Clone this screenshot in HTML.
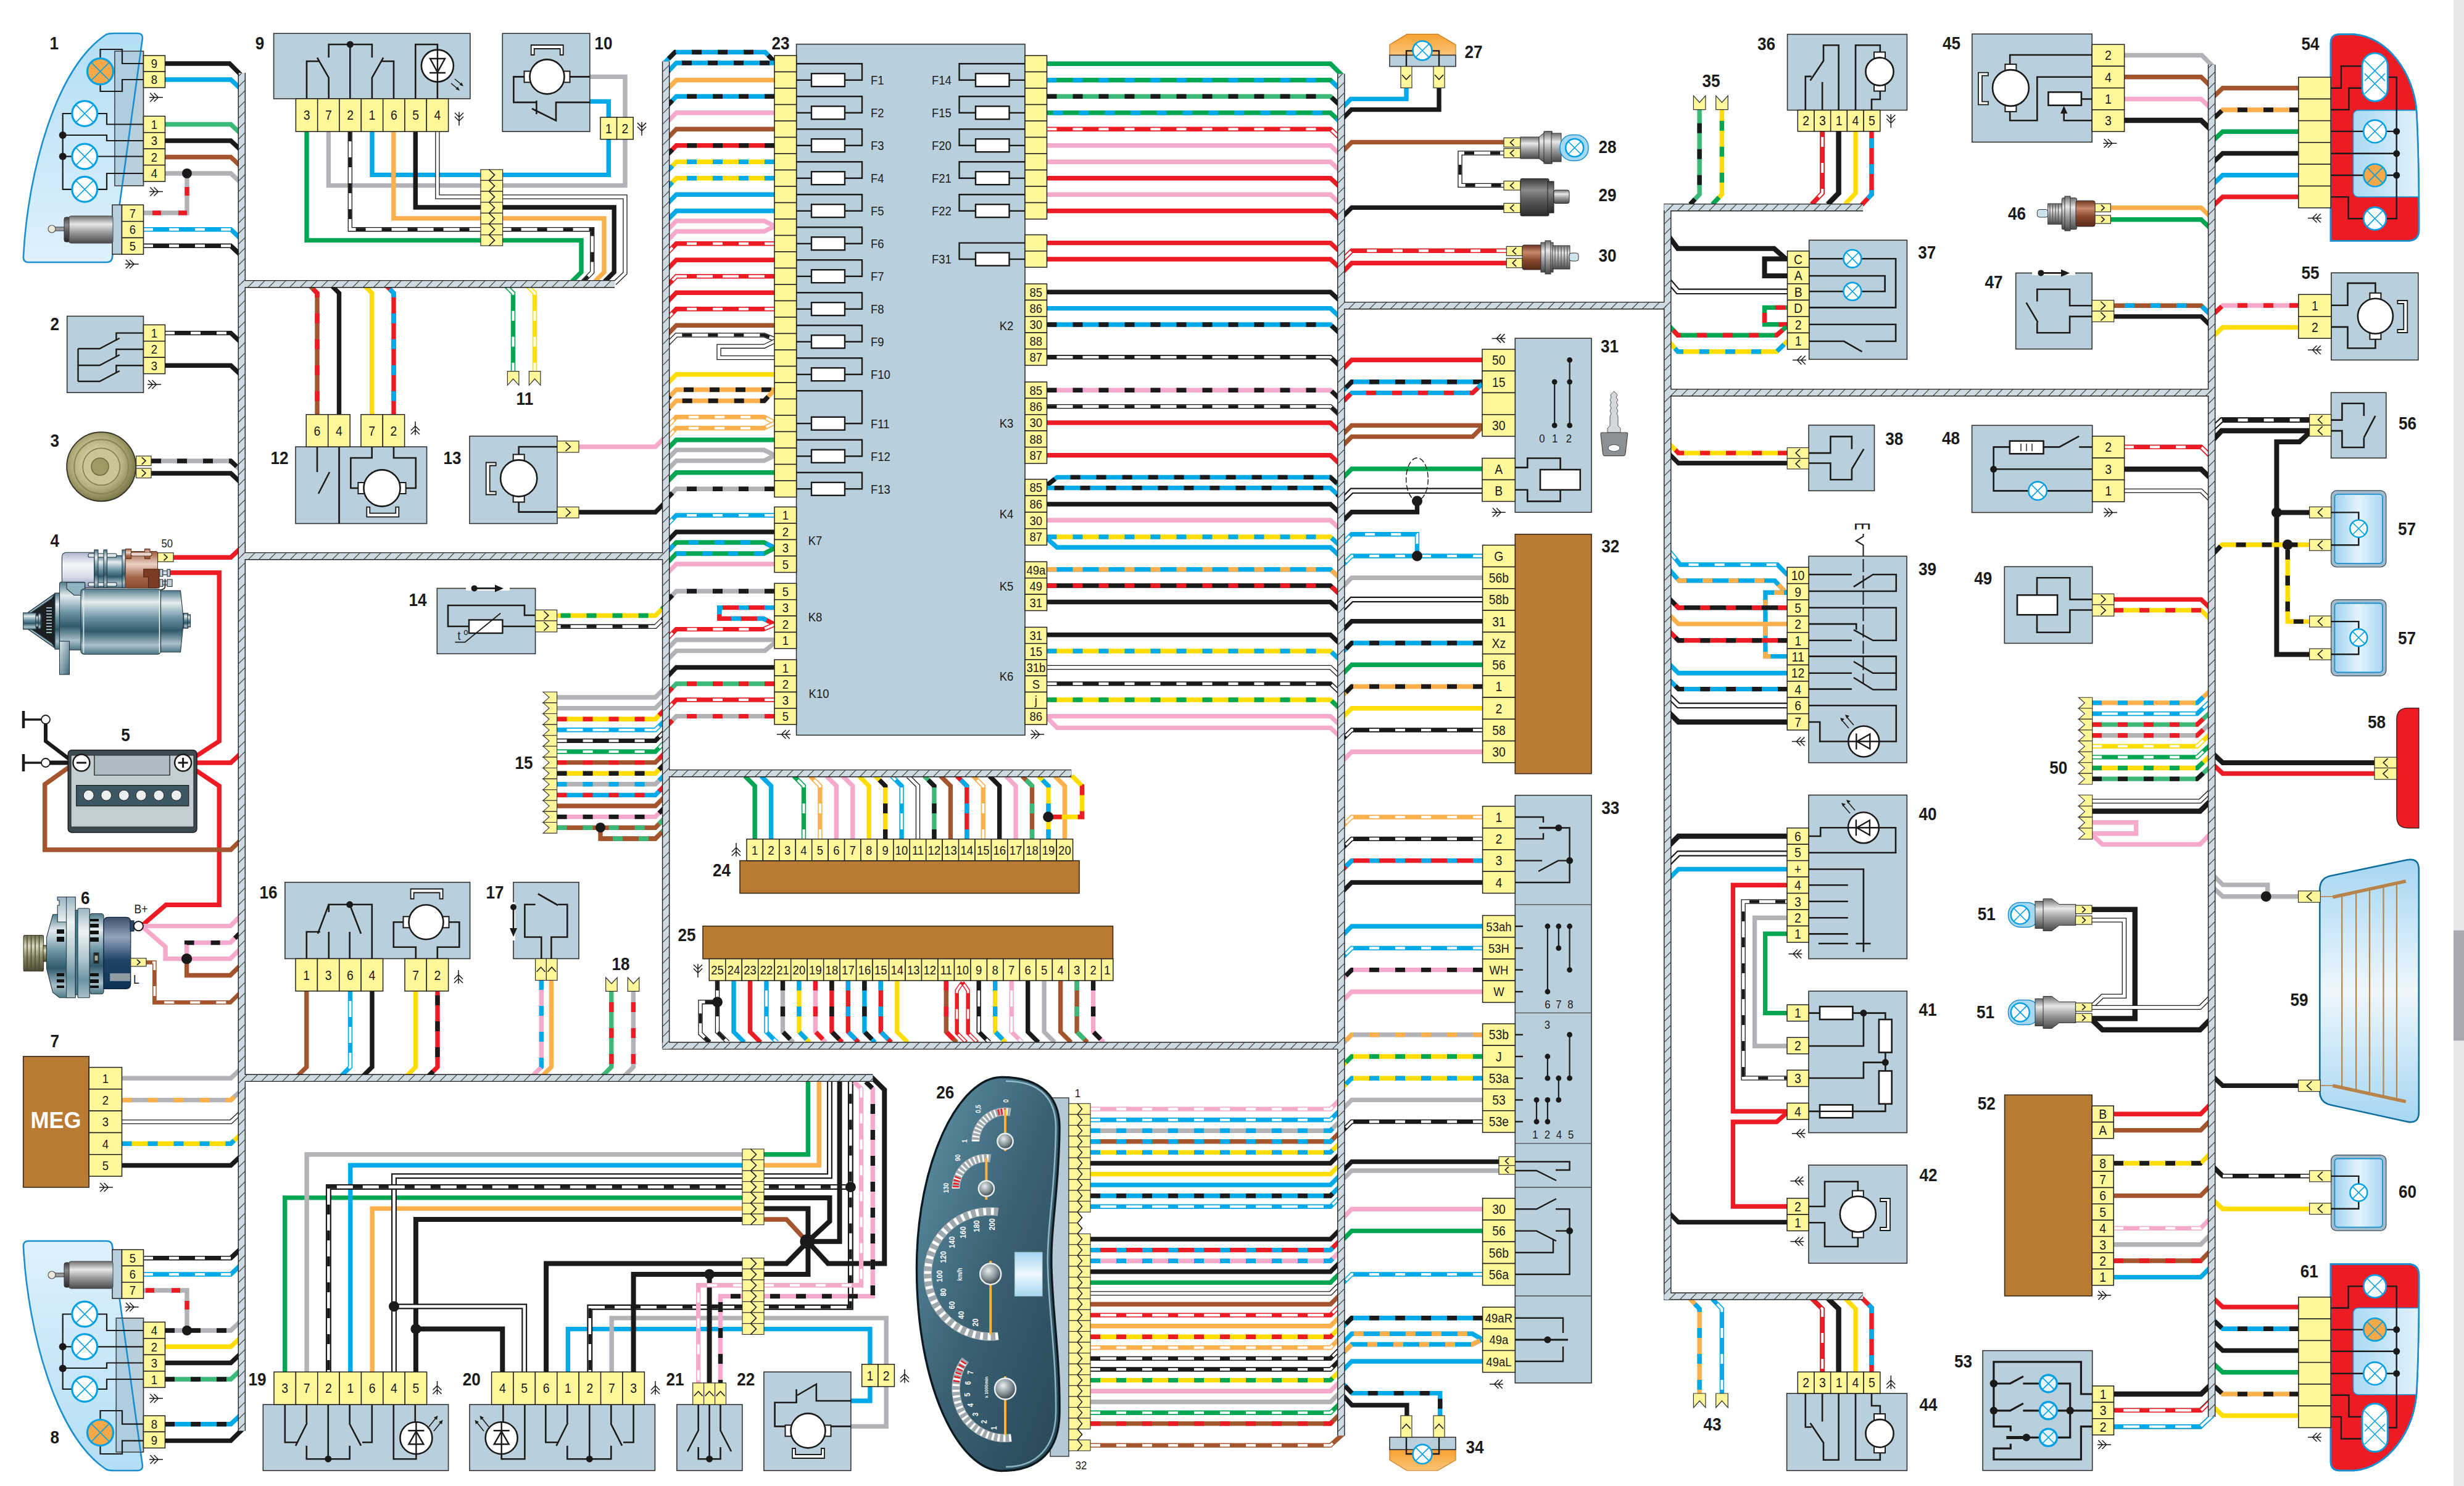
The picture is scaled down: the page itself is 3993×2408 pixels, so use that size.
<!DOCTYPE html><html><head><meta charset="utf-8"><title>Wiring diagram</title><style>html,body{margin:0;padding:0;background:#fff}svg{display:block}text{font-family:"Liberation Sans",sans-serif}</style></head><body><svg width="3993" height="2408" viewBox="0 0 3993 2408"><defs>
<pattern id="hatch" patternUnits="userSpaceOnUse" width="17" height="17"><path d="M-2 19 L19 -2 M-2 2 L2 -2 M15 19 L19 15" stroke="#333" stroke-width="1.1"/></pattern>
<linearGradient id="gHead8" x1="0" y1="0" x2="0" y2="1"><stop offset="0" stop-color="#dff1fb"/><stop offset="1" stop-color="#b3def5"/></linearGradient>
<linearGradient id="gHead" x1="0" y1="0" x2="0" y2="1"><stop offset="0" stop-color="#b3def5"/><stop offset="1" stop-color="#dff1fb"/></linearGradient>
<linearGradient id="gCyl" x1="0" y1="0" x2="0" y2="1"><stop offset="0" stop-color="#6d6e70"/><stop offset="0.3" stop-color="#e8e8e8"/><stop offset="0.6" stop-color="#9a9b9d"/><stop offset="1" stop-color="#4a4a4c"/></linearGradient>
<linearGradient id="gSteel" x1="0" y1="0" x2="0" y2="1"><stop offset="0" stop-color="#4f7a8a"/><stop offset="0.2" stop-color="#e4ecef"/><stop offset="0.45" stop-color="#6a93a2"/><stop offset="0.65" stop-color="#2f5a6b"/><stop offset="0.86" stop-color="#a9c0c9"/><stop offset="1" stop-color="#4d7888"/></linearGradient>
<linearGradient id="gSteelL" x1="0" y1="0" x2="0" y2="1"><stop offset="0" stop-color="#9ab5c0"/><stop offset="0.25" stop-color="#eef3f5"/><stop offset="0.55" stop-color="#b5cad2"/><stop offset="0.8" stop-color="#6a93a2"/><stop offset="1" stop-color="#a9c0c9"/></linearGradient>
<linearGradient id="gSteelH" x1="0" y1="0" x2="1" y2="1"><stop offset="0" stop-color="#dbe6ea"/><stop offset="1" stop-color="#3f6a7a"/></linearGradient>
<linearGradient id="gLav" x1="0" y1="0" x2="0" y2="1"><stop offset="0" stop-color="#aeb6cf"/><stop offset="0.35" stop-color="#f6f7fb"/><stop offset="0.7" stop-color="#d5d9e8"/><stop offset="1" stop-color="#8e98b8"/></linearGradient>
<linearGradient id="gBrn2" x1="0" y1="0" x2="0" y2="1"><stop offset="0" stop-color="#9a5a3e"/><stop offset="0.35" stop-color="#ecd2c4"/><stop offset="0.7" stop-color="#a5674a"/><stop offset="1" stop-color="#8b4a2e"/></linearGradient>
<linearGradient id="gOlive" x1="0" y1="0" x2="0" y2="1"><stop offset="0" stop-color="#6a6a4c"/><stop offset="0.3" stop-color="#d9d9be"/><stop offset="0.6" stop-color="#8a8a68"/><stop offset="1" stop-color="#4a4a32"/></linearGradient>
<linearGradient id="gNavy" x1="0" y1="0" x2="0" y2="1"><stop offset="0" stop-color="#3f4f6e"/><stop offset="0.28" stop-color="#93a3bc"/><stop offset="0.6" stop-color="#1f4468"/><stop offset="1" stop-color="#0c3355"/></linearGradient>
<linearGradient id="gDark" x1="0" y1="0" x2="0" y2="1"><stop offset="0" stop-color="#3c3c3e"/><stop offset="0.3" stop-color="#8a8b8d"/><stop offset="0.6" stop-color="#58595b"/><stop offset="1" stop-color="#2a2a2c"/></linearGradient>
<linearGradient id="gBrn" x1="0" y1="0" x2="0" y2="1"><stop offset="0" stop-color="#6e3520"/><stop offset="0.3" stop-color="#c98a6a"/><stop offset="0.6" stop-color="#8b4a2e"/><stop offset="1" stop-color="#5a2a18"/></linearGradient>
<linearGradient id="gLampBox" x1="0" y1="0" x2="1" y2="0"><stop offset="0" stop-color="#9fd3f0"/><stop offset="0.5" stop-color="#e4f3fb"/><stop offset="1" stop-color="#a8d8f2"/></linearGradient>
<linearGradient id="gWin" x1="0" y1="0" x2="0" y2="1"><stop offset="0" stop-color="#a5d6f2"/><stop offset="0.5" stop-color="#eef7fc"/><stop offset="1" stop-color="#a5d6f2"/></linearGradient>
<linearGradient id="gTail" x1="0" y1="0" x2="1" y2="0"><stop offset="0" stop-color="#a9d9f3"/><stop offset="1" stop-color="#e9f5fc"/></linearGradient>
<radialGradient id="gHorn" cx="0.45" cy="0.45" r="0.6"><stop offset="0" stop-color="#e9e6c0"/><stop offset="0.6" stop-color="#b7b27e"/><stop offset="1" stop-color="#6f6a3c"/></radialGradient>
<linearGradient id="gClus" x1="0" y1="0" x2="1" y2="1"><stop offset="0" stop-color="#5f95aa"/><stop offset="0.5" stop-color="#3a6172"/><stop offset="1" stop-color="#274756"/></linearGradient>
<radialGradient id="gKnob" cx="0.4" cy="0.35" r="0.7"><stop offset="0" stop-color="#e8eef0"/><stop offset="0.6" stop-color="#7d8c92"/><stop offset="1" stop-color="#2d3a40"/></radialGradient>
<linearGradient id="gOr" x1="0" y1="0" x2="0" y2="1"><stop offset="0" stop-color="#f7a030"/><stop offset="1" stop-color="#fbc67a"/></linearGradient>
</defs><rect x="3976" y="0" width="17" height="2408" fill="#e6e7e8"/>
<rect x="3976" y="1507.7" width="17" height="178.5" fill="#a7a9ac"/>
<path d="M267 103 L372 103 L390 121 L390 130" fill="none" stroke-linejoin="miter" stroke-miterlimit="3" stroke="#1a1a1a" stroke-width="7.4"/>
<path d="M267 129 L374 129 L389 143" fill="none" stroke-linejoin="miter" stroke-miterlimit="3" stroke="#00a9e8" stroke-width="7.4"/>
<path d="M267 201.5 L374 201.5 L389 215.5" fill="none" stroke-linejoin="miter" stroke-miterlimit="3" stroke="#3cb878" stroke-width="7.4"/>
<path d="M267 228 L374 228 L389 242" fill="none" stroke-linejoin="miter" stroke-miterlimit="3" stroke="#1a1a1a" stroke-width="7.4"/>
<path d="M267 254.5 L374 254.5 L389 268.5" fill="none" stroke-linejoin="miter" stroke-miterlimit="3" stroke="#a5552d" stroke-width="7.4"/>
<path d="M267 281 L374 281 L389 295" fill="none" stroke-linejoin="miter" stroke-miterlimit="3" stroke="#b1b3b6" stroke-width="7.4"/>
<path d="M303 281 L303 345 L232 345" fill="none" stroke-linejoin="miter" stroke-miterlimit="3" stroke="#b1b3b6" stroke-width="7.4"/>
<path d="M303 281 L303 345 L232 345" fill="none" stroke-linejoin="miter" stroke-miterlimit="3" stroke="#ed1c24" stroke-width="7.4" stroke-dasharray="14 28" stroke-dashoffset="-22"/>
<path d="M232 371.7 L374 371.7 L389 385.7" fill="none" stroke-linejoin="miter" stroke-miterlimit="3" stroke="#00a9e8" stroke-width="7.4"/>
<path d="M232 371.7 L374 371.7 L389 385.7" fill="none" stroke-linejoin="miter" stroke-miterlimit="3" stroke="#fff" stroke-width="4.1" stroke-dasharray="16 26" stroke-dashoffset="0"/>
<path d="M232 398.4 L374 398.4 L389 412.4" fill="none" stroke-linejoin="miter" stroke-miterlimit="3" stroke="#1a1a1a" stroke-width="7.4"/>
<path d="M232 398.4 L374 398.4 L389 412.4" fill="none" stroke-linejoin="miter" stroke-miterlimit="3" stroke="#fff" stroke-width="4.8"/>
<path d="M232 398.4 L374 398.4 L389 412.4" fill="none" stroke-linejoin="miter" stroke-miterlimit="3" stroke="#1a1a1a" stroke-width="7.4"/>
<path d="M232 398.4 L374 398.4 L389 412.4" fill="none" stroke-linejoin="miter" stroke-miterlimit="3" stroke="#fff" stroke-width="4.1" stroke-dasharray="16 26" stroke-dashoffset="0"/>
<path d="M267 539.6 L374 539.6 L389 553.6" fill="none" stroke-linejoin="miter" stroke-miterlimit="3" stroke="#1a1a1a" stroke-width="7.4"/>
<path d="M267 539.6 L374 539.6 L389 553.6" fill="none" stroke-linejoin="miter" stroke-miterlimit="3" stroke="#fff" stroke-width="4.1" stroke-dasharray="16 26" stroke-dashoffset="0"/>
<path d="M267 592.3 L374 592.3 L389 606.3" fill="none" stroke-linejoin="miter" stroke-miterlimit="3" stroke="#1a1a1a" stroke-width="7.4"/>
<path d="M245 747 L374 747 L389 761" fill="none" stroke-linejoin="miter" stroke-miterlimit="3" stroke="#b1b3b6" stroke-width="7.4"/>
<path d="M245 747 L374 747 L389 761" fill="none" stroke-linejoin="miter" stroke-miterlimit="3" stroke="#1a1a1a" stroke-width="7.4" stroke-dasharray="16 26" stroke-dashoffset="0"/>
<path d="M245 767 L374 767 L389 781" fill="none" stroke-linejoin="miter" stroke-miterlimit="3" stroke="#1a1a1a" stroke-width="7.4"/>
<path d="M281 903.3 L374 903.3 L389 889.3" fill="none" stroke-linejoin="miter" stroke-miterlimit="3" stroke="#ed1c24" stroke-width="7.4"/>
<path d="M274 928 L355.2 928 L355.2 1201 L309 1231" fill="none" stroke-linejoin="miter" stroke-miterlimit="3" stroke="#ed1c24" stroke-width="7.4"/>
<path d="M305 1236 L374 1236 L389 1222" fill="none" stroke-linejoin="miter" stroke-miterlimit="3" stroke="#ed1c24" stroke-width="7.4"/>
<path d="M305 1240 L355.2 1273.6 L355.2 1466.2 L269 1466.2 L231 1499" fill="none" stroke-linejoin="miter" stroke-miterlimit="3" stroke="#ed1c24" stroke-width="7.4"/>
<path d="M122 1236 L72.7 1271 L72.7 1377 L374 1377 L389 1362.4" fill="none" stroke-linejoin="miter" stroke-miterlimit="3" stroke="#a5552d" stroke-width="7.4"/>
<path d="M38 1152 L38 1180" fill="none" stroke-linejoin="miter" stroke-miterlimit="3" stroke="#1a1a1a" stroke-width="4.5"/>
<path d="M38 1166 L68 1166" fill="none" stroke-linejoin="miter" stroke-miterlimit="3" stroke="#1a1a1a" stroke-width="3.5"/>
<path d="M74 1172 L74 1201 L120 1236" fill="none" stroke-linejoin="miter" stroke-miterlimit="3" stroke="#1a1a1a" stroke-width="6"/>
<path d="M38 1222 L38 1250" fill="none" stroke-linejoin="miter" stroke-miterlimit="3" stroke="#1a1a1a" stroke-width="4.5"/>
<path d="M38 1236 L68 1236" fill="none" stroke-linejoin="miter" stroke-miterlimit="3" stroke="#1a1a1a" stroke-width="3.5"/>
<path d="M80 1236 L122 1236" fill="none" stroke-linejoin="miter" stroke-miterlimit="3" stroke="#1a1a1a" stroke-width="7"/>
<path d="M232 1500.6 L373.2 1500.6 L388 1486" fill="none" stroke-linejoin="miter" stroke-miterlimit="3" stroke="#f5aacb" stroke-width="7.4"/>
<path d="M231 1502 L268.1 1534.3 L268.1 1553.6 L373.2 1553.6 L388 1539" fill="none" stroke-linejoin="miter" stroke-miterlimit="3" stroke="#f5aacb" stroke-width="7.4"/>
<path d="M302.6 1553.6 L302.6 1527.6 L373.2 1527.6 L388 1513" fill="none" stroke-linejoin="miter" stroke-miterlimit="3" stroke="#f5aacb" stroke-width="7.4"/>
<path d="M302.6 1553.6 L302.6 1527.6 L373.2 1527.6 L388 1513" fill="none" stroke-linejoin="miter" stroke-miterlimit="3" stroke="#1a1a1a" stroke-width="7.4" stroke-dasharray="15 27" stroke-dashoffset="-23"/>
<path d="M302.6 1556 L302.6 1580.5 L373.2 1580.5 L388 1566" fill="none" stroke-linejoin="miter" stroke-miterlimit="3" stroke="#a5552d" stroke-width="7.4"/>
<path d="M237 1559.5 L250.4 1559.5 L250.4 1624.3 L373.2 1624.3 L388 1610" fill="none" stroke-linejoin="miter" stroke-miterlimit="3" stroke="#a5552d" stroke-width="6.7"/>
<path d="M237 1559.5 L250.4 1559.5 L250.4 1624.3 L373.2 1624.3 L388 1610" fill="none" stroke-linejoin="miter" stroke-miterlimit="3" stroke="#fff" stroke-width="3.7" stroke-dasharray="16 26" stroke-dashoffset="-10"/>
<path d="M197.5 1747.3 L374 1747.3 L389 1733.3" fill="none" stroke-linejoin="miter" stroke-miterlimit="3" stroke="#b1b3b6" stroke-width="7.4"/>
<path d="M197.5 1782.6 L374 1782.6 L389 1768.6" fill="none" stroke-linejoin="miter" stroke-miterlimit="3" stroke="#b1b3b6" stroke-width="7.4"/>
<path d="M197.5 1782.6 L374 1782.6 L389 1768.6" fill="none" stroke-linejoin="miter" stroke-miterlimit="3" stroke="#fbb04c" stroke-width="7.4" stroke-dasharray="16 26" stroke-dashoffset="0"/>
<path d="M197.5 1817.9 L374 1817.9 L389 1803.9" fill="none" stroke-linejoin="miter" stroke-miterlimit="3" stroke="#1a1a1a" stroke-width="7.4"/>
<path d="M197.5 1817.9 L374 1817.9 L389 1803.9" fill="none" stroke-linejoin="miter" stroke-miterlimit="3" stroke="#fff" stroke-width="4.8"/>
<path d="M197.5 1853.2 L374 1853.2 L389 1839.2" fill="none" stroke-linejoin="miter" stroke-miterlimit="3" stroke="#ffdd00" stroke-width="7.4"/>
<path d="M197.5 1853.2 L374 1853.2 L389 1839.2" fill="none" stroke-linejoin="miter" stroke-miterlimit="3" stroke="#00a9e8" stroke-width="7.4" stroke-dasharray="16 26" stroke-dashoffset="0"/>
<path d="M197.5 1888.5 L374 1888.5 L389 1874.5" fill="none" stroke-linejoin="miter" stroke-miterlimit="3" stroke="#1a1a1a" stroke-width="7.4"/>
<path d="M232 2038.6 L374 2038.6 L389 2024.6" fill="none" stroke-linejoin="miter" stroke-miterlimit="3" stroke="#1a1a1a" stroke-width="7.4"/>
<path d="M232 2038.6 L374 2038.6 L389 2024.6" fill="none" stroke-linejoin="miter" stroke-miterlimit="3" stroke="#fff" stroke-width="4.8"/>
<path d="M232 2038.6 L374 2038.6 L389 2024.6" fill="none" stroke-linejoin="miter" stroke-miterlimit="3" stroke="#1a1a1a" stroke-width="7.4"/>
<path d="M232 2038.6 L374 2038.6 L389 2024.6" fill="none" stroke-linejoin="miter" stroke-miterlimit="3" stroke="#fff" stroke-width="4.1" stroke-dasharray="16 26" stroke-dashoffset="0"/>
<path d="M232 2065 L374 2065 L389 2051" fill="none" stroke-linejoin="miter" stroke-miterlimit="3" stroke="#00a9e8" stroke-width="7.4"/>
<path d="M232 2065 L374 2065 L389 2051" fill="none" stroke-linejoin="miter" stroke-miterlimit="3" stroke="#fff" stroke-width="4.1" stroke-dasharray="16 26" stroke-dashoffset="0"/>
<path d="M232 2091 L303 2091 L303 2156" fill="none" stroke-linejoin="miter" stroke-miterlimit="3" stroke="#b1b3b6" stroke-width="7.4"/>
<path d="M232 2091 L303 2091 L303 2156" fill="none" stroke-linejoin="miter" stroke-miterlimit="3" stroke="#ed1c24" stroke-width="7.4" stroke-dasharray="14 28" stroke-dashoffset="-4"/>
<path d="M267 2156 L374 2156 L389 2142" fill="none" stroke-linejoin="miter" stroke-miterlimit="3" stroke="#b1b3b6" stroke-width="7.4"/>
<path d="M267 2156 L374 2156 L389 2142" fill="none" stroke-linejoin="miter" stroke-miterlimit="3" stroke="#1a1a1a" stroke-width="7.4" stroke-dasharray="16 26" stroke-dashoffset="0"/>
<path d="M267 2182.3 L374 2182.3 L389 2168.3" fill="none" stroke-linejoin="miter" stroke-miterlimit="3" stroke="#ffdd00" stroke-width="7.4"/>
<path d="M267 2208.5 L374 2208.5 L389 2194.5" fill="none" stroke-linejoin="miter" stroke-miterlimit="3" stroke="#1a1a1a" stroke-width="7.4"/>
<path d="M267 2235 L374 2235 L389 2221" fill="none" stroke-linejoin="miter" stroke-miterlimit="3" stroke="#3cb878" stroke-width="7.4"/>
<path d="M267 2235 L374 2235 L389 2221" fill="none" stroke-linejoin="miter" stroke-miterlimit="3" stroke="#1a1a1a" stroke-width="7.4" stroke-dasharray="16 26" stroke-dashoffset="0"/>
<path d="M267 2307.7 L374 2307.7 L389 2293.7" fill="none" stroke-linejoin="miter" stroke-miterlimit="3" stroke="#00a9e8" stroke-width="7.4"/>
<path d="M267 2307.7 L374 2307.7 L389 2293.7" fill="none" stroke-linejoin="miter" stroke-miterlimit="3" stroke="#1a1a1a" stroke-width="7.4" stroke-dasharray="16 26" stroke-dashoffset="0"/>
<path d="M267 2334.6 L374 2334.6 L392 2317 L392 2300" fill="none" stroke-linejoin="miter" stroke-miterlimit="3" stroke="#1a1a1a" stroke-width="7.4"/>
<path d="M497 213 L497 389.4 L942 389.4 L942 441 L927 456" fill="none" stroke-linejoin="miter" stroke-miterlimit="3" stroke="#00a651" stroke-width="7.4"/>
<path d="M532.4 213 L532.4 300.6 L1013 300.6 L1013 124.4 L955 124.4" fill="none" stroke-linejoin="miter" stroke-miterlimit="3" stroke="#b1b3b6" stroke-width="7.4"/>
<path d="M567.3 213 L567.3 371.7 L959.7 371.7 L959.7 441 L945 456" fill="none" stroke-linejoin="miter" stroke-miterlimit="3" stroke="#1a1a1a" stroke-width="7.4"/>
<path d="M567.3 213 L567.3 371.7 L959.7 371.7 L959.7 441 L945 456" fill="none" stroke-linejoin="miter" stroke-miterlimit="3" stroke="#fff" stroke-width="4.8"/>
<path d="M567.3 213 L567.3 371.7 L959.7 371.7 L959.7 441 L945 456" fill="none" stroke-linejoin="miter" stroke-miterlimit="3" stroke="#1a1a1a" stroke-width="4.8" stroke-dasharray="16 26" stroke-dashoffset="0"/>
<path d="M603 213 L603 283.4 L986.3 283.4 L986.3 164.4 L955 164.4" fill="none" stroke-linejoin="miter" stroke-miterlimit="3" stroke="#00a9e8" stroke-width="7.4"/>
<path d="M637.8 213 L637.8 353.9 L979 353.9 L979 441 L964 456" fill="none" stroke-linejoin="miter" stroke-miterlimit="3" stroke="#fbb04c" stroke-width="7.4"/>
<path d="M673.3 213 L673.3 336 L995.2 336 L995.2 441 L980 456" fill="none" stroke-linejoin="miter" stroke-miterlimit="3" stroke="#1a1a1a" stroke-width="7.4"/>
<path d="M708.9 213 L708.9 319 L1013 319 L1013 442.7 L996 459" fill="none" stroke-linejoin="miter" stroke-miterlimit="3" stroke="#1a1a1a" stroke-width="7.4"/>
<path d="M708.9 213 L708.9 319 L1013 319 L1013 442.7 L996 459" fill="none" stroke-linejoin="miter" stroke-miterlimit="3" stroke="#fff" stroke-width="4.8"/>
<path d="M499 460 L514 475 L514 672" fill="none" stroke-linejoin="miter" stroke-miterlimit="3" stroke="#a5552d" stroke-width="7.4"/>
<path d="M499 460 L514 475 L514 672" fill="none" stroke-linejoin="miter" stroke-miterlimit="3" stroke="#ed1c24" stroke-width="7.4" stroke-dasharray="16 26" stroke-dashoffset="-12"/>
<path d="M534.5 460 L549.5 475 L549.5 672" fill="none" stroke-linejoin="miter" stroke-miterlimit="3" stroke="#1a1a1a" stroke-width="7.4"/>
<path d="M587.7 460 L602.7 475 L602.7 672" fill="none" stroke-linejoin="miter" stroke-miterlimit="3" stroke="#ffdd00" stroke-width="7.4"/>
<path d="M623 460 L638 475 L638 672" fill="none" stroke-linejoin="miter" stroke-miterlimit="3" stroke="#ed1c24" stroke-width="7.4"/>
<path d="M623 460 L638 475 L638 672" fill="none" stroke-linejoin="miter" stroke-miterlimit="3" stroke="#00a9e8" stroke-width="7.4" stroke-dasharray="16 26" stroke-dashoffset="-12"/>
<path d="M816.5 460 L831.5 475 L831.5 602" fill="none" stroke-linejoin="miter" stroke-miterlimit="3" stroke="#00a651" stroke-width="7.4"/>
<path d="M816.5 460 L831.5 475 L831.5 602" fill="none" stroke-linejoin="miter" stroke-miterlimit="3" stroke="#fff" stroke-width="4.1" stroke-dasharray="16 26" stroke-dashoffset="-8"/>
<path d="M851.5 460 L866.5 475 L866.5 602" fill="none" stroke-linejoin="miter" stroke-miterlimit="3" stroke="#ffdd00" stroke-width="7.4"/>
<path d="M851.5 460 L866.5 475 L866.5 602" fill="none" stroke-linejoin="miter" stroke-miterlimit="3" stroke="#fff" stroke-width="4.1" stroke-dasharray="16 26" stroke-dashoffset="-8"/>
<path d="M938 724 L1062 724 L1076 710" fill="none" stroke-linejoin="miter" stroke-miterlimit="3" stroke="#f5aacb" stroke-width="7.4"/>
<path d="M938 830 L1062 830 L1076 816" fill="none" stroke-linejoin="miter" stroke-miterlimit="3" stroke="#1a1a1a" stroke-width="7.4"/>
<path d="M902.6 997.5 L1062 997.5 L1076 983.5" fill="none" stroke-linejoin="miter" stroke-miterlimit="3" stroke="#ffdd00" stroke-width="7.4"/>
<path d="M902.6 997.5 L1062 997.5 L1076 983.5" fill="none" stroke-linejoin="miter" stroke-miterlimit="3" stroke="#00a651" stroke-width="7.4" stroke-dasharray="16 26" stroke-dashoffset="-6"/>
<path d="M902.6 1015.3 L1062 1015.3 L1076 1001.3" fill="none" stroke-linejoin="miter" stroke-miterlimit="3" stroke="#1a1a1a" stroke-width="7.4"/>
<path d="M902.6 1015.3 L1062 1015.3 L1076 1001.3" fill="none" stroke-linejoin="miter" stroke-miterlimit="3" stroke="#fff" stroke-width="4.8"/>
<path d="M902.6 1015.3 L1062 1015.3 L1076 1001.3" fill="none" stroke-linejoin="miter" stroke-miterlimit="3" stroke="#1a1a1a" stroke-width="4.8" stroke-dasharray="16 26" stroke-dashoffset="-6"/>
<path d="M902.6 1130 L1062 1130 L1076 1116" fill="none" stroke-linejoin="miter" stroke-miterlimit="3" stroke="#b1b3b6" stroke-width="7.4"/>
<path d="M902.6 1147.6 L1062 1147.6 L1076 1133.6" fill="none" stroke-linejoin="miter" stroke-miterlimit="3" stroke="#b1b3b6" stroke-width="7.4"/>
<path d="M902.6 1165.2 L1062 1165.2 L1076 1151.2" fill="none" stroke-linejoin="miter" stroke-miterlimit="3" stroke="#ffdd00" stroke-width="7.4"/>
<path d="M902.6 1165.2 L1062 1165.2 L1076 1151.2" fill="none" stroke-linejoin="miter" stroke-miterlimit="3" stroke="#ed1c24" stroke-width="7.4" stroke-dasharray="16 26" stroke-dashoffset="0"/>
<path d="M902.6 1182.8 L1062 1182.8 L1076 1168.8" fill="none" stroke-linejoin="miter" stroke-miterlimit="3" stroke="#00a9e8" stroke-width="7.4"/>
<path d="M902.6 1182.8 L1062 1182.8 L1076 1168.8" fill="none" stroke-linejoin="miter" stroke-miterlimit="3" stroke="#fff" stroke-width="4.1" stroke-dasharray="26 16" stroke-dashoffset="-16"/>
<path d="M902.6 1200.4 L1062 1200.4 L1076 1186.4" fill="none" stroke-linejoin="miter" stroke-miterlimit="3" stroke="#1a1a1a" stroke-width="7.4"/>
<path d="M902.6 1200.4 L1062 1200.4 L1076 1186.4" fill="none" stroke-linejoin="miter" stroke-miterlimit="3" stroke="#fff" stroke-width="4.1" stroke-dasharray="16 26" stroke-dashoffset="0"/>
<path d="M902.6 1218 L1062 1218 L1076 1204" fill="none" stroke-linejoin="miter" stroke-miterlimit="3" stroke="#00a651" stroke-width="7.4"/>
<path d="M902.6 1218 L1062 1218 L1076 1204" fill="none" stroke-linejoin="miter" stroke-miterlimit="3" stroke="#fff" stroke-width="4.1" stroke-dasharray="16 26" stroke-dashoffset="0"/>
<path d="M902.6 1235.6 L1062 1235.6 L1076 1221.6" fill="none" stroke-linejoin="miter" stroke-miterlimit="3" stroke="#a5552d" stroke-width="7.4"/>
<path d="M902.6 1235.6 L1062 1235.6 L1076 1221.6" fill="none" stroke-linejoin="miter" stroke-miterlimit="3" stroke="#ed1c24" stroke-width="7.4" stroke-dasharray="16 26" stroke-dashoffset="0"/>
<path d="M902.6 1253.2 L1062 1253.2 L1076 1239.2" fill="none" stroke-linejoin="miter" stroke-miterlimit="3" stroke="#ffdd00" stroke-width="7.4"/>
<path d="M902.6 1253.2 L1062 1253.2 L1076 1239.2" fill="none" stroke-linejoin="miter" stroke-miterlimit="3" stroke="#1a1a1a" stroke-width="7.4" stroke-dasharray="16 26" stroke-dashoffset="0"/>
<path d="M902.6 1270.8 L1062 1270.8 L1076 1256.8" fill="none" stroke-linejoin="miter" stroke-miterlimit="3" stroke="#b1b3b6" stroke-width="7.4"/>
<path d="M902.6 1270.8 L1062 1270.8 L1076 1256.8" fill="none" stroke-linejoin="miter" stroke-miterlimit="3" stroke="#00a9e8" stroke-width="7.4" stroke-dasharray="16 26" stroke-dashoffset="0"/>
<path d="M902.6 1288.4 L1062 1288.4 L1076 1274.4" fill="none" stroke-linejoin="miter" stroke-miterlimit="3" stroke="#00a9e8" stroke-width="7.4"/>
<path d="M902.6 1288.4 L1062 1288.4 L1076 1274.4" fill="none" stroke-linejoin="miter" stroke-miterlimit="3" stroke="#ed1c24" stroke-width="7.4" stroke-dasharray="16 26" stroke-dashoffset="0"/>
<path d="M902.6 1306 L1062 1306 L1076 1292" fill="none" stroke-linejoin="miter" stroke-miterlimit="3" stroke="#a5552d" stroke-width="7.4"/>
<path d="M902.6 1323.6 L1062 1323.6 L1076 1309.6" fill="none" stroke-linejoin="miter" stroke-miterlimit="3" stroke="#f5aacb" stroke-width="7.4"/>
<path d="M902.6 1323.6 L1062 1323.6 L1076 1309.6" fill="none" stroke-linejoin="miter" stroke-miterlimit="3" stroke="#1a1a1a" stroke-width="7.4" stroke-dasharray="16 26" stroke-dashoffset="0"/>
<path d="M902.6 1341.2 L1062 1341.2 L1076 1327.2" fill="none" stroke-linejoin="miter" stroke-miterlimit="3" stroke="#a5552d" stroke-width="7.4"/>
<path d="M902.6 1341.2 L1062 1341.2 L1076 1327.2" fill="none" stroke-linejoin="miter" stroke-miterlimit="3" stroke="#3cb878" stroke-width="7.4" stroke-dasharray="16 26" stroke-dashoffset="0"/>
<path d="M973 1341 L973 1359 L1062 1359 L1076 1345" fill="none" stroke-linejoin="miter" stroke-miterlimit="3" stroke="#a5552d" stroke-width="7.4"/>
<path d="M973 1359 L1062 1359 L1076 1345" fill="none" stroke-linejoin="miter" stroke-miterlimit="3" stroke="#a5552d" stroke-width="7.4"/>
<path d="M973 1359 L1062 1359 L1076 1345" fill="none" stroke-linejoin="miter" stroke-miterlimit="3" stroke="#3cb878" stroke-width="7.4" stroke-dasharray="16 26" stroke-dashoffset="-20"/>
<path d="M496.8 1606 L496.8 1729 L481.8 1744" fill="none" stroke-linejoin="miter" stroke-miterlimit="3" stroke="#a5552d" stroke-width="7.4"/>
<path d="M567.5 1606 L567.5 1729 L552.5 1744" fill="none" stroke-linejoin="miter" stroke-miterlimit="3" stroke="#00a9e8" stroke-width="7.4"/>
<path d="M567.5 1606 L567.5 1729 L552.5 1744" fill="none" stroke-linejoin="miter" stroke-miterlimit="3" stroke="#fff" stroke-width="4.1" stroke-dasharray="26 16" stroke-dashoffset="-16"/>
<path d="M603 1606 L603 1729 L588 1744" fill="none" stroke-linejoin="miter" stroke-miterlimit="3" stroke="#1a1a1a" stroke-width="7.4"/>
<path d="M673.6 1606 L673.6 1729 L658.6 1744" fill="none" stroke-linejoin="miter" stroke-miterlimit="3" stroke="#ffdd00" stroke-width="7.4"/>
<path d="M709 1606 L709 1729 L694 1744" fill="none" stroke-linejoin="miter" stroke-miterlimit="3" stroke="#ed1c24" stroke-width="7.4"/>
<path d="M709 1606 L709 1729 L694 1744" fill="none" stroke-linejoin="miter" stroke-miterlimit="3" stroke="#1a1a1a" stroke-width="7.4" stroke-dasharray="16 26" stroke-dashoffset="-7"/>
<path d="M877.3 1588 L877.3 1729 L862.3 1744" fill="none" stroke-linejoin="miter" stroke-miterlimit="3" stroke="#f5aacb" stroke-width="7.4"/>
<path d="M877.3 1588 L877.3 1729 L862.3 1744" fill="none" stroke-linejoin="miter" stroke-miterlimit="3" stroke="#00a9e8" stroke-width="7.4" stroke-dasharray="16 26" stroke-dashoffset="0"/>
<path d="M893.4 1588 L893.4 1729 L878.4 1744" fill="none" stroke-linejoin="miter" stroke-miterlimit="3" stroke="#fbb04c" stroke-width="7.4"/>
<path d="M990.8 1606 L990.8 1729 L975.8 1744" fill="none" stroke-linejoin="miter" stroke-miterlimit="3" stroke="#3cb878" stroke-width="7.4"/>
<path d="M990.8 1606 L990.8 1729 L975.8 1744" fill="none" stroke-linejoin="miter" stroke-miterlimit="3" stroke="#ed1c24" stroke-width="7.4" stroke-dasharray="16 26" stroke-dashoffset="-18"/>
<path d="M1026.4 1606 L1026.4 1729 L1011.4 1744" fill="none" stroke-linejoin="miter" stroke-miterlimit="3" stroke="#b1b3b6" stroke-width="7.4"/>
<path d="M1026.4 1606 L1026.4 1729 L1011.4 1744" fill="none" stroke-linejoin="miter" stroke-miterlimit="3" stroke="#ed1c24" stroke-width="7.4" stroke-dasharray="16 26" stroke-dashoffset="-18"/>
<path d="M1256 101 L1240 84.5 L1094 84.5 L1077 101.5" fill="none" stroke-linejoin="miter" stroke-miterlimit="3" stroke="#00a9e8" stroke-width="7.4"/>
<path d="M1256 101 L1240 84.5 L1094 84.5 L1077 101.5" fill="none" stroke-linejoin="miter" stroke-miterlimit="3" stroke="#1a1a1a" stroke-width="7.4" stroke-dasharray="16 26" stroke-dashoffset="0"/>
<path d="M1255 102 L1096 102 L1082 116.5" fill="none" stroke-linejoin="miter" stroke-miterlimit="3" stroke="#00a9e8" stroke-width="7.4"/>
<path d="M1255 102 L1096 102 L1082 116.5" fill="none" stroke-linejoin="miter" stroke-miterlimit="3" stroke="#1a1a1a" stroke-width="7.4" stroke-dasharray="16 26" stroke-dashoffset="-8"/>
<path d="M1255 129.8 L1096 129.8 L1082 144.2" fill="none" stroke-linejoin="miter" stroke-miterlimit="3" stroke="#fbb04c" stroke-width="7.4"/>
<path d="M1255 156.2 L1096 156.2 L1082 170.8" fill="none" stroke-linejoin="miter" stroke-miterlimit="3" stroke="#00a9e8" stroke-width="7.4"/>
<path d="M1255 156.2 L1096 156.2 L1082 170.8" fill="none" stroke-linejoin="miter" stroke-miterlimit="3" stroke="#1a1a1a" stroke-width="7.4" stroke-dasharray="16 26" stroke-dashoffset="0"/>
<path d="M1255 182.8 L1096 182.8 L1082 197.2" fill="none" stroke-linejoin="miter" stroke-miterlimit="3" stroke="#f5aacb" stroke-width="7.4"/>
<path d="M1255 209.2 L1096 209.2 L1082 223.8" fill="none" stroke-linejoin="miter" stroke-miterlimit="3" stroke="#a5552d" stroke-width="7.4"/>
<path d="M1255 235.8 L1096 235.8 L1082 250.2" fill="none" stroke-linejoin="miter" stroke-miterlimit="3" stroke="#ed1c24" stroke-width="7.4"/>
<path d="M1255 235.8 L1096 235.8 L1082 250.2" fill="none" stroke-linejoin="miter" stroke-miterlimit="3" stroke="#1a1a1a" stroke-width="7.4" stroke-dasharray="16 26" stroke-dashoffset="0"/>
<path d="M1255 262.2 L1096 262.2 L1082 276.8" fill="none" stroke-linejoin="miter" stroke-miterlimit="3" stroke="#ffdd00" stroke-width="7.4"/>
<path d="M1255 262.2 L1096 262.2 L1082 276.8" fill="none" stroke-linejoin="miter" stroke-miterlimit="3" stroke="#00a9e8" stroke-width="7.4" stroke-dasharray="16 26" stroke-dashoffset="0"/>
<path d="M1255 288.8 L1096 288.8 L1082 303.2" fill="none" stroke-linejoin="miter" stroke-miterlimit="3" stroke="#ffdd00" stroke-width="7.4"/>
<path d="M1255 288.8 L1096 288.8 L1082 303.2" fill="none" stroke-linejoin="miter" stroke-miterlimit="3" stroke="#00a9e8" stroke-width="7.4" stroke-dasharray="16 26" stroke-dashoffset="0"/>
<path d="M1255 315.2 L1096 315.2 L1082 329.8" fill="none" stroke-linejoin="miter" stroke-miterlimit="3" stroke="#00a9e8" stroke-width="7.4"/>
<path d="M1255 341.8 L1096 341.8 L1082 356.2" fill="none" stroke-linejoin="miter" stroke-miterlimit="3" stroke="#00a9e8" stroke-width="7.4"/>
<path d="M1256 366.5 L1238 358 L1096 358 L1082 372.5" fill="none" stroke-linejoin="miter" stroke-miterlimit="3" stroke="#f5aacb" stroke-width="7.4"/>
<path d="M1256 366.5 L1238 375 L1096 375 L1082 389.5" fill="none" stroke-linejoin="miter" stroke-miterlimit="3" stroke="#f5aacb" stroke-width="7.4"/>
<path d="M1255 394.8 L1096 394.8 L1082 409.2" fill="none" stroke-linejoin="miter" stroke-miterlimit="3" stroke="#ed1c24" stroke-width="7.4"/>
<path d="M1255 394.8 L1096 394.8 L1082 409.2" fill="none" stroke-linejoin="miter" stroke-miterlimit="3" stroke="#fff" stroke-width="4.1" stroke-dasharray="16 26" stroke-dashoffset="0"/>
<path d="M1255 421.2 L1096 421.2 L1082 435.8" fill="none" stroke-linejoin="miter" stroke-miterlimit="3" stroke="#ed1c24" stroke-width="7.4"/>
<path d="M1255 447.8 L1096 447.8 L1082 462.2" fill="none" stroke-linejoin="miter" stroke-miterlimit="3" stroke="#ed1c24" stroke-width="7.4"/>
<path d="M1255 447.8 L1096 447.8 L1082 462.2" fill="none" stroke-linejoin="miter" stroke-miterlimit="3" stroke="#fff" stroke-width="4.1" stroke-dasharray="26 16" stroke-dashoffset="-16"/>
<path d="M1255 474.2 L1096 474.2 L1082 488.8" fill="none" stroke-linejoin="miter" stroke-miterlimit="3" stroke="#ed1c24" stroke-width="7.4"/>
<path d="M1255 500.8 L1096 500.8 L1082 515.2" fill="none" stroke-linejoin="miter" stroke-miterlimit="3" stroke="#ed1c24" stroke-width="7.4"/>
<path d="M1255 500.8 L1096 500.8 L1082 515.2" fill="none" stroke-linejoin="miter" stroke-miterlimit="3" stroke="#fff" stroke-width="4.1" stroke-dasharray="16 26" stroke-dashoffset="0"/>
<path d="M1255 527.2 L1096 527.2 L1082 541.8" fill="none" stroke-linejoin="miter" stroke-miterlimit="3" stroke="#a5552d" stroke-width="7.4"/>
<path d="M1256 550 L1238.4 543 L1096 543 L1082 557.5" fill="none" stroke-linejoin="miter" stroke-miterlimit="3" stroke="#1a1a1a" stroke-width="7.4"/>
<path d="M1256 550 L1238.4 543 L1096 543 L1082 557.5" fill="none" stroke-linejoin="miter" stroke-miterlimit="3" stroke="#fff" stroke-width="4.8"/>
<path d="M1256 550 L1238.4 543 L1096 543 L1082 557.5" fill="none" stroke-linejoin="miter" stroke-miterlimit="3" stroke="#1a1a1a" stroke-width="4.8" stroke-dasharray="16 26" stroke-dashoffset="-10"/>
<path d="M1256 552.5 L1238.4 561.2 L1165 561.2 L1165 579.6 L1256 579.6" fill="none" stroke-linejoin="miter" stroke-miterlimit="3" stroke="#1a1a1a" stroke-width="7.4"/>
<path d="M1256 552.5 L1238.4 561.2 L1165 561.2 L1165 579.6 L1256 579.6" fill="none" stroke-linejoin="miter" stroke-miterlimit="3" stroke="#fff" stroke-width="4.8"/>
<path d="M1255 606.8 L1096 606.8 L1082 621.2" fill="none" stroke-linejoin="miter" stroke-miterlimit="3" stroke="#ffdd00" stroke-width="7.4"/>
<path d="M1256 631.5 L1096 631.5 L1082 646" fill="none" stroke-linejoin="miter" stroke-miterlimit="3" stroke="#fbb04c" stroke-width="7.4"/>
<path d="M1256 631.5 L1096 631.5 L1082 646" fill="none" stroke-linejoin="miter" stroke-miterlimit="3" stroke="#1a1a1a" stroke-width="7.4" stroke-dasharray="16 26" stroke-dashoffset="-6"/>
<path d="M1253 634 L1238.4 649.5 L1096 649.5 L1082 664" fill="none" stroke-linejoin="miter" stroke-miterlimit="3" stroke="#fbb04c" stroke-width="7.4"/>
<path d="M1253 634 L1238.4 649.5 L1096 649.5 L1082 664" fill="none" stroke-linejoin="miter" stroke-miterlimit="3" stroke="#1a1a1a" stroke-width="7.4" stroke-dasharray="16 26" stroke-dashoffset="-12"/>
<path d="M1256 685 L1238 675.8 L1096 675.8 L1082 690.3" fill="none" stroke-linejoin="miter" stroke-miterlimit="3" stroke="#fbb04c" stroke-width="7.4"/>
<path d="M1256 685 L1238 675.8 L1096 675.8 L1082 690.3" fill="none" stroke-linejoin="miter" stroke-miterlimit="3" stroke="#fff" stroke-width="4.1" stroke-dasharray="16 26" stroke-dashoffset="0"/>
<path d="M1256 685 L1238 693.8 L1096 693.8 L1082 708.3" fill="none" stroke-linejoin="miter" stroke-miterlimit="3" stroke="#fbb04c" stroke-width="7.4"/>
<path d="M1256 685 L1238 693.8 L1096 693.8 L1082 708.3" fill="none" stroke-linejoin="miter" stroke-miterlimit="3" stroke="#fff" stroke-width="4.1" stroke-dasharray="16 26" stroke-dashoffset="0"/>
<path d="M1255 712.8 L1096 712.8 L1082 727.2" fill="none" stroke-linejoin="miter" stroke-miterlimit="3" stroke="#00a651" stroke-width="7.4"/>
<path d="M1256 738 L1238 729.1 L1096 729.1 L1082 743.6" fill="none" stroke-linejoin="miter" stroke-miterlimit="3" stroke="#b1b3b6" stroke-width="7.4"/>
<path d="M1256 738 L1238 746.6 L1096 746.6 L1082 761" fill="none" stroke-linejoin="miter" stroke-miterlimit="3" stroke="#b1b3b6" stroke-width="7.4"/>
<path d="M1255 765.8 L1096 765.8 L1082 780.2" fill="none" stroke-linejoin="miter" stroke-miterlimit="3" stroke="#00a651" stroke-width="7.4"/>
<path d="M1255 792.2 L1096 792.2 L1082 806.8" fill="none" stroke-linejoin="miter" stroke-miterlimit="3" stroke="#b1b3b6" stroke-width="7.4"/>
<path d="M1255 792.2 L1096 792.2 L1082 806.8" fill="none" stroke-linejoin="miter" stroke-miterlimit="3" stroke="#1a1a1a" stroke-width="7.4" stroke-dasharray="16 26" stroke-dashoffset="0"/>
<path d="M1255 835 L1096 835 L1082 849.5" fill="none" stroke-linejoin="miter" stroke-miterlimit="3" stroke="#00a9e8" stroke-width="7.4"/>
<path d="M1255 835 L1096 835 L1082 849.5" fill="none" stroke-linejoin="miter" stroke-miterlimit="3" stroke="#fff" stroke-width="4.1" stroke-dasharray="16 26" stroke-dashoffset="0"/>
<path d="M1255 862 L1096 862 L1082 876.5" fill="none" stroke-linejoin="miter" stroke-miterlimit="3" stroke="#1a1a1a" stroke-width="7.4"/>
<path d="M1256 888 L1238 879 L1096 879 L1082 893.5" fill="none" stroke-linejoin="miter" stroke-miterlimit="3" stroke="#00a651" stroke-width="7.4"/>
<path d="M1256 888 L1238 879 L1096 879 L1082 893.5" fill="none" stroke-linejoin="miter" stroke-miterlimit="3" stroke="#00a9e8" stroke-width="7.4" stroke-dasharray="16 26" stroke-dashoffset="0"/>
<path d="M1256 888 L1238 897 L1096 897 L1082 911.5" fill="none" stroke-linejoin="miter" stroke-miterlimit="3" stroke="#00a651" stroke-width="7.4"/>
<path d="M1256 888 L1238 897 L1096 897 L1082 911.5" fill="none" stroke-linejoin="miter" stroke-miterlimit="3" stroke="#00a9e8" stroke-width="7.4" stroke-dasharray="16 26" stroke-dashoffset="-20"/>
<path d="M1255 914 L1096 914 L1082 928.5" fill="none" stroke-linejoin="miter" stroke-miterlimit="3" stroke="#f5aacb" stroke-width="7.4"/>
<path d="M1255 958 L1096 958 L1082 972.5" fill="none" stroke-linejoin="miter" stroke-miterlimit="3" stroke="#b1b3b6" stroke-width="7.4"/>
<path d="M1255 958 L1096 958 L1082 972.5" fill="none" stroke-linejoin="miter" stroke-miterlimit="3" stroke="#1a1a1a" stroke-width="7.4" stroke-dasharray="16 26" stroke-dashoffset="0"/>
<path d="M1255 984.6 L1165.8 984.6 L1165.8 1002.4 L1237 1002.4 L1254 1011" fill="none" stroke-linejoin="miter" stroke-miterlimit="3" stroke="#ed1c24" stroke-width="7.4"/>
<path d="M1255 984.6 L1165.8 984.6 L1165.8 1002.4 L1237 1002.4 L1254 1011" fill="none" stroke-linejoin="miter" stroke-miterlimit="3" stroke="#00a9e8" stroke-width="7.4" stroke-dasharray="16 26" stroke-dashoffset="0"/>
<path d="M1254 1012.5 L1237 1019.6 L1096 1019.6 L1082 1034" fill="none" stroke-linejoin="miter" stroke-miterlimit="3" stroke="#ed1c24" stroke-width="7.4"/>
<path d="M1254 1012.5 L1237 1019.6 L1096 1019.6 L1082 1034" fill="none" stroke-linejoin="miter" stroke-miterlimit="3" stroke="#fff" stroke-width="4.1" stroke-dasharray="16 26" stroke-dashoffset="0"/>
<path d="M1255 1036.8 L1096 1036.8 L1082 1051.3" fill="none" stroke-linejoin="miter" stroke-miterlimit="3" stroke="#b1b3b6" stroke-width="7.4"/>
<path d="M1255 1042 L1239.5 1054.6 L1096 1054.6 L1082 1069" fill="none" stroke-linejoin="miter" stroke-miterlimit="3" stroke="#b1b3b6" stroke-width="7.4"/>
<path d="M1255 1081.5 L1096 1081.5 L1082 1096" fill="none" stroke-linejoin="miter" stroke-miterlimit="3" stroke="#1a1a1a" stroke-width="7.4"/>
<path d="M1255 1108 L1096 1108 L1082 1122.5" fill="none" stroke-linejoin="miter" stroke-miterlimit="3" stroke="#3cb878" stroke-width="7.4"/>
<path d="M1255 1108 L1096 1108 L1082 1122.5" fill="none" stroke-linejoin="miter" stroke-miterlimit="3" stroke="#ed1c24" stroke-width="7.4" stroke-dasharray="16 26" stroke-dashoffset="0"/>
<path d="M1255 1134 L1096 1134 L1082 1148.5" fill="none" stroke-linejoin="miter" stroke-miterlimit="3" stroke="#ed1c24" stroke-width="7.4"/>
<path d="M1255 1134 L1096 1134 L1082 1148.5" fill="none" stroke-linejoin="miter" stroke-miterlimit="3" stroke="#fff" stroke-width="4.1" stroke-dasharray="16 26" stroke-dashoffset="0"/>
<path d="M1255 1160.6 L1096 1160.6 L1082 1175.1" fill="none" stroke-linejoin="miter" stroke-miterlimit="3" stroke="#b1b3b6" stroke-width="7.4"/>
<path d="M1255 1160.6 L1096 1160.6 L1082 1175.1" fill="none" stroke-linejoin="miter" stroke-miterlimit="3" stroke="#ed1c24" stroke-width="7.4" stroke-dasharray="16 26" stroke-dashoffset="0"/>
<path d="M1696.5 103.2 L2156 103.2 L2173 120 L2173 130" fill="none" stroke-linejoin="miter" stroke-miterlimit="3" stroke="#00a651" stroke-width="7.4"/>
<path d="M1696.5 129.8 L2156 129.8 L2171 143.8" fill="none" stroke-linejoin="miter" stroke-miterlimit="3" stroke="#00a651" stroke-width="7.4"/>
<path d="M1696.5 129.8 L2156 129.8 L2171 143.8" fill="none" stroke-linejoin="miter" stroke-miterlimit="3" stroke="#00a9e8" stroke-width="7.4" stroke-dasharray="16 26" stroke-dashoffset="0"/>
<path d="M1696.5 156.2 L2156 156.2 L2171 170.2" fill="none" stroke-linejoin="miter" stroke-miterlimit="3" stroke="#3cb878" stroke-width="7.4"/>
<path d="M1696.5 156.2 L2156 156.2 L2171 170.2" fill="none" stroke-linejoin="miter" stroke-miterlimit="3" stroke="#1a1a1a" stroke-width="7.4" stroke-dasharray="16 26" stroke-dashoffset="0"/>
<path d="M1696.5 182.8 L2156 182.8 L2171 196.8" fill="none" stroke-linejoin="miter" stroke-miterlimit="3" stroke="#00a651" stroke-width="7.4"/>
<path d="M1696.5 182.8 L2156 182.8 L2171 196.8" fill="none" stroke-linejoin="miter" stroke-miterlimit="3" stroke="#00a9e8" stroke-width="7.4" stroke-dasharray="16 26" stroke-dashoffset="-10"/>
<path d="M1696.5 209.2 L2156 209.2 L2171 223.2" fill="none" stroke-linejoin="miter" stroke-miterlimit="3" stroke="#ed1c24" stroke-width="7.4"/>
<path d="M1696.5 209.2 L2156 209.2 L2171 223.2" fill="none" stroke-linejoin="miter" stroke-miterlimit="3" stroke="#fff" stroke-width="4.1" stroke-dasharray="16 26" stroke-dashoffset="0"/>
<path d="M1696.5 235.8 L2156 235.8 L2171 249.8" fill="none" stroke-linejoin="miter" stroke-miterlimit="3" stroke="#f5aacb" stroke-width="7.4"/>
<path d="M1696.5 262.2 L2156 262.2 L2171 276.2" fill="none" stroke-linejoin="miter" stroke-miterlimit="3" stroke="#f5aacb" stroke-width="7.4"/>
<path d="M1696.5 288.8 L2156 288.8 L2171 302.8" fill="none" stroke-linejoin="miter" stroke-miterlimit="3" stroke="#ed1c24" stroke-width="7.4"/>
<path d="M1696.5 315.2 L2156 315.2 L2171 329.2" fill="none" stroke-linejoin="miter" stroke-miterlimit="3" stroke="#f5aacb" stroke-width="7.4"/>
<path d="M1696.5 341.8 L2156 341.8 L2171 355.8" fill="none" stroke-linejoin="miter" stroke-miterlimit="3" stroke="#ed1c24" stroke-width="7.4"/>
<path d="M1696.5 393.6 L2156 393.6 L2171 407.6" fill="none" stroke-linejoin="miter" stroke-miterlimit="3" stroke="#ed1c24" stroke-width="7.4"/>
<path d="M1696.5 420 L2156 420 L2171 434" fill="none" stroke-linejoin="miter" stroke-miterlimit="3" stroke="#ed1c24" stroke-width="7.4"/>
<path d="M1696.5 473.2 L2156 473.2 L2171 487.2" fill="none" stroke-linejoin="miter" stroke-miterlimit="3" stroke="#1a1a1a" stroke-width="7.4"/>
<path d="M1696.5 499.6 L2156 499.6 L2171 513.6" fill="none" stroke-linejoin="miter" stroke-miterlimit="3" stroke="#00a9e8" stroke-width="7.4"/>
<path d="M1696.5 526 L2156 526 L2171 540" fill="none" stroke-linejoin="miter" stroke-miterlimit="3" stroke="#00a9e8" stroke-width="7.4"/>
<path d="M1696.5 526 L2156 526 L2171 540" fill="none" stroke-linejoin="miter" stroke-miterlimit="3" stroke="#1a1a1a" stroke-width="7.4" stroke-dasharray="16 26" stroke-dashoffset="0"/>
<path d="M1696.5 578.8 L2156 578.8 L2171 592.8" fill="none" stroke-linejoin="miter" stroke-miterlimit="3" stroke="#1a1a1a" stroke-width="7.4"/>
<path d="M1696.5 578.8 L2156 578.8 L2171 592.8" fill="none" stroke-linejoin="miter" stroke-miterlimit="3" stroke="#fff" stroke-width="4.1" stroke-dasharray="26 16" stroke-dashoffset="-16"/>
<path d="M1696.5 632.2 L2156 632.2 L2171 646.2" fill="none" stroke-linejoin="miter" stroke-miterlimit="3" stroke="#f5aacb" stroke-width="7.4"/>
<path d="M1696.5 632.2 L2156 632.2 L2171 646.2" fill="none" stroke-linejoin="miter" stroke-miterlimit="3" stroke="#1a1a1a" stroke-width="7.4" stroke-dasharray="16 26" stroke-dashoffset="0"/>
<path d="M1696.5 658.6 L2156 658.6 L2171 672.6" fill="none" stroke-linejoin="miter" stroke-miterlimit="3" stroke="#1a1a1a" stroke-width="7.4"/>
<path d="M1696.5 658.6 L2156 658.6 L2171 672.6" fill="none" stroke-linejoin="miter" stroke-miterlimit="3" stroke="#fff" stroke-width="4.8"/>
<path d="M1696.5 658.6 L2156 658.6 L2171 672.6" fill="none" stroke-linejoin="miter" stroke-miterlimit="3" stroke="#1a1a1a" stroke-width="4.8" stroke-dasharray="16 26" stroke-dashoffset="0"/>
<path d="M1696.5 685 L2156 685 L2171 699" fill="none" stroke-linejoin="miter" stroke-miterlimit="3" stroke="#ed1c24" stroke-width="7.4"/>
<path d="M1696.5 737.8 L2156 737.8 L2171 751.8" fill="none" stroke-linejoin="miter" stroke-miterlimit="3" stroke="#ed1c24" stroke-width="7.4"/>
<path d="M1697 786 L1713 773.4 L2156 773.4 L2171 787.4" fill="none" stroke-linejoin="miter" stroke-miterlimit="3" stroke="#00a9e8" stroke-width="7.4"/>
<path d="M1697 786 L1713 773.4 L2156 773.4 L2171 787.4" fill="none" stroke-linejoin="miter" stroke-miterlimit="3" stroke="#1a1a1a" stroke-width="7.4" stroke-dasharray="16 26" stroke-dashoffset="0"/>
<path d="M1696.5 790.6 L2156 790.6 L2171 804.6" fill="none" stroke-linejoin="miter" stroke-miterlimit="3" stroke="#00a9e8" stroke-width="7.4"/>
<path d="M1696.5 790.6 L2156 790.6 L2171 804.6" fill="none" stroke-linejoin="miter" stroke-miterlimit="3" stroke="#1a1a1a" stroke-width="7.4" stroke-dasharray="16 26" stroke-dashoffset="-12"/>
<path d="M1696.5 817 L2156 817 L2171 831" fill="none" stroke-linejoin="miter" stroke-miterlimit="3" stroke="#1a1a1a" stroke-width="7.4"/>
<path d="M1696.5 843 L2156 843 L2171 857" fill="none" stroke-linejoin="miter" stroke-miterlimit="3" stroke="#f5aacb" stroke-width="7.4"/>
<path d="M1696.5 870 L2156 870 L2171 884" fill="none" stroke-linejoin="miter" stroke-miterlimit="3" stroke="#ffdd00" stroke-width="7.4"/>
<path d="M1696.5 870 L2156 870 L2171 884" fill="none" stroke-linejoin="miter" stroke-miterlimit="3" stroke="#00a9e8" stroke-width="7.4" stroke-dasharray="16 26" stroke-dashoffset="0"/>
<path d="M1697 873 L1713 887 L2156 887 L2171 901" fill="none" stroke-linejoin="miter" stroke-miterlimit="3" stroke="#00a9e8" stroke-width="7.4"/>
<path d="M1696.5 922.7 L2156 922.7 L2171 936.7" fill="none" stroke-linejoin="miter" stroke-miterlimit="3" stroke="#00a9e8" stroke-width="7.4"/>
<path d="M1696.5 922.7 L2156 922.7 L2171 936.7" fill="none" stroke-linejoin="miter" stroke-miterlimit="3" stroke="#fbb04c" stroke-width="7.4" stroke-dasharray="16 26" stroke-dashoffset="0"/>
<path d="M1696.5 949 L2156 949 L2171 963" fill="none" stroke-linejoin="miter" stroke-miterlimit="3" stroke="#1a1a1a" stroke-width="7.4"/>
<path d="M1696.5 949 L2156 949 L2171 963" fill="none" stroke-linejoin="miter" stroke-miterlimit="3" stroke="#ed1c24" stroke-width="7.4" stroke-dasharray="16 26" stroke-dashoffset="0"/>
<path d="M1696.5 975.5 L2156 975.5 L2171 989.5" fill="none" stroke-linejoin="miter" stroke-miterlimit="3" stroke="#1a1a1a" stroke-width="7.4"/>
<path d="M1696.5 1028.7 L2156 1028.7 L2171 1042.7" fill="none" stroke-linejoin="miter" stroke-miterlimit="3" stroke="#1a1a1a" stroke-width="7.4"/>
<path d="M1696.5 1055 L2156 1055 L2171 1069" fill="none" stroke-linejoin="miter" stroke-miterlimit="3" stroke="#ffdd00" stroke-width="7.4"/>
<path d="M1696.5 1055 L2156 1055 L2171 1069" fill="none" stroke-linejoin="miter" stroke-miterlimit="3" stroke="#00a9e8" stroke-width="7.4" stroke-dasharray="16 26" stroke-dashoffset="0"/>
<path d="M1696.5 1081.5 L2156 1081.5 L2171 1095.5" fill="none" stroke-linejoin="miter" stroke-miterlimit="3" stroke="#1a1a1a" stroke-width="7.4"/>
<path d="M1696.5 1081.5 L2156 1081.5 L2171 1095.5" fill="none" stroke-linejoin="miter" stroke-miterlimit="3" stroke="#fff" stroke-width="4.8"/>
<path d="M1696.5 1107.9 L2156 1107.9 L2171 1121.9" fill="none" stroke-linejoin="miter" stroke-miterlimit="3" stroke="#1a1a1a" stroke-width="7.4"/>
<path d="M1696.5 1107.9 L2156 1107.9 L2171 1121.9" fill="none" stroke-linejoin="miter" stroke-miterlimit="3" stroke="#fff" stroke-width="4.1" stroke-dasharray="16 26" stroke-dashoffset="0"/>
<path d="M1696.5 1134 L2156 1134 L2171 1148" fill="none" stroke-linejoin="miter" stroke-miterlimit="3" stroke="#ffdd00" stroke-width="7.4"/>
<path d="M1696.5 1134 L2156 1134 L2171 1148" fill="none" stroke-linejoin="miter" stroke-miterlimit="3" stroke="#00a651" stroke-width="7.4" stroke-dasharray="16 26" stroke-dashoffset="0"/>
<path d="M1696.5 1160.6 L2156 1160.6 L2171 1174.6" fill="none" stroke-linejoin="miter" stroke-miterlimit="3" stroke="#f5aacb" stroke-width="7.4"/>
<path d="M1697 1163 L1713 1179.4 L2156 1179.4 L2171 1193.4" fill="none" stroke-linejoin="miter" stroke-miterlimit="3" stroke="#f5aacb" stroke-width="7.4"/>
<path d="M1223.2 1360 L1223.2 1273.6 L1207.2 1257.6" fill="none" stroke-linejoin="miter" stroke-miterlimit="3" stroke="#00a651" stroke-width="7.4"/>
<path d="M1249.6 1360 L1249.6 1273.6 L1233.6 1257.6" fill="none" stroke-linejoin="miter" stroke-miterlimit="3" stroke="#00a9e8" stroke-width="7.4"/>
<path d="M1302.5 1360 L1302.5 1273.6 L1286.5 1257.6" fill="none" stroke-linejoin="miter" stroke-miterlimit="3" stroke="#00a651" stroke-width="7.4"/>
<path d="M1302.5 1360 L1302.5 1273.6 L1286.5 1257.6" fill="none" stroke-linejoin="miter" stroke-miterlimit="3" stroke="#fff" stroke-width="4.1" stroke-dasharray="16 26" stroke-dashoffset="0"/>
<path d="M1328.9 1360 L1328.9 1273.6 L1312.9 1257.6" fill="none" stroke-linejoin="miter" stroke-miterlimit="3" stroke="#fbb04c" stroke-width="7.4"/>
<path d="M1328.9 1360 L1328.9 1273.6 L1312.9 1257.6" fill="none" stroke-linejoin="miter" stroke-miterlimit="3" stroke="#fff" stroke-width="4.1" stroke-dasharray="16 26" stroke-dashoffset="0"/>
<path d="M1355.4 1360 L1355.4 1273.6 L1339.4 1257.6" fill="none" stroke-linejoin="miter" stroke-miterlimit="3" stroke="#f5aacb" stroke-width="7.4"/>
<path d="M1381.8 1360 L1381.8 1273.6 L1365.8 1257.6" fill="none" stroke-linejoin="miter" stroke-miterlimit="3" stroke="#f5aacb" stroke-width="7.4"/>
<path d="M1408.2 1360 L1408.2 1273.6 L1392.2 1257.6" fill="none" stroke-linejoin="miter" stroke-miterlimit="3" stroke="#ffdd00" stroke-width="7.4"/>
<path d="M1434.7 1360 L1434.7 1273.6 L1418.7 1257.6" fill="none" stroke-linejoin="miter" stroke-miterlimit="3" stroke="#ffdd00" stroke-width="7.4"/>
<path d="M1434.7 1360 L1434.7 1273.6 L1418.7 1257.6" fill="none" stroke-linejoin="miter" stroke-miterlimit="3" stroke="#1a1a1a" stroke-width="7.4" stroke-dasharray="16 26" stroke-dashoffset="0"/>
<path d="M1461.1 1360 L1461.1 1273.6 L1445.1 1257.6" fill="none" stroke-linejoin="miter" stroke-miterlimit="3" stroke="#00a9e8" stroke-width="7.4"/>
<path d="M1461.1 1360 L1461.1 1273.6 L1445.1 1257.6" fill="none" stroke-linejoin="miter" stroke-miterlimit="3" stroke="#fff" stroke-width="4.1" stroke-dasharray="26 16" stroke-dashoffset="-16"/>
<path d="M1487.5 1360 L1487.5 1273.6 L1471.5 1257.6" fill="none" stroke-linejoin="miter" stroke-miterlimit="3" stroke="#1a1a1a" stroke-width="7.4"/>
<path d="M1487.5 1360 L1487.5 1273.6 L1471.5 1257.6" fill="none" stroke-linejoin="miter" stroke-miterlimit="3" stroke="#fff" stroke-width="4.8"/>
<path d="M1513.9 1360 L1513.9 1273.6 L1497.9 1257.6" fill="none" stroke-linejoin="miter" stroke-miterlimit="3" stroke="#3cb878" stroke-width="7.4"/>
<path d="M1513.9 1360 L1513.9 1273.6 L1497.9 1257.6" fill="none" stroke-linejoin="miter" stroke-miterlimit="3" stroke="#1a1a1a" stroke-width="7.4" stroke-dasharray="16 26" stroke-dashoffset="0"/>
<path d="M1540.4 1360 L1540.4 1273.6 L1524.4 1257.6" fill="none" stroke-linejoin="miter" stroke-miterlimit="3" stroke="#a5552d" stroke-width="7.4"/>
<path d="M1566.8 1360 L1566.8 1273.6 L1550.8 1257.6" fill="none" stroke-linejoin="miter" stroke-miterlimit="3" stroke="#ed1c24" stroke-width="7.4"/>
<path d="M1566.8 1360 L1566.8 1273.6 L1550.8 1257.6" fill="none" stroke-linejoin="miter" stroke-miterlimit="3" stroke="#00a9e8" stroke-width="7.4" stroke-dasharray="16 26" stroke-dashoffset="0"/>
<path d="M1593.2 1360 L1593.2 1273.6 L1577.2 1257.6" fill="none" stroke-linejoin="miter" stroke-miterlimit="3" stroke="#fbb04c" stroke-width="7.4"/>
<path d="M1593.2 1360 L1593.2 1273.6 L1577.2 1257.6" fill="none" stroke-linejoin="miter" stroke-miterlimit="3" stroke="#fff" stroke-width="4.1" stroke-dasharray="16 26" stroke-dashoffset="0"/>
<path d="M1619.7 1360 L1619.7 1273.6 L1603.7 1257.6" fill="none" stroke-linejoin="miter" stroke-miterlimit="3" stroke="#1a1a1a" stroke-width="7.4"/>
<path d="M1646.1 1360 L1646.1 1273.6 L1630.1 1257.6" fill="none" stroke-linejoin="miter" stroke-miterlimit="3" stroke="#f5aacb" stroke-width="7.4"/>
<path d="M1672.5 1360 L1672.5 1273.6 L1656.5 1257.6" fill="none" stroke-linejoin="miter" stroke-miterlimit="3" stroke="#a5552d" stroke-width="7.4"/>
<path d="M1672.5 1360 L1672.5 1273.6 L1656.5 1257.6" fill="none" stroke-linejoin="miter" stroke-miterlimit="3" stroke="#3cb878" stroke-width="7.4" stroke-dasharray="16 26" stroke-dashoffset="0"/>
<path d="M1699 1360 L1699 1273.6 L1683 1257.6" fill="none" stroke-linejoin="miter" stroke-miterlimit="3" stroke="#ffdd00" stroke-width="7.4"/>
<path d="M1699 1360 L1699 1273.6 L1683 1257.6" fill="none" stroke-linejoin="miter" stroke-miterlimit="3" stroke="#00a9e8" stroke-width="7.4" stroke-dasharray="16 26" stroke-dashoffset="0"/>
<path d="M1725.4 1360 L1725.4 1273.6 L1709.4 1257.6" fill="none" stroke-linejoin="miter" stroke-miterlimit="3" stroke="#fbb04c" stroke-width="7.4"/>
<path d="M1698.6 1323.7 L1753.5 1323.7 L1753.5 1273.6 L1737 1257" fill="none" stroke-linejoin="miter" stroke-miterlimit="3" stroke="#ffdd00" stroke-width="7.4"/>
<path d="M1698.6 1323.7 L1753.5 1323.7 L1753.5 1273.6 L1737 1257" fill="none" stroke-linejoin="miter" stroke-miterlimit="3" stroke="#ed1c24" stroke-width="7.4" stroke-dasharray="16 26" stroke-dashoffset="-6"/>
<path d="M1162.5 1589 L1162.5 1672 L1179.5 1689" fill="none" stroke-linejoin="miter" stroke-miterlimit="3" stroke="#1a1a1a" stroke-width="7.4"/>
<path d="M1162.5 1589 L1162.5 1672 L1179.5 1689" fill="none" stroke-linejoin="miter" stroke-miterlimit="3" stroke="#fff" stroke-width="4.8"/>
<path d="M1162.5 1589 L1162.5 1672 L1179.5 1689" fill="none" stroke-linejoin="miter" stroke-miterlimit="3" stroke="#1a1a1a" stroke-width="4.8" stroke-dasharray="16 26" stroke-dashoffset="0"/>
<path d="M1189 1589 L1189 1672 L1206 1689" fill="none" stroke-linejoin="miter" stroke-miterlimit="3" stroke="#00a9e8" stroke-width="7.4"/>
<path d="M1215.5 1589 L1215.5 1672 L1232.5 1689" fill="none" stroke-linejoin="miter" stroke-miterlimit="3" stroke="#ed1c24" stroke-width="7.4"/>
<path d="M1242 1589 L1242 1672 L1259 1689" fill="none" stroke-linejoin="miter" stroke-miterlimit="3" stroke="#00a9e8" stroke-width="7.4"/>
<path d="M1242 1589 L1242 1672 L1259 1689" fill="none" stroke-linejoin="miter" stroke-miterlimit="3" stroke="#fff" stroke-width="4.1" stroke-dasharray="26 16" stroke-dashoffset="-16"/>
<path d="M1268.5 1589 L1268.5 1672 L1285.5 1689" fill="none" stroke-linejoin="miter" stroke-miterlimit="3" stroke="#b1b3b6" stroke-width="7.4"/>
<path d="M1268.5 1589 L1268.5 1672 L1285.5 1689" fill="none" stroke-linejoin="miter" stroke-miterlimit="3" stroke="#1a1a1a" stroke-width="7.4" stroke-dasharray="16 26" stroke-dashoffset="0"/>
<path d="M1294.9 1589 L1294.9 1672 L1311.9 1689" fill="none" stroke-linejoin="miter" stroke-miterlimit="3" stroke="#ffdd00" stroke-width="7.4"/>
<path d="M1294.9 1589 L1294.9 1672 L1311.9 1689" fill="none" stroke-linejoin="miter" stroke-miterlimit="3" stroke="#00a9e8" stroke-width="7.4" stroke-dasharray="16 26" stroke-dashoffset="0"/>
<path d="M1321.4 1589 L1321.4 1672 L1338.4 1689" fill="none" stroke-linejoin="miter" stroke-miterlimit="3" stroke="#f5aacb" stroke-width="7.4"/>
<path d="M1321.4 1589 L1321.4 1672 L1338.4 1689" fill="none" stroke-linejoin="miter" stroke-miterlimit="3" stroke="#ed1c24" stroke-width="7.4" stroke-dasharray="16 26" stroke-dashoffset="0"/>
<path d="M1347.9 1589 L1347.9 1672 L1364.9 1689" fill="none" stroke-linejoin="miter" stroke-miterlimit="3" stroke="#ed1c24" stroke-width="7.4"/>
<path d="M1347.9 1589 L1347.9 1672 L1364.9 1689" fill="none" stroke-linejoin="miter" stroke-miterlimit="3" stroke="#1a1a1a" stroke-width="7.4" stroke-dasharray="16 26" stroke-dashoffset="0"/>
<path d="M1374.4 1589 L1374.4 1672 L1391.4 1689" fill="none" stroke-linejoin="miter" stroke-miterlimit="3" stroke="#ed1c24" stroke-width="7.4"/>
<path d="M1374.4 1589 L1374.4 1672 L1391.4 1689" fill="none" stroke-linejoin="miter" stroke-miterlimit="3" stroke="#00a9e8" stroke-width="7.4" stroke-dasharray="16 26" stroke-dashoffset="0"/>
<path d="M1400.9 1589 L1400.9 1672 L1417.9 1689" fill="none" stroke-linejoin="miter" stroke-miterlimit="3" stroke="#00a9e8" stroke-width="7.4"/>
<path d="M1400.9 1589 L1400.9 1672 L1417.9 1689" fill="none" stroke-linejoin="miter" stroke-miterlimit="3" stroke="#1a1a1a" stroke-width="7.4" stroke-dasharray="16 26" stroke-dashoffset="0"/>
<path d="M1427.3 1589 L1427.3 1672 L1444.3 1689" fill="none" stroke-linejoin="miter" stroke-miterlimit="3" stroke="#ed1c24" stroke-width="7.4"/>
<path d="M1427.3 1589 L1427.3 1672 L1444.3 1689" fill="none" stroke-linejoin="miter" stroke-miterlimit="3" stroke="#00a9e8" stroke-width="7.4" stroke-dasharray="16 26" stroke-dashoffset="0"/>
<path d="M1453.8 1589 L1453.8 1672 L1470.8 1689" fill="none" stroke-linejoin="miter" stroke-miterlimit="3" stroke="#ffdd00" stroke-width="7.4"/>
<path d="M1533.3 1589 L1533.3 1672 L1550.3 1689" fill="none" stroke-linejoin="miter" stroke-miterlimit="3" stroke="#a5552d" stroke-width="7.4"/>
<path d="M1533.3 1589 L1533.3 1672 L1550.3 1689" fill="none" stroke-linejoin="miter" stroke-miterlimit="3" stroke="#ed1c24" stroke-width="7.4" stroke-dasharray="16 26" stroke-dashoffset="0"/>
<path d="M1586.2 1589 L1586.2 1672 L1603.2 1689" fill="none" stroke-linejoin="miter" stroke-miterlimit="3" stroke="#1a1a1a" stroke-width="7.4"/>
<path d="M1586.2 1589 L1586.2 1672 L1603.2 1689" fill="none" stroke-linejoin="miter" stroke-miterlimit="3" stroke="#fff" stroke-width="4.1" stroke-dasharray="26 16" stroke-dashoffset="-16"/>
<path d="M1612.7 1589 L1612.7 1672 L1629.7 1689" fill="none" stroke-linejoin="miter" stroke-miterlimit="3" stroke="#ffdd00" stroke-width="7.4"/>
<path d="M1612.7 1589 L1612.7 1672 L1629.7 1689" fill="none" stroke-linejoin="miter" stroke-miterlimit="3" stroke="#00a9e8" stroke-width="7.4" stroke-dasharray="16 26" stroke-dashoffset="0"/>
<path d="M1639.2 1589 L1639.2 1672 L1656.2 1689" fill="none" stroke-linejoin="miter" stroke-miterlimit="3" stroke="#f5aacb" stroke-width="7.4"/>
<path d="M1639.2 1589 L1639.2 1672 L1656.2 1689" fill="none" stroke-linejoin="miter" stroke-miterlimit="3" stroke="#fff" stroke-width="4.1" stroke-dasharray="26 16" stroke-dashoffset="-16"/>
<path d="M1665.7 1589 L1665.7 1672 L1682.7 1689" fill="none" stroke-linejoin="miter" stroke-miterlimit="3" stroke="#1a1a1a" stroke-width="7.4"/>
<path d="M1692.1 1589 L1692.1 1672 L1709.1 1689" fill="none" stroke-linejoin="miter" stroke-miterlimit="3" stroke="#b1b3b6" stroke-width="7.4"/>
<path d="M1718.6 1589 L1718.6 1672 L1735.6 1689" fill="none" stroke-linejoin="miter" stroke-miterlimit="3" stroke="#a5552d" stroke-width="7.4"/>
<path d="M1745.1 1589 L1745.1 1672 L1762.1 1689" fill="none" stroke-linejoin="miter" stroke-miterlimit="3" stroke="#a5552d" stroke-width="7.4"/>
<path d="M1745.1 1589 L1745.1 1672 L1762.1 1689" fill="none" stroke-linejoin="miter" stroke-miterlimit="3" stroke="#3cb878" stroke-width="7.4" stroke-dasharray="16 26" stroke-dashoffset="0"/>
<path d="M1771.6 1589 L1771.6 1672 L1788.6 1689" fill="none" stroke-linejoin="miter" stroke-miterlimit="3" stroke="#f5aacb" stroke-width="7.4"/>
<path d="M1771.6 1589 L1771.6 1672 L1788.6 1689" fill="none" stroke-linejoin="miter" stroke-miterlimit="3" stroke="#1a1a1a" stroke-width="7.4" stroke-dasharray="16 26" stroke-dashoffset="0"/>
<path d="M1162.5 1623.7 L1135 1623.7 L1135 1674.8 L1150 1689" fill="none" stroke-linejoin="miter" stroke-miterlimit="3" stroke="#1a1a1a" stroke-width="7.4"/>
<path d="M1162.5 1623.7 L1135 1623.7 L1135 1674.8 L1150 1689" fill="none" stroke-linejoin="miter" stroke-miterlimit="3" stroke="#fff" stroke-width="4.8"/>
<path d="M1162.5 1623.7 L1135 1623.7 L1135 1674.8 L1150 1689" fill="none" stroke-linejoin="miter" stroke-miterlimit="3" stroke="#1a1a1a" stroke-width="4.8" stroke-dasharray="16 26" stroke-dashoffset="-4"/>
<path d="M1559.7 1592 L1550.7 1605 L1550.7 1674 L1565.7 1689" fill="none" stroke-linejoin="miter" stroke-miterlimit="3" stroke="#ed1c24" stroke-width="6.5"/>
<path d="M1559.7 1592 L1550.7 1605 L1550.7 1674 L1565.7 1689" fill="none" stroke-linejoin="miter" stroke-miterlimit="3" stroke="#fff" stroke-width="3.6" stroke-dasharray="16 26" stroke-dashoffset="-4"/>
<path d="M1559.7 1592 L1568.7 1605 L1568.7 1674 L1583.7 1689" fill="none" stroke-linejoin="miter" stroke-miterlimit="3" stroke="#ed1c24" stroke-width="6.5"/>
<path d="M1559.7 1592 L1568.7 1605 L1568.7 1674 L1583.7 1689" fill="none" stroke-linejoin="miter" stroke-miterlimit="3" stroke="#fff" stroke-width="3.6" stroke-dasharray="16 26" stroke-dashoffset="-4"/>
<path d="M1767 1797.1 L2156 1797.1 L2170 1783.1" fill="none" stroke-linejoin="miter" stroke-miterlimit="3" stroke="#f5aacb" stroke-width="7.4"/>
<path d="M1767 1797.1 L2156 1797.1 L2170 1783.1" fill="none" stroke-linejoin="miter" stroke-miterlimit="3" stroke="#fff" stroke-width="4.1" stroke-dasharray="16 26" stroke-dashoffset="0"/>
<path d="M1767 1814.7 L2156 1814.7 L2170 1800.7" fill="none" stroke-linejoin="miter" stroke-miterlimit="3" stroke="#00a9e8" stroke-width="7.4"/>
<path d="M1767 1814.7 L2156 1814.7 L2170 1800.7" fill="none" stroke-linejoin="miter" stroke-miterlimit="3" stroke="#fff" stroke-width="4.1" stroke-dasharray="16 26" stroke-dashoffset="0"/>
<path d="M1767 1832.2 L2156 1832.2 L2170 1818.2" fill="none" stroke-linejoin="miter" stroke-miterlimit="3" stroke="#b1b3b6" stroke-width="7.4"/>
<path d="M1767 1832.2 L2156 1832.2 L2170 1818.2" fill="none" stroke-linejoin="miter" stroke-miterlimit="3" stroke="#00a9e8" stroke-width="7.4" stroke-dasharray="16 26" stroke-dashoffset="0"/>
<path d="M1767 1849.8 L2156 1849.8 L2170 1835.8" fill="none" stroke-linejoin="miter" stroke-miterlimit="3" stroke="#a5552d" stroke-width="7.4"/>
<path d="M1767 1849.8 L2156 1849.8 L2170 1835.8" fill="none" stroke-linejoin="miter" stroke-miterlimit="3" stroke="#00a9e8" stroke-width="7.4" stroke-dasharray="16 26" stroke-dashoffset="0"/>
<path d="M1767 1867.4 L2156 1867.4 L2170 1853.4" fill="none" stroke-linejoin="miter" stroke-miterlimit="3" stroke="#ffdd00" stroke-width="7.4"/>
<path d="M1767 1867.4 L2156 1867.4 L2170 1853.4" fill="none" stroke-linejoin="miter" stroke-miterlimit="3" stroke="#00a9e8" stroke-width="7.4" stroke-dasharray="16 26" stroke-dashoffset="0"/>
<path d="M1767 1885 L2156 1885 L2170 1871" fill="none" stroke-linejoin="miter" stroke-miterlimit="3" stroke="#1a1a1a" stroke-width="7.4"/>
<path d="M1767 1902.6 L2156 1902.6 L2170 1888.6" fill="none" stroke-linejoin="miter" stroke-miterlimit="3" stroke="#ffdd00" stroke-width="7.4"/>
<path d="M1767 1920.1 L2156 1920.1 L2170 1906.1" fill="none" stroke-linejoin="miter" stroke-miterlimit="3" stroke="#00a9e8" stroke-width="7.4"/>
<path d="M1767 1937.7 L2156 1937.7 L2170 1923.7" fill="none" stroke-linejoin="miter" stroke-miterlimit="3" stroke="#00a9e8" stroke-width="7.4"/>
<path d="M1767 1937.7 L2156 1937.7 L2170 1923.7" fill="none" stroke-linejoin="miter" stroke-miterlimit="3" stroke="#1a1a1a" stroke-width="7.4" stroke-dasharray="16 26" stroke-dashoffset="0"/>
<path d="M1767 1955.3 L2156 1955.3 L2170 1941.3" fill="none" stroke-linejoin="miter" stroke-miterlimit="3" stroke="#00a9e8" stroke-width="7.4"/>
<path d="M1767 1955.3 L2156 1955.3 L2170 1941.3" fill="none" stroke-linejoin="miter" stroke-miterlimit="3" stroke="#fff" stroke-width="4.1" stroke-dasharray="26 16" stroke-dashoffset="-16"/>
<path d="M1767 2008 L2156 2008 L2170 1994" fill="none" stroke-linejoin="miter" stroke-miterlimit="3" stroke="#1a1a1a" stroke-width="7.4"/>
<path d="M1767 2025.6 L2156 2025.6 L2170 2011.6" fill="none" stroke-linejoin="miter" stroke-miterlimit="3" stroke="#ed1c24" stroke-width="7.4"/>
<path d="M1767 2025.6 L2156 2025.6 L2170 2011.6" fill="none" stroke-linejoin="miter" stroke-miterlimit="3" stroke="#00a9e8" stroke-width="7.4" stroke-dasharray="16 26" stroke-dashoffset="0"/>
<path d="M1767 2043.2 L2156 2043.2 L2170 2029.2" fill="none" stroke-linejoin="miter" stroke-miterlimit="3" stroke="#f5aacb" stroke-width="7.4"/>
<path d="M1767 2043.2 L2156 2043.2 L2170 2029.2" fill="none" stroke-linejoin="miter" stroke-miterlimit="3" stroke="#00a9e8" stroke-width="7.4" stroke-dasharray="16 26" stroke-dashoffset="0"/>
<path d="M1767 2060.8 L2156 2060.8 L2170 2046.8" fill="none" stroke-linejoin="miter" stroke-miterlimit="3" stroke="#1a1a1a" stroke-width="7.4"/>
<path d="M1767 2078.4 L2156 2078.4 L2170 2064.4" fill="none" stroke-linejoin="miter" stroke-miterlimit="3" stroke="#00a651" stroke-width="7.4"/>
<path d="M1767 2095.9 L2156 2095.9 L2170 2081.9" fill="none" stroke-linejoin="miter" stroke-miterlimit="3" stroke="#1a1a1a" stroke-width="7.4"/>
<path d="M1767 2095.9 L2156 2095.9 L2170 2081.9" fill="none" stroke-linejoin="miter" stroke-miterlimit="3" stroke="#fff" stroke-width="4.8"/>
<path d="M1767 2113.5 L2156 2113.5 L2170 2099.5" fill="none" stroke-linejoin="miter" stroke-miterlimit="3" stroke="#a5552d" stroke-width="7.4"/>
<path d="M1767 2131.1 L2156 2131.1 L2170 2117.1" fill="none" stroke-linejoin="miter" stroke-miterlimit="3" stroke="#ed1c24" stroke-width="7.4"/>
<path d="M1767 2131.1 L2156 2131.1 L2170 2117.1" fill="none" stroke-linejoin="miter" stroke-miterlimit="3" stroke="#fff" stroke-width="4.1" stroke-dasharray="26 16" stroke-dashoffset="-16"/>
<path d="M1767 2148.7 L2156 2148.7 L2170 2134.7" fill="none" stroke-linejoin="miter" stroke-miterlimit="3" stroke="#fbb04c" stroke-width="7.4"/>
<path d="M1767 2166.3 L2156 2166.3 L2170 2152.3" fill="none" stroke-linejoin="miter" stroke-miterlimit="3" stroke="#ffdd00" stroke-width="7.4"/>
<path d="M1767 2166.3 L2156 2166.3 L2170 2152.3" fill="none" stroke-linejoin="miter" stroke-miterlimit="3" stroke="#ed1c24" stroke-width="7.4" stroke-dasharray="16 26" stroke-dashoffset="0"/>
<path d="M1767 2183.8 L2156 2183.8 L2170 2169.8" fill="none" stroke-linejoin="miter" stroke-miterlimit="3" stroke="#fbb04c" stroke-width="7.4"/>
<path d="M1767 2183.8 L2156 2183.8 L2170 2169.8" fill="none" stroke-linejoin="miter" stroke-miterlimit="3" stroke="#fff" stroke-width="4.1" stroke-dasharray="16 26" stroke-dashoffset="0"/>
<path d="M1767 2201.4 L2156 2201.4 L2170 2187.4" fill="none" stroke-linejoin="miter" stroke-miterlimit="3" stroke="#1a1a1a" stroke-width="7.4"/>
<path d="M1767 2201.4 L2156 2201.4 L2170 2187.4" fill="none" stroke-linejoin="miter" stroke-miterlimit="3" stroke="#fff" stroke-width="4.1" stroke-dasharray="26 16" stroke-dashoffset="-16"/>
<path d="M1767 2219 L2156 2219 L2170 2205" fill="none" stroke-linejoin="miter" stroke-miterlimit="3" stroke="#1a1a1a" stroke-width="7.4"/>
<path d="M1767 2219 L2156 2219 L2170 2205" fill="none" stroke-linejoin="miter" stroke-miterlimit="3" stroke="#fff" stroke-width="4.1" stroke-dasharray="16 26" stroke-dashoffset="0"/>
<path d="M1767 2236.6 L2156 2236.6 L2170 2222.6" fill="none" stroke-linejoin="miter" stroke-miterlimit="3" stroke="#ffdd00" stroke-width="7.4"/>
<path d="M1767 2236.6 L2156 2236.6 L2170 2222.6" fill="none" stroke-linejoin="miter" stroke-miterlimit="3" stroke="#00a651" stroke-width="7.4" stroke-dasharray="16 26" stroke-dashoffset="0"/>
<path d="M1767 2254.2 L2156 2254.2 L2170 2240.2" fill="none" stroke-linejoin="miter" stroke-miterlimit="3" stroke="#f5aacb" stroke-width="7.4"/>
<path d="M1767 2271.8 L2156 2271.8 L2170 2257.8" fill="none" stroke-linejoin="miter" stroke-miterlimit="3" stroke="#b1b3b6" stroke-width="7.4"/>
<path d="M1767 2289.3 L2156 2289.3 L2170 2275.3" fill="none" stroke-linejoin="miter" stroke-miterlimit="3" stroke="#00a651" stroke-width="7.4"/>
<path d="M1767 2289.3 L2156 2289.3 L2170 2275.3" fill="none" stroke-linejoin="miter" stroke-miterlimit="3" stroke="#fff" stroke-width="4.1" stroke-dasharray="16 26" stroke-dashoffset="0"/>
<path d="M1767 2306.9 L2156 2306.9 L2170 2292.9" fill="none" stroke-linejoin="miter" stroke-miterlimit="3" stroke="#a5552d" stroke-width="7.4"/>
<path d="M1767 2306.9 L2156 2306.9 L2170 2292.9" fill="none" stroke-linejoin="miter" stroke-miterlimit="3" stroke="#ed1c24" stroke-width="7.4" stroke-dasharray="16 26" stroke-dashoffset="0"/>
<path d="M1767 2342.1 L2156 2342.1 L2175 2325.1 L2175 2312.1" fill="none" stroke-linejoin="miter" stroke-miterlimit="3" stroke="#a5552d" stroke-width="7.4"/>
<path d="M1767 2342.1 L2156 2342.1 L2175 2325.1 L2175 2312.1" fill="none" stroke-linejoin="miter" stroke-miterlimit="3" stroke="#fff" stroke-width="4.1" stroke-dasharray="16 26" stroke-dashoffset="0"/>
<path d="M2176 174 L2189 160.4 L2279 160.4 L2279 142" fill="none" stroke-linejoin="miter" stroke-miterlimit="3" stroke="#00a9e8" stroke-width="7.4"/>
<path d="M2176 192 L2190 177.6 L2332 177.6 L2332 142" fill="none" stroke-linejoin="miter" stroke-miterlimit="3" stroke="#1a1a1a" stroke-width="7.4"/>
<path d="M2437 230.4 L2190.5 230.4 L2176 244.9" fill="none" stroke-linejoin="miter" stroke-miterlimit="3" stroke="#a5552d" stroke-width="7.4"/>
<path d="M2437 248 L2366 248 L2366 300.4 L2437 300.4" fill="none" stroke-linejoin="miter" stroke-miterlimit="3" stroke="#1a1a1a" stroke-width="7.4"/>
<path d="M2437 248 L2366 248 L2366 300.4 L2437 300.4" fill="none" stroke-linejoin="miter" stroke-miterlimit="3" stroke="#fff" stroke-width="4.8"/>
<path d="M2437 248 L2366 248 L2366 300.4 L2437 300.4" fill="none" stroke-linejoin="miter" stroke-miterlimit="3" stroke="#1a1a1a" stroke-width="4.8" stroke-dasharray="16 26" stroke-dashoffset="-6"/>
<path d="M2437 336.4 L2190.5 336.4 L2176 350.9" fill="none" stroke-linejoin="miter" stroke-miterlimit="3" stroke="#1a1a1a" stroke-width="7.4"/>
<path d="M2176 421 L2190.5 406.4 L2441 406.4" fill="none" stroke-linejoin="miter" stroke-miterlimit="3" stroke="#1a1a1a" stroke-width="7.4"/>
<path d="M2176 421 L2190.5 406.4 L2441 406.4" fill="none" stroke-linejoin="miter" stroke-miterlimit="3" stroke="#fff" stroke-width="4.8"/>
<path d="M2441 406.4 L2190.5 406.4 L2176 420.9" fill="none" stroke-linejoin="miter" stroke-miterlimit="3" stroke="#ed1c24" stroke-width="7.4"/>
<path d="M2441 406.4 L2190.5 406.4 L2176 420.9" fill="none" stroke-linejoin="miter" stroke-miterlimit="3" stroke="#fff" stroke-width="4.1" stroke-dasharray="16 26" stroke-dashoffset="0"/>
<path d="M2441 426.3 L2190.5 426.3 L2176 440.8" fill="none" stroke-linejoin="miter" stroke-miterlimit="3" stroke="#ed1c24" stroke-width="7.4"/>
<path d="M2403 583.3 L2190.5 583.3 L2176 597.8" fill="none" stroke-linejoin="miter" stroke-miterlimit="3" stroke="#ed1c24" stroke-width="7.4"/>
<path d="M2403 618.8 L2190.5 618.8 L2176 633.3" fill="none" stroke-linejoin="miter" stroke-miterlimit="3" stroke="#00a9e8" stroke-width="7.4"/>
<path d="M2403 618.8 L2190.5 618.8 L2176 633.3" fill="none" stroke-linejoin="miter" stroke-miterlimit="3" stroke="#1a1a1a" stroke-width="7.4" stroke-dasharray="16 26" stroke-dashoffset="0"/>
<path d="M2176 651 L2190.5 636.6 L2386.5 636.6 L2402 622" fill="none" stroke-linejoin="miter" stroke-miterlimit="3" stroke="#00a9e8" stroke-width="7.4"/>
<path d="M2176 651 L2190.5 636.6 L2386.5 636.6 L2402 622" fill="none" stroke-linejoin="miter" stroke-miterlimit="3" stroke="#ed1c24" stroke-width="7.4" stroke-dasharray="16 26" stroke-dashoffset="-2"/>
<path d="M2403 689.4 L2190.5 689.4 L2176 703.9" fill="none" stroke-linejoin="miter" stroke-miterlimit="3" stroke="#a5552d" stroke-width="7.4"/>
<path d="M2176 722 L2190.5 707.6 L2386.5 707.6 L2402 692" fill="none" stroke-linejoin="miter" stroke-miterlimit="3" stroke="#a5552d" stroke-width="7.4"/>
<path d="M2403 759.8 L2190.5 759.8 L2176 774.3" fill="none" stroke-linejoin="miter" stroke-miterlimit="3" stroke="#00a651" stroke-width="7.4"/>
<path d="M2176 810 L2190.5 795.3 L2403 795.3" fill="none" stroke-linejoin="miter" stroke-miterlimit="3" stroke="#1a1a1a" stroke-width="9.6"/>
<path d="M2176 810 L2190.5 795.3 L2403 795.3" fill="none" stroke-linejoin="miter" stroke-miterlimit="3" stroke="#fff" stroke-width="5.2"/>
<path d="M2176 844 L2190.5 829.7 L2296.5 829.7 L2296.5 812" fill="none" stroke-linejoin="miter" stroke-miterlimit="3" stroke="#1a1a1a" stroke-width="7.4"/>
<path d="M2176 880 L2190.5 865.7 L2296.5 865.7 L2296.5 901" fill="none" stroke-linejoin="miter" stroke-miterlimit="3" stroke="#00a9e8" stroke-width="7.4"/>
<path d="M2176 880 L2190.5 865.7 L2296.5 865.7 L2296.5 901" fill="none" stroke-linejoin="miter" stroke-miterlimit="3" stroke="#fff" stroke-width="4.1" stroke-dasharray="16 26" stroke-dashoffset="0"/>
<path d="M2403 901 L2190.5 901 L2176 915.5" fill="none" stroke-linejoin="miter" stroke-miterlimit="3" stroke="#00a9e8" stroke-width="7.4"/>
<path d="M2403 901 L2190.5 901 L2176 915.5" fill="none" stroke-linejoin="miter" stroke-miterlimit="3" stroke="#fff" stroke-width="4.1" stroke-dasharray="16 26" stroke-dashoffset="0"/>
<path d="M2403 936.2 L2190.5 936.2 L2176 950.8" fill="none" stroke-linejoin="miter" stroke-miterlimit="3" stroke="#b1b3b6" stroke-width="7.4"/>
<path d="M2403 971.5 L2190.5 971.5 L2176 986" fill="none" stroke-linejoin="miter" stroke-miterlimit="3" stroke="#1a1a1a" stroke-width="9.6"/>
<path d="M2403 971.5 L2190.5 971.5 L2176 986" fill="none" stroke-linejoin="miter" stroke-miterlimit="3" stroke="#fff" stroke-width="5.2"/>
<path d="M2403 1006.8 L2190.5 1006.8 L2176 1021.2" fill="none" stroke-linejoin="miter" stroke-miterlimit="3" stroke="#1a1a1a" stroke-width="7.4"/>
<path d="M2403 1042 L2190.5 1042 L2176 1056.5" fill="none" stroke-linejoin="miter" stroke-miterlimit="3" stroke="#00a9e8" stroke-width="7.4"/>
<path d="M2403 1042 L2190.5 1042 L2176 1056.5" fill="none" stroke-linejoin="miter" stroke-miterlimit="3" stroke="#1a1a1a" stroke-width="7.4" stroke-dasharray="16 26" stroke-dashoffset="0"/>
<path d="M2403 1077.2 L2190.5 1077.2 L2176 1091.8" fill="none" stroke-linejoin="miter" stroke-miterlimit="3" stroke="#00a651" stroke-width="7.4"/>
<path d="M2403 1112.5 L2190.5 1112.5 L2176 1127" fill="none" stroke-linejoin="miter" stroke-miterlimit="3" stroke="#fbb04c" stroke-width="7.4"/>
<path d="M2403 1112.5 L2190.5 1112.5 L2176 1127" fill="none" stroke-linejoin="miter" stroke-miterlimit="3" stroke="#1a1a1a" stroke-width="7.4" stroke-dasharray="16 26" stroke-dashoffset="0"/>
<path d="M2403 1147.8 L2190.5 1147.8 L2176 1162.2" fill="none" stroke-linejoin="miter" stroke-miterlimit="3" stroke="#ffdd00" stroke-width="7.4"/>
<path d="M2403 1183 L2190.5 1183 L2176 1197.5" fill="none" stroke-linejoin="miter" stroke-miterlimit="3" stroke="#1a1a1a" stroke-width="7.4"/>
<path d="M2403 1183 L2190.5 1183 L2176 1197.5" fill="none" stroke-linejoin="miter" stroke-miterlimit="3" stroke="#fff" stroke-width="4.1" stroke-dasharray="16 26" stroke-dashoffset="0"/>
<path d="M2403 1218.2 L2190.5 1218.2 L2176 1232.8" fill="none" stroke-linejoin="miter" stroke-miterlimit="3" stroke="#f5aacb" stroke-width="7.4"/>
<path d="M2403 1324 L2190.5 1324 L2176 1338.5" fill="none" stroke-linejoin="miter" stroke-miterlimit="3" stroke="#fbb04c" stroke-width="7.4"/>
<path d="M2403 1324 L2190.5 1324 L2176 1338.5" fill="none" stroke-linejoin="miter" stroke-miterlimit="3" stroke="#fff" stroke-width="4.1" stroke-dasharray="16 26" stroke-dashoffset="0"/>
<path d="M2403 1359.4 L2190.5 1359.4 L2176 1373.9" fill="none" stroke-linejoin="miter" stroke-miterlimit="3" stroke="#1a1a1a" stroke-width="7.4"/>
<path d="M2403 1359.4 L2190.5 1359.4 L2176 1373.9" fill="none" stroke-linejoin="miter" stroke-miterlimit="3" stroke="#fff" stroke-width="4.1" stroke-dasharray="16 26" stroke-dashoffset="0"/>
<path d="M2403 1394.6 L2190.5 1394.6 L2176 1409.1" fill="none" stroke-linejoin="miter" stroke-miterlimit="3" stroke="#ed1c24" stroke-width="7.4"/>
<path d="M2403 1394.6 L2190.5 1394.6 L2176 1409.1" fill="none" stroke-linejoin="miter" stroke-miterlimit="3" stroke="#00a9e8" stroke-width="7.4" stroke-dasharray="16 26" stroke-dashoffset="0"/>
<path d="M2403 1430 L2190.5 1430 L2176 1444.5" fill="none" stroke-linejoin="miter" stroke-miterlimit="3" stroke="#1a1a1a" stroke-width="7.4"/>
<path d="M2403 1501 L2190.5 1501 L2176 1515.5" fill="none" stroke-linejoin="miter" stroke-miterlimit="3" stroke="#00a9e8" stroke-width="7.4"/>
<path d="M2403 1536.4 L2190.5 1536.4 L2176 1550.9" fill="none" stroke-linejoin="miter" stroke-miterlimit="3" stroke="#00a9e8" stroke-width="7.4"/>
<path d="M2403 1536.4 L2190.5 1536.4 L2176 1550.9" fill="none" stroke-linejoin="miter" stroke-miterlimit="3" stroke="#fff" stroke-width="4.1" stroke-dasharray="16 26" stroke-dashoffset="0"/>
<path d="M2403 1571.6 L2190.5 1571.6 L2176 1586.1" fill="none" stroke-linejoin="miter" stroke-miterlimit="3" stroke="#f5aacb" stroke-width="7.4"/>
<path d="M2403 1571.6 L2190.5 1571.6 L2176 1586.1" fill="none" stroke-linejoin="miter" stroke-miterlimit="3" stroke="#1a1a1a" stroke-width="7.4" stroke-dasharray="16 26" stroke-dashoffset="0"/>
<path d="M2403 1607 L2190.5 1607 L2176 1621.5" fill="none" stroke-linejoin="miter" stroke-miterlimit="3" stroke="#f5aacb" stroke-width="7.4"/>
<path d="M2403 1676.7 L2190.5 1676.7 L2176 1691.2" fill="none" stroke-linejoin="miter" stroke-miterlimit="3" stroke="#b1b3b6" stroke-width="7.4"/>
<path d="M2403 1676.7 L2190.5 1676.7 L2176 1691.2" fill="none" stroke-linejoin="miter" stroke-miterlimit="3" stroke="#fbb04c" stroke-width="7.4" stroke-dasharray="16 26" stroke-dashoffset="0"/>
<path d="M2403 1712 L2190.5 1712 L2176 1726.5" fill="none" stroke-linejoin="miter" stroke-miterlimit="3" stroke="#ffdd00" stroke-width="7.4"/>
<path d="M2403 1712 L2190.5 1712 L2176 1726.5" fill="none" stroke-linejoin="miter" stroke-miterlimit="3" stroke="#00a651" stroke-width="7.4" stroke-dasharray="16 26" stroke-dashoffset="0"/>
<path d="M2403 1747.2 L2190.5 1747.2 L2176 1761.7" fill="none" stroke-linejoin="miter" stroke-miterlimit="3" stroke="#ffdd00" stroke-width="7.4"/>
<path d="M2403 1747.2 L2190.5 1747.2 L2176 1761.7" fill="none" stroke-linejoin="miter" stroke-miterlimit="3" stroke="#00a9e8" stroke-width="7.4" stroke-dasharray="16 26" stroke-dashoffset="0"/>
<path d="M2403 1782.4 L2190.5 1782.4 L2176 1796.9" fill="none" stroke-linejoin="miter" stroke-miterlimit="3" stroke="#b1b3b6" stroke-width="7.4"/>
<path d="M2403 1817.6 L2190.5 1817.6 L2176 1832.1" fill="none" stroke-linejoin="miter" stroke-miterlimit="3" stroke="#1a1a1a" stroke-width="7.4"/>
<path d="M2403 1817.6 L2190.5 1817.6 L2176 1832.1" fill="none" stroke-linejoin="miter" stroke-miterlimit="3" stroke="#fff" stroke-width="4.1" stroke-dasharray="16 26" stroke-dashoffset="0"/>
<path d="M2430 1882.5 L2190.5 1882.5 L2176 1897" fill="none" stroke-linejoin="miter" stroke-miterlimit="3" stroke="#1a1a1a" stroke-width="7.4"/>
<path d="M2430 1897 L2190.5 1897 L2176 1911.5" fill="none" stroke-linejoin="miter" stroke-miterlimit="3" stroke="#b1b3b6" stroke-width="7.4"/>
<path d="M2403 1959.3 L2190.5 1959.3 L2176 1973.8" fill="none" stroke-linejoin="miter" stroke-miterlimit="3" stroke="#f5aacb" stroke-width="7.4"/>
<path d="M2403 1994.6 L2190.5 1994.6 L2176 2009.1" fill="none" stroke-linejoin="miter" stroke-miterlimit="3" stroke="#00a651" stroke-width="7.4"/>
<path d="M2403 2065 L2190.5 2065 L2176 2079.5" fill="none" stroke-linejoin="miter" stroke-miterlimit="3" stroke="#00a9e8" stroke-width="7.4"/>
<path d="M2403 2065 L2190.5 2065 L2176 2079.5" fill="none" stroke-linejoin="miter" stroke-miterlimit="3" stroke="#fff" stroke-width="4.1" stroke-dasharray="16 26" stroke-dashoffset="0"/>
<path d="M2403 2135.8 L2190.5 2135.8 L2176 2150.3" fill="none" stroke-linejoin="miter" stroke-miterlimit="3" stroke="#00a9e8" stroke-width="7.4"/>
<path d="M2403 2135.8 L2190.5 2135.8 L2176 2150.3" fill="none" stroke-linejoin="miter" stroke-miterlimit="3" stroke="#1a1a1a" stroke-width="7.4" stroke-dasharray="16 26" stroke-dashoffset="0"/>
<path d="M2176 2176 L2190.5 2161.3 L2386 2161.3 L2401 2170" fill="none" stroke-linejoin="miter" stroke-miterlimit="3" stroke="#00a9e8" stroke-width="7.4"/>
<path d="M2176 2176 L2190.5 2161.3 L2386 2161.3 L2401 2170" fill="none" stroke-linejoin="miter" stroke-miterlimit="3" stroke="#fbb04c" stroke-width="7.4" stroke-dasharray="16 26" stroke-dashoffset="-24"/>
<path d="M2176 2193 L2190.5 2178.5 L2386 2178.5 L2401 2171" fill="none" stroke-linejoin="miter" stroke-miterlimit="3" stroke="#00a9e8" stroke-width="7.4"/>
<path d="M2176 2193 L2190.5 2178.5 L2386 2178.5 L2401 2171" fill="none" stroke-linejoin="miter" stroke-miterlimit="3" stroke="#fbb04c" stroke-width="7.4" stroke-dasharray="16 26" stroke-dashoffset="-4"/>
<path d="M2403 2206 L2190.5 2206 L2176 2220.5" fill="none" stroke-linejoin="miter" stroke-miterlimit="3" stroke="#00a9e8" stroke-width="7.4"/>
<path d="M2177 2243 L2191 2257.6 L2333.7 2257.6 L2333.7 2294" fill="none" stroke-linejoin="miter" stroke-miterlimit="3" stroke="#00a9e8" stroke-width="7.4"/>
<path d="M2177 2243 L2191 2257.6 L2333.7 2257.6 L2333.7 2294" fill="none" stroke-linejoin="miter" stroke-miterlimit="3" stroke="#1a1a1a" stroke-width="7.4" stroke-dasharray="16 26" stroke-dashoffset="-4"/>
<path d="M2177 2262 L2191 2277 L2279.9 2277 L2279.9 2294" fill="none" stroke-linejoin="miter" stroke-miterlimit="3" stroke="#1a1a1a" stroke-width="7.4"/>
<path d="M2754.1 177.7 L2754.1 315 L2739 331" fill="none" stroke-linejoin="miter" stroke-miterlimit="3" stroke="#3cb878" stroke-width="7.4"/>
<path d="M2754.1 177.7 L2754.1 315 L2739 331" fill="none" stroke-linejoin="miter" stroke-miterlimit="3" stroke="#1a1a1a" stroke-width="7.4" stroke-dasharray="16 26" stroke-dashoffset="-22"/>
<path d="M2790.4 177.7 L2790.4 315 L2775 331" fill="none" stroke-linejoin="miter" stroke-miterlimit="3" stroke="#ffdd00" stroke-width="7.4"/>
<path d="M2790.4 177.7 L2790.4 315 L2775 331" fill="none" stroke-linejoin="miter" stroke-miterlimit="3" stroke="#00a651" stroke-width="7.4" stroke-dasharray="16 26" stroke-dashoffset="-18"/>
<path d="M2953.1 212 L2953.1 313 L2936 331" fill="none" stroke-linejoin="miter" stroke-miterlimit="3" stroke="#1a1a1a" stroke-width="7.4"/>
<path d="M2953.1 212 L2953.1 313 L2936 331" fill="none" stroke-linejoin="miter" stroke-miterlimit="3" stroke="#fff" stroke-width="4.8"/>
<path d="M2953.1 212 L2953.1 313 L2936 331" fill="none" stroke-linejoin="miter" stroke-miterlimit="3" stroke="#ed1c24" stroke-width="7.4"/>
<path d="M2953.1 212 L2953.1 313 L2936 331" fill="none" stroke-linejoin="miter" stroke-miterlimit="3" stroke="#fff" stroke-width="4.1" stroke-dasharray="16 26" stroke-dashoffset="-10"/>
<path d="M2979.6 212 L2979.6 313 L2962 331" fill="none" stroke-linejoin="miter" stroke-miterlimit="3" stroke="#1a1a1a" stroke-width="8.5"/>
<path d="M3007 212 L3007 313 L2990 331" fill="none" stroke-linejoin="miter" stroke-miterlimit="3" stroke="#ffdd00" stroke-width="7.4"/>
<path d="M3033 212 L3033 315 L3017 332" fill="none" stroke-linejoin="miter" stroke-miterlimit="3" stroke="#ed1c24" stroke-width="7.4"/>
<path d="M3033 212 L3033 315 L3017 332" fill="none" stroke-linejoin="miter" stroke-miterlimit="3" stroke="#00a9e8" stroke-width="7.4" stroke-dasharray="16 26" stroke-dashoffset="-12"/>
<path d="M2705 384 L2719 402.8 L2875 402.8 L2894 419.5" fill="none" stroke-linejoin="miter" stroke-miterlimit="3" stroke="#1a1a1a" stroke-width="8"/>
<path d="M2897 419.5 L2859.5 419.5 L2859.5 447 L2897 447" fill="none" stroke-linejoin="miter" stroke-miterlimit="3" stroke="#1a1a1a" stroke-width="8"/>
<path d="M2705 456 L2719 472.3 L2897 472.3" fill="none" stroke-linejoin="miter" stroke-miterlimit="3" stroke="#1a1a1a" stroke-width="9.6"/>
<path d="M2705 456 L2719 472.3 L2897 472.3" fill="none" stroke-linejoin="miter" stroke-miterlimit="3" stroke="#fff" stroke-width="5.2"/>
<path d="M2897 498.4 L2859.5 498.4 L2859.5 525.8 L2897 525.8" fill="none" stroke-linejoin="miter" stroke-miterlimit="3" stroke="#00a651" stroke-width="7.4"/>
<path d="M2897 498.4 L2859.5 498.4 L2859.5 525.8 L2897 525.8" fill="none" stroke-linejoin="miter" stroke-miterlimit="3" stroke="#ed1c24" stroke-width="7.4" stroke-dasharray="16 26" stroke-dashoffset="-4"/>
<path d="M2895 529.5 L2879 543.3 L2719 543.3 L2705 528" fill="none" stroke-linejoin="miter" stroke-miterlimit="3" stroke="#00a651" stroke-width="7.4"/>
<path d="M2895 529.5 L2879 543.3 L2719 543.3 L2705 528" fill="none" stroke-linejoin="miter" stroke-miterlimit="3" stroke="#ed1c24" stroke-width="7.4" stroke-dasharray="16 26" stroke-dashoffset="-8"/>
<path d="M2897 552.5 L2879 569.8 L2719 569.8 L2705 554" fill="none" stroke-linejoin="miter" stroke-miterlimit="3" stroke="#ffdd00" stroke-width="7.4"/>
<path d="M2897 552.5 L2879 569.8 L2719 569.8 L2705 554" fill="none" stroke-linejoin="miter" stroke-miterlimit="3" stroke="#00a9e8" stroke-width="7.4" stroke-dasharray="16 26" stroke-dashoffset="-8"/>
<path d="M2897 734.1 L2720 734.1 L2705 719.1" fill="none" stroke-linejoin="miter" stroke-miterlimit="3" stroke="#ffdd00" stroke-width="7.4"/>
<path d="M2897 734.1 L2720 734.1 L2705 719.1" fill="none" stroke-linejoin="miter" stroke-miterlimit="3" stroke="#ed1c24" stroke-width="7.4" stroke-dasharray="16 26" stroke-dashoffset="0"/>
<path d="M2897 750.5 L2720 750.5 L2705 735.5" fill="none" stroke-linejoin="miter" stroke-miterlimit="3" stroke="#1a1a1a" stroke-width="7.4"/>
<path d="M2705 893 L2723 915 L2880.3 915 L2897 932" fill="none" stroke-linejoin="miter" stroke-miterlimit="3" stroke="#00a9e8" stroke-width="7.4"/>
<path d="M2705 893 L2723 915 L2880.3 915 L2897 932" fill="none" stroke-linejoin="miter" stroke-miterlimit="3" stroke="#fff" stroke-width="4.1" stroke-dasharray="16 26" stroke-dashoffset="0"/>
<path d="M2705 923 L2720.9 940.9 L2876 940.9 L2894 960.3" fill="none" stroke-linejoin="miter" stroke-miterlimit="3" stroke="#00a9e8" stroke-width="7.4"/>
<path d="M2705 923 L2720.9 940.9 L2876 940.9 L2894 960.3" fill="none" stroke-linejoin="miter" stroke-miterlimit="3" stroke="#fbb04c" stroke-width="7.4" stroke-dasharray="16 26" stroke-dashoffset="-20"/>
<path d="M2897 960.3 L2860.9 960.3 L2860.9 1063.6 L2897 1063.6" fill="none" stroke-linejoin="miter" stroke-miterlimit="3" stroke="#00a9e8" stroke-width="7.4"/>
<path d="M2897 960.3 L2860.9 960.3 L2860.9 1063.6 L2897 1063.6" fill="none" stroke-linejoin="miter" stroke-miterlimit="3" stroke="#fbb04c" stroke-width="7.4" stroke-dasharray="16 26" stroke-dashoffset="-6"/>
<path d="M2897 984.8 L2720 984.8 L2705 969.8" fill="none" stroke-linejoin="miter" stroke-miterlimit="3" stroke="#1a1a1a" stroke-width="7.4"/>
<path d="M2897 984.8 L2720 984.8 L2705 969.8" fill="none" stroke-linejoin="miter" stroke-miterlimit="3" stroke="#ed1c24" stroke-width="7.4" stroke-dasharray="16 26" stroke-dashoffset="0"/>
<path d="M2897 1011.1 L2720 1011.1 L2705 996.1" fill="none" stroke-linejoin="miter" stroke-miterlimit="3" stroke="#fbb04c" stroke-width="7.4"/>
<path d="M2897 1037.8 L2720 1037.8 L2705 1022.8" fill="none" stroke-linejoin="miter" stroke-miterlimit="3" stroke="#ed1c24" stroke-width="7.4"/>
<path d="M2897 1037.8 L2720 1037.8 L2705 1022.8" fill="none" stroke-linejoin="miter" stroke-miterlimit="3" stroke="#1a1a1a" stroke-width="7.4" stroke-dasharray="16 26" stroke-dashoffset="0"/>
<path d="M2897 1090.8 L2720 1090.8 L2705 1075.8" fill="none" stroke-linejoin="miter" stroke-miterlimit="3" stroke="#00a9e8" stroke-width="7.4"/>
<path d="M2897 1116.6 L2720 1116.6 L2705 1101.6" fill="none" stroke-linejoin="miter" stroke-miterlimit="3" stroke="#00a9e8" stroke-width="7.4"/>
<path d="M2897 1116.6 L2720 1116.6 L2705 1101.6" fill="none" stroke-linejoin="miter" stroke-miterlimit="3" stroke="#1a1a1a" stroke-width="7.4" stroke-dasharray="16 26" stroke-dashoffset="0"/>
<path d="M2897 1143.3 L2720 1143.3 L2705 1128.3" fill="none" stroke-linejoin="miter" stroke-miterlimit="3" stroke="#1a1a1a" stroke-width="9.6"/>
<path d="M2897 1143.3 L2720 1143.3 L2705 1128.3" fill="none" stroke-linejoin="miter" stroke-miterlimit="3" stroke="#fff" stroke-width="5.2"/>
<path d="M2897 1170 L2720 1170 L2705 1155" fill="none" stroke-linejoin="miter" stroke-miterlimit="3" stroke="#1a1a1a" stroke-width="8.5"/>
<path d="M2897 1355 L2720 1355 L2705 1370" fill="none" stroke-linejoin="miter" stroke-miterlimit="3" stroke="#1a1a1a" stroke-width="8.5"/>
<path d="M2897 1383 L2720 1383 L2705 1398" fill="none" stroke-linejoin="miter" stroke-miterlimit="3" stroke="#1a1a1a" stroke-width="9.6"/>
<path d="M2897 1383 L2720 1383 L2705 1398" fill="none" stroke-linejoin="miter" stroke-miterlimit="3" stroke="#fff" stroke-width="5.2"/>
<path d="M2897 1408.5 L2720 1408.5 L2705 1423.5" fill="none" stroke-linejoin="miter" stroke-miterlimit="3" stroke="#00a9e8" stroke-width="7.4"/>
<path d="M2897 1434.3 L2808.4 1434.3 L2808.4 1800.9 L2897 1800.9" fill="none" stroke-linejoin="miter" stroke-miterlimit="3" stroke="#ed1c24" stroke-width="7.4"/>
<path d="M2895 1804 L2879 1818 L2808.4 1818 L2808.4 1955 L2897 1955" fill="none" stroke-linejoin="miter" stroke-miterlimit="3" stroke="#ed1c24" stroke-width="7.4"/>
<path d="M2897 1461 L2825.1 1461 L2825.1 1747 L2897 1747" fill="none" stroke-linejoin="miter" stroke-miterlimit="3" stroke="#1a1a1a" stroke-width="7.4"/>
<path d="M2897 1461 L2825.1 1461 L2825.1 1747 L2897 1747" fill="none" stroke-linejoin="miter" stroke-miterlimit="3" stroke="#fff" stroke-width="4.8"/>
<path d="M2897 1461 L2825.1 1461 L2825.1 1747 L2897 1747" fill="none" stroke-linejoin="miter" stroke-miterlimit="3" stroke="#1a1a1a" stroke-width="4.8" stroke-dasharray="16 26" stroke-dashoffset="-4"/>
<path d="M2897 1487.3 L2843.5 1487.3 L2843.5 1695 L2897 1695" fill="none" stroke-linejoin="miter" stroke-miterlimit="3" stroke="#b1b3b6" stroke-width="7.4"/>
<path d="M2897 1513.1 L2860.6 1513.1 L2860.6 1641.6 L2897 1641.6" fill="none" stroke-linejoin="miter" stroke-miterlimit="3" stroke="#00a651" stroke-width="7.4"/>
<path d="M2897 1980.5 L2720 1980.5 L2705 1965.5" fill="none" stroke-linejoin="miter" stroke-miterlimit="3" stroke="#1a1a1a" stroke-width="7.4"/>
<path d="M2754.1 2258 L2754.1 2121 L2739 2105" fill="none" stroke-linejoin="miter" stroke-miterlimit="3" stroke="#fbb04c" stroke-width="7.4"/>
<path d="M2754.1 2258 L2754.1 2121 L2739 2105" fill="none" stroke-linejoin="miter" stroke-miterlimit="3" stroke="#00a9e8" stroke-width="7.4" stroke-dasharray="16 26" stroke-dashoffset="-6"/>
<path d="M2790.4 2258 L2790.4 2121 L2775 2105" fill="none" stroke-linejoin="miter" stroke-miterlimit="3" stroke="#00a9e8" stroke-width="7.4"/>
<path d="M2790.4 2258 L2790.4 2121 L2775 2105" fill="none" stroke-linejoin="miter" stroke-miterlimit="3" stroke="#fff" stroke-width="4.1" stroke-dasharray="16 26" stroke-dashoffset="-6"/>
<path d="M2953.1 2224 L2953.1 2121 L2936 2104" fill="none" stroke-linejoin="miter" stroke-miterlimit="3" stroke="#1a1a1a" stroke-width="7.4"/>
<path d="M2953.1 2224 L2953.1 2121 L2936 2104" fill="none" stroke-linejoin="miter" stroke-miterlimit="3" stroke="#fff" stroke-width="4.8"/>
<path d="M2953.1 2224 L2953.1 2121 L2936 2104" fill="none" stroke-linejoin="miter" stroke-miterlimit="3" stroke="#ed1c24" stroke-width="7.4"/>
<path d="M2953.1 2224 L2953.1 2121 L2936 2104" fill="none" stroke-linejoin="miter" stroke-miterlimit="3" stroke="#fff" stroke-width="4.1" stroke-dasharray="16 26" stroke-dashoffset="-6"/>
<path d="M2979.6 2224 L2979.6 2121 L2962 2104" fill="none" stroke-linejoin="miter" stroke-miterlimit="3" stroke="#1a1a1a" stroke-width="8.5"/>
<path d="M3007 2224 L3007 2121 L2990 2104" fill="none" stroke-linejoin="miter" stroke-miterlimit="3" stroke="#ffdd00" stroke-width="7.4"/>
<path d="M3033 2224 L3033 2119 L3017 2103" fill="none" stroke-linejoin="miter" stroke-miterlimit="3" stroke="#ed1c24" stroke-width="7.4"/>
<path d="M3033 2224 L3033 2119 L3017 2103" fill="none" stroke-linejoin="miter" stroke-miterlimit="3" stroke="#00a9e8" stroke-width="7.4" stroke-dasharray="16 26" stroke-dashoffset="-12"/>
<path d="M3442 89.5 L3568 89.5 L3584 105.5 L3584 115" fill="none" stroke-linejoin="miter" stroke-miterlimit="3" stroke="#b1b3b6" stroke-width="7.4"/>
<path d="M3442 124.8 L3567 124.8 L3582 139.3" fill="none" stroke-linejoin="miter" stroke-miterlimit="3" stroke="#a5552d" stroke-width="7.4"/>
<path d="M3442 160.5 L3567 160.5 L3582 175" fill="none" stroke-linejoin="miter" stroke-miterlimit="3" stroke="#f5aacb" stroke-width="7.4"/>
<path d="M3442 195 L3567 195 L3582 209.5" fill="none" stroke-linejoin="miter" stroke-miterlimit="3" stroke="#1a1a1a" stroke-width="8.5"/>
<path d="M3420 336.6 L3567 336.6 L3582 351.1" fill="none" stroke-linejoin="miter" stroke-miterlimit="3" stroke="#fbb04c" stroke-width="7.4"/>
<path d="M3420 355.7 L3567 355.7 L3582 370.2" fill="none" stroke-linejoin="miter" stroke-miterlimit="3" stroke="#00a651" stroke-width="7.4"/>
<path d="M3425 495.2 L3567 495.2 L3582 509.7" fill="none" stroke-linejoin="miter" stroke-miterlimit="3" stroke="#a5552d" stroke-width="7.4"/>
<path d="M3425 495.2 L3567 495.2 L3582 509.7" fill="none" stroke-linejoin="miter" stroke-miterlimit="3" stroke="#00a9e8" stroke-width="7.4" stroke-dasharray="16 26" stroke-dashoffset="-18"/>
<path d="M3425 512.9 L3567 512.9 L3582 527.4" fill="none" stroke-linejoin="miter" stroke-miterlimit="3" stroke="#1a1a1a" stroke-width="7.4"/>
<path d="M3442 724.4 L3567 724.4 L3582 739" fill="none" stroke-linejoin="miter" stroke-miterlimit="3" stroke="#1a1a1a" stroke-width="7.4"/>
<path d="M3442 724.4 L3567 724.4 L3582 739" fill="none" stroke-linejoin="miter" stroke-miterlimit="3" stroke="#fff" stroke-width="4.8"/>
<path d="M3442 724.4 L3567 724.4 L3582 738.9" fill="none" stroke-linejoin="miter" stroke-miterlimit="3" stroke="#ed1c24" stroke-width="7.4"/>
<path d="M3442 724.4 L3567 724.4 L3582 738.9" fill="none" stroke-linejoin="miter" stroke-miterlimit="3" stroke="#fff" stroke-width="4.1" stroke-dasharray="16 26" stroke-dashoffset="0"/>
<path d="M3442 760.3 L3567 760.3 L3582 774.8" fill="none" stroke-linejoin="miter" stroke-miterlimit="3" stroke="#1a1a1a" stroke-width="8.5"/>
<path d="M3442 795.4 L3567 795.4 L3582 809.9" fill="none" stroke-linejoin="miter" stroke-miterlimit="3" stroke="#1a1a1a" stroke-width="7.2"/>
<path d="M3442 795.4 L3567 795.4 L3582 809.9" fill="none" stroke-linejoin="miter" stroke-miterlimit="3" stroke="#fff" stroke-width="4.6"/>
<path d="M3425 971.4 L3567 971.4 L3582 985.9" fill="none" stroke-linejoin="miter" stroke-miterlimit="3" stroke="#ed1c24" stroke-width="7.4"/>
<path d="M3425 988.9 L3567 988.9 L3582 1003.4" fill="none" stroke-linejoin="miter" stroke-miterlimit="3" stroke="#ffdd00" stroke-width="7.4"/>
<path d="M3425 988.9 L3567 988.9 L3582 1003.4" fill="none" stroke-linejoin="miter" stroke-miterlimit="3" stroke="#ed1c24" stroke-width="7.4" stroke-dasharray="16 26" stroke-dashoffset="0"/>
<path d="M3390 1138.9 L3560.5 1138.9 L3582 1118.9" fill="none" stroke-linejoin="miter" stroke-miterlimit="3" stroke="#fbb04c" stroke-width="7.4"/>
<path d="M3390 1138.9 L3560.5 1138.9 L3582 1118.9" fill="none" stroke-linejoin="miter" stroke-miterlimit="3" stroke="#00a9e8" stroke-width="7.4" stroke-dasharray="16 26" stroke-dashoffset="0"/>
<path d="M3390 1156.5 L3560.5 1156.5 L3582 1136.5" fill="none" stroke-linejoin="miter" stroke-miterlimit="3" stroke="#00a9e8" stroke-width="7.4"/>
<path d="M3390 1156.5 L3560.5 1156.5 L3582 1136.5" fill="none" stroke-linejoin="miter" stroke-miterlimit="3" stroke="#fff" stroke-width="4.1" stroke-dasharray="26 16" stroke-dashoffset="-16"/>
<path d="M3390 1174.1 L3560.5 1174.1 L3582 1154.1" fill="none" stroke-linejoin="miter" stroke-miterlimit="3" stroke="#3cb878" stroke-width="7.4"/>
<path d="M3390 1174.1 L3560.5 1174.1 L3582 1154.1" fill="none" stroke-linejoin="miter" stroke-miterlimit="3" stroke="#ed1c24" stroke-width="7.4" stroke-dasharray="16 26" stroke-dashoffset="0"/>
<path d="M3390 1191.7 L3560.5 1191.7 L3582 1171.7" fill="none" stroke-linejoin="miter" stroke-miterlimit="3" stroke="#b1b3b6" stroke-width="7.4"/>
<path d="M3390 1191.7 L3560.5 1191.7 L3582 1171.7" fill="none" stroke-linejoin="miter" stroke-miterlimit="3" stroke="#ed1c24" stroke-width="7.4" stroke-dasharray="16 26" stroke-dashoffset="0"/>
<path d="M3390 1209.3 L3560.5 1209.3 L3582 1189.3" fill="none" stroke-linejoin="miter" stroke-miterlimit="3" stroke="#ffdd00" stroke-width="7.4"/>
<path d="M3390 1209.3 L3560.5 1209.3 L3582 1189.3" fill="none" stroke-linejoin="miter" stroke-miterlimit="3" stroke="#fff" stroke-width="4.1" stroke-dasharray="16 26" stroke-dashoffset="0"/>
<path d="M3390 1226.9 L3560.5 1226.9 L3582 1206.9" fill="none" stroke-linejoin="miter" stroke-miterlimit="3" stroke="#00a651" stroke-width="7.4"/>
<path d="M3390 1226.9 L3560.5 1226.9 L3582 1206.9" fill="none" stroke-linejoin="miter" stroke-miterlimit="3" stroke="#fff" stroke-width="4.1" stroke-dasharray="16 26" stroke-dashoffset="0"/>
<path d="M3390 1244.5 L3560.5 1244.5 L3582 1224.5" fill="none" stroke-linejoin="miter" stroke-miterlimit="3" stroke="#ffdd00" stroke-width="7.4"/>
<path d="M3390 1244.5 L3560.5 1244.5 L3582 1224.5" fill="none" stroke-linejoin="miter" stroke-miterlimit="3" stroke="#00a651" stroke-width="7.4" stroke-dasharray="16 26" stroke-dashoffset="0"/>
<path d="M3390 1262.1 L3560.5 1262.1 L3582 1242.1" fill="none" stroke-linejoin="miter" stroke-miterlimit="3" stroke="#3cb878" stroke-width="7.4"/>
<path d="M3390 1262.1 L3560.5 1262.1 L3582 1242.1" fill="none" stroke-linejoin="miter" stroke-miterlimit="3" stroke="#1a1a1a" stroke-width="7.4" stroke-dasharray="16 26" stroke-dashoffset="0"/>
<path d="M3390 1298.2 L3565.2 1298.2 L3582 1282" fill="none" stroke-linejoin="miter" stroke-miterlimit="3" stroke="#1a1a1a" stroke-width="7.6"/>
<path d="M3390 1298.2 L3565.2 1298.2 L3582 1282" fill="none" stroke-linejoin="miter" stroke-miterlimit="3" stroke="#fff" stroke-width="5"/>
<path d="M3390 1314.5 L3565.2 1314.5 L3582 1298" fill="none" stroke-linejoin="miter" stroke-miterlimit="3" stroke="#1a1a1a" stroke-width="8.5"/>
<path d="M3390 1332.7 L3461.6 1332.7 L3461.6 1350.8 L3390 1350.8" fill="none" stroke-linejoin="miter" stroke-miterlimit="3" stroke="#f5aacb" stroke-width="7.4"/>
<path d="M3390 1352.5 L3407.1 1368.3 L3565.2 1368.3 L3582 1351" fill="none" stroke-linejoin="miter" stroke-miterlimit="3" stroke="#f5aacb" stroke-width="7.4"/>
<path d="M3390 1491 L3442.4 1491 L3442.4 1614.3 L3407.1 1614.3 L3390 1630.6" fill="none" stroke-linejoin="miter" stroke-miterlimit="3" stroke="#1a1a1a" stroke-width="7.6"/>
<path d="M3390 1491 L3442.4 1491 L3442.4 1614.3 L3407.1 1614.3 L3390 1630.6" fill="none" stroke-linejoin="miter" stroke-miterlimit="3" stroke="#fff" stroke-width="5"/>
<path d="M3390 1473.7 L3459.8 1473.7 L3459.8 1650.6 L3390 1650.6" fill="none" stroke-linejoin="miter" stroke-miterlimit="3" stroke="#1a1a1a" stroke-width="8.5"/>
<path d="M3390 1632.5 L3565.2 1632.5 L3582 1616" fill="none" stroke-linejoin="miter" stroke-miterlimit="3" stroke="#1a1a1a" stroke-width="7.6"/>
<path d="M3390 1632.5 L3565.2 1632.5 L3582 1616" fill="none" stroke-linejoin="miter" stroke-miterlimit="3" stroke="#fff" stroke-width="5"/>
<path d="M3390 1652.4 L3407.1 1668.8 L3565.2 1668.8 L3582 1652" fill="none" stroke-linejoin="miter" stroke-miterlimit="3" stroke="#1a1a1a" stroke-width="8.5"/>
<path d="M3425 1805.3 L3566.2 1805.3 L3582 1789.3" fill="none" stroke-linejoin="miter" stroke-miterlimit="3" stroke="#ed1c24" stroke-width="7.4"/>
<path d="M3425 1831.6 L3566.2 1831.6 L3582 1815.6" fill="none" stroke-linejoin="miter" stroke-miterlimit="3" stroke="#a5552d" stroke-width="7.4"/>
<path d="M3425 1885 L3566.2 1885 L3582 1869" fill="none" stroke-linejoin="miter" stroke-miterlimit="3" stroke="#ffdd00" stroke-width="7.4"/>
<path d="M3425 1885 L3566.2 1885 L3582 1869" fill="none" stroke-linejoin="miter" stroke-miterlimit="3" stroke="#1a1a1a" stroke-width="7.4" stroke-dasharray="16 26" stroke-dashoffset="0"/>
<path d="M3425 1937.6 L3566.2 1937.6 L3582 1921.6" fill="none" stroke-linejoin="miter" stroke-miterlimit="3" stroke="#a5552d" stroke-width="7.4"/>
<path d="M3425 1990.4 L3566.2 1990.4 L3582 1974.4" fill="none" stroke-linejoin="miter" stroke-miterlimit="3" stroke="#f5aacb" stroke-width="7.4"/>
<path d="M3425 1990.4 L3566.2 1990.4 L3582 1974.4" fill="none" stroke-linejoin="miter" stroke-miterlimit="3" stroke="#fff" stroke-width="4.1" stroke-dasharray="16 26" stroke-dashoffset="0"/>
<path d="M3425 2016.8 L3566.2 2016.8 L3582 2000.8" fill="none" stroke-linejoin="miter" stroke-miterlimit="3" stroke="#b1b3b6" stroke-width="7.4"/>
<path d="M3425 2043 L3566.2 2043 L3582 2027" fill="none" stroke-linejoin="miter" stroke-miterlimit="3" stroke="#a5552d" stroke-width="7.4"/>
<path d="M3425 2043 L3566.2 2043 L3582 2027" fill="none" stroke-linejoin="miter" stroke-miterlimit="3" stroke="#ed1c24" stroke-width="7.4" stroke-dasharray="16 26" stroke-dashoffset="0"/>
<path d="M3425 2069.6 L3566.2 2069.6 L3582 2053.6" fill="none" stroke-linejoin="miter" stroke-miterlimit="3" stroke="#00a9e8" stroke-width="7.4"/>
<path d="M3425 2259 L3567 2259 L3582 2244.5" fill="none" stroke-linejoin="miter" stroke-miterlimit="3" stroke="#1a1a1a" stroke-width="8.5"/>
<path d="M3425 2285.4 L3566 2285.4 L3582 2270" fill="none" stroke-linejoin="miter" stroke-miterlimit="3" stroke="#1a1a1a" stroke-width="7.4"/>
<path d="M3425 2285.4 L3566 2285.4 L3582 2270" fill="none" stroke-linejoin="miter" stroke-miterlimit="3" stroke="#fff" stroke-width="4.8"/>
<path d="M3425 2285.4 L3567 2285.4 L3582 2270.9" fill="none" stroke-linejoin="miter" stroke-miterlimit="3" stroke="#ed1c24" stroke-width="7.4"/>
<path d="M3425 2285.4 L3567 2285.4 L3582 2270.9" fill="none" stroke-linejoin="miter" stroke-miterlimit="3" stroke="#fff" stroke-width="4.1" stroke-dasharray="26 16" stroke-dashoffset="-16"/>
<path d="M3425 2311.8 L3566 2311.8 L3586 2293 L3586 2280" fill="none" stroke-linejoin="miter" stroke-miterlimit="3" stroke="#1a1a1a" stroke-width="7.4"/>
<path d="M3425 2311.8 L3566 2311.8 L3586 2293 L3586 2280" fill="none" stroke-linejoin="miter" stroke-miterlimit="3" stroke="#fff" stroke-width="4.8"/>
<path d="M3425 2311.8 L3566 2311.8 L3586 2293 L3586 2280" fill="none" stroke-linejoin="miter" stroke-miterlimit="3" stroke="#00a9e8" stroke-width="7.4"/>
<path d="M3425 2311.8 L3566 2311.8 L3586 2293 L3586 2280" fill="none" stroke-linejoin="miter" stroke-miterlimit="3" stroke="#fff" stroke-width="4.1" stroke-dasharray="26 16" stroke-dashoffset="-16"/>
<path d="M3726 142.7 L3602 142.7 L3586 157.7" fill="none" stroke-linejoin="miter" stroke-miterlimit="3" stroke="#a5552d" stroke-width="7.4"/>
<path d="M3726 178 L3602 178 L3586 193" fill="none" stroke-linejoin="miter" stroke-miterlimit="3" stroke="#fbb04c" stroke-width="7.4"/>
<path d="M3726 178 L3602 178 L3586 193" fill="none" stroke-linejoin="miter" stroke-miterlimit="3" stroke="#1a1a1a" stroke-width="7.4" stroke-dasharray="16 26" stroke-dashoffset="0"/>
<path d="M3726 213.3 L3602 213.3 L3586 228.3" fill="none" stroke-linejoin="miter" stroke-miterlimit="3" stroke="#00a651" stroke-width="7.4"/>
<path d="M3726 248.5 L3602 248.5 L3586 263.5" fill="none" stroke-linejoin="miter" stroke-miterlimit="3" stroke="#1a1a1a" stroke-width="7.4"/>
<path d="M3726 283.8 L3602 283.8 L3586 298.8" fill="none" stroke-linejoin="miter" stroke-miterlimit="3" stroke="#00a9e8" stroke-width="7.4"/>
<path d="M3726 319 L3602 319 L3586 334" fill="none" stroke-linejoin="miter" stroke-miterlimit="3" stroke="#ed1c24" stroke-width="7.4"/>
<path d="M3726 495 L3602 495 L3586 510" fill="none" stroke-linejoin="miter" stroke-miterlimit="3" stroke="#f5aacb" stroke-width="7.4"/>
<path d="M3726 495 L3602 495 L3586 510" fill="none" stroke-linejoin="miter" stroke-miterlimit="3" stroke="#ed1c24" stroke-width="7.4" stroke-dasharray="16 26" stroke-dashoffset="0"/>
<path d="M3726 530.5 L3602 530.5 L3586 545.5" fill="none" stroke-linejoin="miter" stroke-miterlimit="3" stroke="#ffdd00" stroke-width="7.4"/>
<path d="M3586 694 L3600.2 680.6 L3744 680.6" fill="none" stroke-linejoin="miter" stroke-miterlimit="3" stroke="#1a1a1a" stroke-width="8.5"/>
<path d="M3586 694 L3600.2 680.6 L3744 680.6" fill="none" stroke-linejoin="miter" stroke-miterlimit="3" stroke="#fff" stroke-width="5.9"/>
<path d="M3586 694 L3600.2 680.6 L3744 680.6" fill="none" stroke-linejoin="miter" stroke-miterlimit="3" stroke="#1a1a1a" stroke-width="8.5"/>
<path d="M3586 694 L3600.2 680.6 L3744 680.6" fill="none" stroke-linejoin="miter" stroke-miterlimit="3" stroke="#fff" stroke-width="4.7" stroke-dasharray="16 26" stroke-dashoffset="-4"/>
<path d="M3586 713 L3600.2 698.1 L3744 698.1" fill="none" stroke-linejoin="miter" stroke-miterlimit="3" stroke="#1a1a1a" stroke-width="8.5"/>
<path d="M3743 700.5 L3726.4 715.9 L3689.4 715.9 L3689.4 1060.4 L3744 1060.4" fill="none" stroke-linejoin="miter" stroke-miterlimit="3" stroke="#1a1a1a" stroke-width="8"/>
<path d="M3689.4 830.4 L3744 830.4" fill="none" stroke-linejoin="miter" stroke-miterlimit="3" stroke="#1a1a1a" stroke-width="8"/>
<path d="M3586 898 L3600.9 882.7 L3744 882.7" fill="none" stroke-linejoin="miter" stroke-miterlimit="3" stroke="#ffdd00" stroke-width="7.4"/>
<path d="M3586 898 L3600.9 882.7 L3744 882.7" fill="none" stroke-linejoin="miter" stroke-miterlimit="3" stroke="#1a1a1a" stroke-width="7.4" stroke-dasharray="16 26" stroke-dashoffset="-2"/>
<path d="M3707.2 882.7 L3707.2 1007.1 L3744 1007.1" fill="none" stroke-linejoin="miter" stroke-miterlimit="3" stroke="#ffdd00" stroke-width="7.4"/>
<path d="M3707.2 882.7 L3707.2 1007.1 L3744 1007.1" fill="none" stroke-linejoin="miter" stroke-miterlimit="3" stroke="#1a1a1a" stroke-width="7.4" stroke-dasharray="16 26" stroke-dashoffset="-8"/>
<path d="M3850 1236 L3602 1236 L3586 1221" fill="none" stroke-linejoin="miter" stroke-miterlimit="3" stroke="#1a1a1a" stroke-width="8"/>
<path d="M3850 1253.5 L3602 1253.5 L3586 1238.5" fill="none" stroke-linejoin="miter" stroke-miterlimit="3" stroke="#ed1c24" stroke-width="7.4"/>
<path d="M3586 1418 L3602.4 1433.9 L3674.7 1433.9 L3674.7 1452.8" fill="none" stroke-linejoin="miter" stroke-miterlimit="3" stroke="#b1b3b6" stroke-width="7.4"/>
<path d="M3726 1452.8 L3602 1452.8 L3586 1437.8" fill="none" stroke-linejoin="miter" stroke-miterlimit="3" stroke="#b1b3b6" stroke-width="7.4"/>
<path d="M3726 1759.2 L3602 1759.2 L3586 1744.2" fill="none" stroke-linejoin="miter" stroke-miterlimit="3" stroke="#1a1a1a" stroke-width="7.4"/>
<path d="M3586 1890 L3602 1905.6 L3744 1905.6" fill="none" stroke-linejoin="miter" stroke-miterlimit="3" stroke="#1a1a1a" stroke-width="7.4"/>
<path d="M3586 1890 L3602 1905.6 L3744 1905.6" fill="none" stroke-linejoin="miter" stroke-miterlimit="3" stroke="#fff" stroke-width="4.8"/>
<path d="M3744 1905.6 L3602 1905.6 L3586 1890.6" fill="none" stroke-linejoin="miter" stroke-miterlimit="3" stroke="#1a1a1a" stroke-width="7.4"/>
<path d="M3744 1905.6 L3602 1905.6 L3586 1890.6" fill="none" stroke-linejoin="miter" stroke-miterlimit="3" stroke="#fff" stroke-width="4.1" stroke-dasharray="16 26" stroke-dashoffset="0"/>
<path d="M3744 1959 L3602 1959 L3586 1944" fill="none" stroke-linejoin="miter" stroke-miterlimit="3" stroke="#ffdd00" stroke-width="7.4"/>
<path d="M3726 2118 L3602 2118 L3586 2103" fill="none" stroke-linejoin="miter" stroke-miterlimit="3" stroke="#ed1c24" stroke-width="7.4"/>
<path d="M3726 2153.3 L3602 2153.3 L3586 2138.3" fill="none" stroke-linejoin="miter" stroke-miterlimit="3" stroke="#00a9e8" stroke-width="7.4"/>
<path d="M3726 2153.3 L3602 2153.3 L3586 2138.3" fill="none" stroke-linejoin="miter" stroke-miterlimit="3" stroke="#1a1a1a" stroke-width="7.4" stroke-dasharray="16 26" stroke-dashoffset="0"/>
<path d="M3726 2188.5 L3602 2188.5 L3586 2173.5" fill="none" stroke-linejoin="miter" stroke-miterlimit="3" stroke="#1a1a1a" stroke-width="7.4"/>
<path d="M3726 2223.7 L3602 2223.7 L3586 2208.7" fill="none" stroke-linejoin="miter" stroke-miterlimit="3" stroke="#00a651" stroke-width="7.4"/>
<path d="M3726 2259 L3602 2259 L3586 2244" fill="none" stroke-linejoin="miter" stroke-miterlimit="3" stroke="#fbb04c" stroke-width="7.4"/>
<path d="M3726 2259 L3602 2259 L3586 2244" fill="none" stroke-linejoin="miter" stroke-miterlimit="3" stroke="#1a1a1a" stroke-width="7.4" stroke-dasharray="16 26" stroke-dashoffset="0"/>
<path d="M3726 2294 L3602 2294 L3586 2279" fill="none" stroke-linejoin="miter" stroke-miterlimit="3" stroke="#ffdd00" stroke-width="7.4"/>
<path d="M461.7 2224 L461.7 1940.9 L1204 1940.9" fill="none" stroke-linejoin="miter" stroke-miterlimit="3" stroke="#00a651" stroke-width="7.4"/>
<path d="M497.1 2224 L497.1 1870.8 L1204 1870.8" fill="none" stroke-linejoin="miter" stroke-miterlimit="3" stroke="#b1b3b6" stroke-width="7.4"/>
<path d="M567.8 2224 L567.8 1888.3 L1204 1888.3" fill="none" stroke-linejoin="miter" stroke-miterlimit="3" stroke="#00a9e8" stroke-width="7.4"/>
<path d="M603.2 2224 L603.2 1958.4 L1204 1958.4" fill="none" stroke-linejoin="miter" stroke-miterlimit="3" stroke="#fbb04c" stroke-width="7.4"/>
<path d="M673.9 2224 L673.9 1976 L1204 1976" fill="none" stroke-linejoin="miter" stroke-miterlimit="3" stroke="#1a1a1a" stroke-width="8"/>
<path d="M673.9 2153.6 L814.3 2153.6 L814.3 2224" fill="none" stroke-linejoin="miter" stroke-miterlimit="3" stroke="#1a1a1a" stroke-width="8"/>
<path d="M638.5 2224 L638.5 1905.8 L1204 1905.8" fill="none" stroke-linejoin="miter" stroke-miterlimit="3" stroke="#1a1a1a" stroke-width="9"/>
<path d="M638.5 2224 L638.5 1905.8 L1204 1905.8" fill="none" stroke-linejoin="miter" stroke-miterlimit="3" stroke="#fff" stroke-width="4.6"/>
<path d="M638.5 2117 L849.7 2117 L849.7 2224" fill="none" stroke-linejoin="miter" stroke-miterlimit="3" stroke="#1a1a1a" stroke-width="9"/>
<path d="M638.5 2117 L849.7 2117 L849.7 2224" fill="none" stroke-linejoin="miter" stroke-miterlimit="3" stroke="#fff" stroke-width="4.6"/>
<path d="M532.4 2224 L532.4 1923.4 L1204 1923.4" fill="none" stroke-linejoin="miter" stroke-miterlimit="3" stroke="#1a1a1a" stroke-width="9"/>
<path d="M532.4 2224 L532.4 1923.4 L1204 1923.4" fill="none" stroke-linejoin="miter" stroke-miterlimit="3" stroke="#fff" stroke-width="4.6"/>
<path d="M532.4 2224 L532.4 1923.4 L1204 1923.4" fill="none" stroke-linejoin="miter" stroke-miterlimit="3" stroke="#1a1a1a" stroke-width="4.6" stroke-dasharray="16 26" stroke-dashoffset="-4"/>
<path d="M885.1 2224 L885.1 2047.4 L1204 2047.4" fill="none" stroke-linejoin="miter" stroke-miterlimit="3" stroke="#1a1a1a" stroke-width="8"/>
<path d="M920.4 2224 L920.4 2153.6 L1204 2153.6" fill="none" stroke-linejoin="miter" stroke-miterlimit="3" stroke="#00a9e8" stroke-width="7.4"/>
<path d="M991.2 2224 L991.2 2135.9 L1204 2135.9" fill="none" stroke-linejoin="miter" stroke-miterlimit="3" stroke="#b1b3b6" stroke-width="7.4"/>
<path d="M955.8 2224 L955.8 2118.2 L1204 2118.2" fill="none" stroke-linejoin="miter" stroke-miterlimit="3" stroke="#1a1a1a" stroke-width="9"/>
<path d="M955.8 2224 L955.8 2118.2 L1204 2118.2" fill="none" stroke-linejoin="miter" stroke-miterlimit="3" stroke="#fff" stroke-width="4.6"/>
<path d="M955.8 2224 L955.8 2118.2 L1204 2118.2" fill="none" stroke-linejoin="miter" stroke-miterlimit="3" stroke="#1a1a1a" stroke-width="4.6" stroke-dasharray="16 26" stroke-dashoffset="-4"/>
<path d="M1026.6 2224 L1026.6 2065.1 L1204 2065.1" fill="none" stroke-linejoin="miter" stroke-miterlimit="3" stroke="#1a1a1a" stroke-width="8"/>
<path d="M1149.6 2065.1 L1149.6 2242" fill="none" stroke-linejoin="miter" stroke-miterlimit="3" stroke="#1a1a1a" stroke-width="8"/>
<path d="M1204 2082.8 L1131.7 2082.8 L1131.7 2242" fill="none" stroke-linejoin="miter" stroke-miterlimit="3" stroke="#f5aacb" stroke-width="7.4"/>
<path d="M1204 2082.8 L1131.7 2082.8 L1131.7 2242" fill="none" stroke-linejoin="miter" stroke-miterlimit="3" stroke="#fff" stroke-width="4.1" stroke-dasharray="16 26" stroke-dashoffset="0"/>
<path d="M1204 2100.5 L1167.5 2100.5 L1167.5 2242" fill="none" stroke-linejoin="miter" stroke-miterlimit="3" stroke="#f5aacb" stroke-width="7.4"/>
<path d="M1204 2100.5 L1167.5 2100.5 L1167.5 2242" fill="none" stroke-linejoin="miter" stroke-miterlimit="3" stroke="#1a1a1a" stroke-width="7.4" stroke-dasharray="16 26" stroke-dashoffset="-4"/>
<path d="M1238 1870.8 L1309.5 1870.8 L1309.5 1753" fill="none" stroke-linejoin="miter" stroke-miterlimit="3" stroke="#00a651" stroke-width="7.4"/>
<path d="M1238 1888.3 L1327.2 1888.3 L1327.2 1753" fill="none" stroke-linejoin="miter" stroke-miterlimit="3" stroke="#fbb04c" stroke-width="7.4"/>
<path d="M1238 1905.8 L1344.5 1905.8 L1344.5 1753" fill="none" stroke-linejoin="miter" stroke-miterlimit="3" stroke="#1a1a1a" stroke-width="9"/>
<path d="M1238 1905.8 L1344.5 1905.8 L1344.5 1753" fill="none" stroke-linejoin="miter" stroke-miterlimit="3" stroke="#fff" stroke-width="4.6"/>
<path d="M1238 1923.4 L1378.4 1923.4" fill="none" stroke-linejoin="miter" stroke-miterlimit="3" stroke="#1a1a1a" stroke-width="9"/>
<path d="M1238 1923.4 L1378.4 1923.4" fill="none" stroke-linejoin="miter" stroke-miterlimit="3" stroke="#fff" stroke-width="4.6"/>
<path d="M1238 1923.4 L1378.4 1923.4" fill="none" stroke-linejoin="miter" stroke-miterlimit="3" stroke="#1a1a1a" stroke-width="4.6" stroke-dasharray="16 26" stroke-dashoffset="-8"/>
<path d="M1238 2118.2 L1378.4 2118.2 L1378.4 1753" fill="none" stroke-linejoin="miter" stroke-miterlimit="3" stroke="#1a1a1a" stroke-width="9"/>
<path d="M1238 2118.2 L1378.4 2118.2 L1378.4 1753" fill="none" stroke-linejoin="miter" stroke-miterlimit="3" stroke="#fff" stroke-width="4.6"/>
<path d="M1238 2118.2 L1378.4 2118.2 L1378.4 1753" fill="none" stroke-linejoin="miter" stroke-miterlimit="3" stroke="#1a1a1a" stroke-width="4.6" stroke-dasharray="16 26" stroke-dashoffset="-8"/>
<path d="M1238 1976 L1274.5 1976 L1306 2010" fill="none" stroke-linejoin="miter" stroke-miterlimit="3" stroke="#a5552d" stroke-width="7.4"/>
<path d="M1238 1940.9 L1344.5 1940.9 L1344.5 1979 L1309 2012" fill="none" stroke-linejoin="miter" stroke-miterlimit="3" stroke="#1a1a1a" stroke-width="8"/>
<path d="M1238 1958.4 L1309.5 1958.4 L1309.5 2065.1 L1238 2065.1" fill="none" stroke-linejoin="miter" stroke-miterlimit="3" stroke="#1a1a1a" stroke-width="8"/>
<path d="M1309.5 2011.7 L1360.6 2011.7 L1360.6 1753" fill="none" stroke-linejoin="miter" stroke-miterlimit="3" stroke="#1a1a1a" stroke-width="8"/>
<path d="M1238 2047.4 L1274.5 2047.4 L1309 2012 L1341.8 2047.4 L1433.3 2047.4 L1433.3 1766 L1412 1745" fill="none" stroke-linejoin="miter" stroke-miterlimit="3" stroke="#1a1a1a" stroke-width="8"/>
<path d="M1238 2082.8 L1395.6 2082.8 L1395.6 1764 L1384 1753" fill="none" stroke-linejoin="miter" stroke-miterlimit="3" stroke="#f5aacb" stroke-width="7.4"/>
<path d="M1238 2082.8 L1395.6 2082.8 L1395.6 1764 L1384 1753" fill="none" stroke-linejoin="miter" stroke-miterlimit="3" stroke="#fff" stroke-width="4.1" stroke-dasharray="16 26" stroke-dashoffset="0"/>
<path d="M1238 2100.5 L1414.4 2100.5 L1414.4 1764 L1403 1753" fill="none" stroke-linejoin="miter" stroke-miterlimit="3" stroke="#f5aacb" stroke-width="7.4"/>
<path d="M1238 2100.5 L1414.4 2100.5 L1414.4 1764 L1403 1753" fill="none" stroke-linejoin="miter" stroke-miterlimit="3" stroke="#1a1a1a" stroke-width="7.4" stroke-dasharray="16 26" stroke-dashoffset="-10"/>
<path d="M1238 2135.9 L1436.2 2135.9 L1436.2 2212" fill="none" stroke-linejoin="miter" stroke-miterlimit="3" stroke="#b1b3b6" stroke-width="7.4"/>
<path d="M1238 2153.6 L1409.9 2153.6 L1409.9 2212" fill="none" stroke-linejoin="miter" stroke-miterlimit="3" stroke="#00a9e8" stroke-width="7.4"/>
<path d="M1378 2270 L1409.9 2270 L1409.9 2246" fill="none" stroke-linejoin="miter" stroke-miterlimit="3" stroke="#00a9e8" stroke-width="7.4"/>
<path d="M1378 2311.4 L1436.2 2311.4 L1436.2 2246" fill="none" stroke-linejoin="miter" stroke-miterlimit="3" stroke="#b1b3b6" stroke-width="7.4"/>
<path d="M391.8 118 L391.8 2318.4" fill="none" stroke="#1f1f1f" stroke-width="12.5" stroke-linecap="butt"/>
<path d="M391.8 460.2 L996 460.2" fill="none" stroke="#1f1f1f" stroke-width="12.5" stroke-linecap="butt"/>
<path d="M391.8 901.2 L1079 901.2" fill="none" stroke="#1f1f1f" stroke-width="12.5" stroke-linecap="butt"/>
<path d="M391.8 1746.8 L1414.4 1746.8" fill="none" stroke="#1f1f1f" stroke-width="12.5" stroke-linecap="butt"/>
<path d="M1079.1 99.6 L1079.1 1699.5" fill="none" stroke="#1f1f1f" stroke-width="12.5" stroke-linecap="butt"/>
<path d="M2173.3 119.5 L2173.3 2326.5" fill="none" stroke="#1f1f1f" stroke-width="12.5" stroke-linecap="butt"/>
<path d="M1084 1253.2 L1736.3 1253.2" fill="none" stroke="#1f1f1f" stroke-width="12.5" stroke-linecap="butt"/>
<path d="M1073.5 1694.6 L2170 1694.6" fill="none" stroke="#1f1f1f" stroke-width="12.5" stroke-linecap="butt"/>
<path d="M2178 495.2 L2700 495.2" fill="none" stroke="#1f1f1f" stroke-width="12.5" stroke-linecap="butt"/>
<path d="M2702.3 331 L2702.3 2106" fill="none" stroke="#1f1f1f" stroke-width="12.5" stroke-linecap="butt"/>
<path d="M2696.4 336.2 L3019 336.2" fill="none" stroke="#1f1f1f" stroke-width="12.5" stroke-linecap="butt"/>
<path d="M2705 636.2 L3584 636.2" fill="none" stroke="#1f1f1f" stroke-width="12.5" stroke-linecap="butt"/>
<path d="M2696.4 2100.5 L3019 2100.5" fill="none" stroke="#1f1f1f" stroke-width="12.5" stroke-linecap="butt"/>
<path d="M3584.1 104.8 L3584.1 2296" fill="none" stroke="#1f1f1f" stroke-width="12.5" stroke-linecap="butt"/>
<path d="M391.8 118 L391.8 2318.4" fill="none" stroke="#cddae1" stroke-width="9.7" stroke-linecap="butt"/>
<path d="M391.8 460.2 L996 460.2" fill="none" stroke="#cddae1" stroke-width="9.7" stroke-linecap="butt"/>
<path d="M391.8 901.2 L1079 901.2" fill="none" stroke="#cddae1" stroke-width="9.7" stroke-linecap="butt"/>
<path d="M391.8 1746.8 L1414.4 1746.8" fill="none" stroke="#cddae1" stroke-width="9.7" stroke-linecap="butt"/>
<path d="M1079.1 99.6 L1079.1 1699.5" fill="none" stroke="#cddae1" stroke-width="9.7" stroke-linecap="butt"/>
<path d="M2173.3 119.5 L2173.3 2326.5" fill="none" stroke="#cddae1" stroke-width="9.7" stroke-linecap="butt"/>
<path d="M1084 1253.2 L1736.3 1253.2" fill="none" stroke="#cddae1" stroke-width="9.7" stroke-linecap="butt"/>
<path d="M1073.5 1694.6 L2170 1694.6" fill="none" stroke="#cddae1" stroke-width="9.7" stroke-linecap="butt"/>
<path d="M2178 495.2 L2700 495.2" fill="none" stroke="#cddae1" stroke-width="9.7" stroke-linecap="butt"/>
<path d="M2702.3 331 L2702.3 2106" fill="none" stroke="#cddae1" stroke-width="9.7" stroke-linecap="butt"/>
<path d="M2696.4 336.2 L3019 336.2" fill="none" stroke="#cddae1" stroke-width="9.7" stroke-linecap="butt"/>
<path d="M2705 636.2 L3584 636.2" fill="none" stroke="#cddae1" stroke-width="9.7" stroke-linecap="butt"/>
<path d="M2696.4 2100.5 L3019 2100.5" fill="none" stroke="#cddae1" stroke-width="9.7" stroke-linecap="butt"/>
<path d="M3584.1 104.8 L3584.1 2296" fill="none" stroke="#cddae1" stroke-width="9.7" stroke-linecap="butt"/>
<path d="M391.8 118 L391.8 2318.4" fill="none" stroke="url(#hatch)" stroke-width="9.7" stroke-linecap="butt"/>
<path d="M391.8 460.2 L996 460.2" fill="none" stroke="url(#hatch)" stroke-width="9.7" stroke-linecap="butt"/>
<path d="M391.8 901.2 L1079 901.2" fill="none" stroke="url(#hatch)" stroke-width="9.7" stroke-linecap="butt"/>
<path d="M391.8 1746.8 L1414.4 1746.8" fill="none" stroke="url(#hatch)" stroke-width="9.7" stroke-linecap="butt"/>
<path d="M1079.1 99.6 L1079.1 1699.5" fill="none" stroke="url(#hatch)" stroke-width="9.7" stroke-linecap="butt"/>
<path d="M2173.3 119.5 L2173.3 2326.5" fill="none" stroke="url(#hatch)" stroke-width="9.7" stroke-linecap="butt"/>
<path d="M1084 1253.2 L1736.3 1253.2" fill="none" stroke="url(#hatch)" stroke-width="9.7" stroke-linecap="butt"/>
<path d="M1073.5 1694.6 L2170 1694.6" fill="none" stroke="url(#hatch)" stroke-width="9.7" stroke-linecap="butt"/>
<path d="M2178 495.2 L2700 495.2" fill="none" stroke="url(#hatch)" stroke-width="9.7" stroke-linecap="butt"/>
<path d="M2702.3 331 L2702.3 2106" fill="none" stroke="url(#hatch)" stroke-width="9.7" stroke-linecap="butt"/>
<path d="M2696.4 336.2 L3019 336.2" fill="none" stroke="url(#hatch)" stroke-width="9.7" stroke-linecap="butt"/>
<path d="M2705 636.2 L3584 636.2" fill="none" stroke="url(#hatch)" stroke-width="9.7" stroke-linecap="butt"/>
<path d="M2696.4 2100.5 L3019 2100.5" fill="none" stroke="url(#hatch)" stroke-width="9.7" stroke-linecap="butt"/>
<path d="M3584.1 104.8 L3584.1 2296" fill="none" stroke="url(#hatch)" stroke-width="9.7" stroke-linecap="butt"/>
<path d="M185 54 L222 54 Q233 54 230.5 65 L182 417 Q181 425 173 425 L46 425 Q37 425 38 415 C45 280 90 110 172 56 Q176 54 185 54 Z" fill="url(#gHead)" stroke="#1a8fd0" stroke-width="2.6"/>
<rect x="186" y="83" width="46.5" height="218" fill="#b9d0dc" stroke="#333" stroke-width="1.6"/>
<rect x="182" y="332" width="15.5" height="80" fill="#b9d0dc" stroke="#333" stroke-width="1.6"/>
<clipPath id="cpH1"><rect x="186" y="83" width="46.5" height="218"/></clipPath>
<path d="M185 54 L222 54 Q233 54 230.5 65 L182 417 Q181 425 173 425 L46 425 Q37 425 38 415 C45 280 90 110 172 56 Q176 54 185 54 Z" fill="#8fc4e8" fill-opacity="0.25" stroke="#1a8fd0" stroke-width="2.6" clip-path="url(#cpH1)"/>
<rect x="232.5" y="90" width="35" height="26" fill="#fff799" stroke="#222" stroke-width="1.5"/>
<text font-size="21" text-anchor="middle" fill="#1a1a1a" transform="translate(250 110.3) scale(0.88 1)">9</text>
<rect x="232.5" y="116" width="35" height="26" fill="#fff799" stroke="#222" stroke-width="1.5"/>
<text font-size="21" text-anchor="middle" fill="#1a1a1a" transform="translate(250 136.3) scale(0.88 1)">8</text>
<rect x="232.5" y="188.3" width="35" height="26.4" fill="#fff799" stroke="#222" stroke-width="1.5"/>
<text font-size="21" text-anchor="middle" fill="#1a1a1a" transform="translate(250 208.9) scale(0.88 1)">1</text>
<rect x="232.5" y="214.8" width="35" height="26.5" fill="#fff799" stroke="#222" stroke-width="1.5"/>
<text font-size="21" text-anchor="middle" fill="#1a1a1a" transform="translate(250 235.3) scale(0.88 1)">3</text>
<rect x="232.5" y="241.2" width="35" height="26.4" fill="#fff799" stroke="#222" stroke-width="1.5"/>
<text font-size="21" text-anchor="middle" fill="#1a1a1a" transform="translate(250 261.8) scale(0.88 1)">2</text>
<rect x="232.5" y="267.6" width="35" height="26.5" fill="#fff799" stroke="#222" stroke-width="1.5"/>
<text font-size="21" text-anchor="middle" fill="#1a1a1a" transform="translate(250 288.2) scale(0.88 1)">4</text>
<rect x="197.5" y="332" width="35" height="26.7" fill="#fff799" stroke="#222" stroke-width="1.5"/>
<text font-size="21" text-anchor="middle" fill="#1a1a1a" transform="translate(215 352.7) scale(0.88 1)">7</text>
<rect x="197.5" y="358.7" width="35" height="26.7" fill="#fff799" stroke="#222" stroke-width="1.5"/>
<text font-size="21" text-anchor="middle" fill="#1a1a1a" transform="translate(215 379.4) scale(0.88 1)">6</text>
<rect x="197.5" y="385.4" width="35" height="26.7" fill="#fff799" stroke="#222" stroke-width="1.5"/>
<text font-size="21" text-anchor="middle" fill="#1a1a1a" transform="translate(215 406.1) scale(0.88 1)">5</text>
<g transform="translate(253 157.7) rotate(0) scale(1.0)" fill="none" stroke="#1a1a1a" stroke-width="1.5"><path d="M-11 0 L11 0 M-9.7 -7 L-2.7 0 L-9.7 7 M-3.5 -7 L3.5 0 L-3.5 7"/></g>
<g transform="translate(253 310.5) rotate(0) scale(1.0)" fill="none" stroke="#1a1a1a" stroke-width="1.5"><path d="M-11 0 L11 0 M-9.7 -7 L-2.7 0 L-9.7 7 M-3.5 -7 L3.5 0 L-3.5 7"/></g>
<g transform="translate(213.7 428) rotate(0) scale(1.0)" fill="none" stroke="#1a1a1a" stroke-width="1.5"><path d="M-11 0 L11 0 M-9.7 -7 L-2.7 0 L-9.7 7 M-3.5 -7 L3.5 0 L-3.5 7"/></g>
<path d="M232 103 L198 103 L198 80 L162.5 80 L162.5 95" fill="none" stroke="#1a1a1a" stroke-width="2.2" />
<path d="M162.5 137 L162.5 148 L198 148 L198 129 L232 129" fill="none" stroke="#1a1a1a" stroke-width="2.2" />
<path d="M157 184 L173 184 L173 201.5 L232 201.5" fill="none" stroke="#1a1a1a" stroke-width="2.2" />
<path d="M117 184 L101.7 184 L101.7 306.8 L117 306.8" fill="none" stroke="#1a1a1a" stroke-width="2.2" />
<path d="M101.7 219 L173 219 L173 228 L232 228" fill="none" stroke="#1a1a1a" stroke-width="2.2" />
<path d="M101.7 253.5 L117 253.5" fill="none" stroke="#1a1a1a" stroke-width="2.2" />
<path d="M157 253.5 L232 253.5" fill="none" stroke="#1a1a1a" stroke-width="2.2" />
<path d="M157 306.8 L173 306.8 L173 281 L232 281" fill="none" stroke="#1a1a1a" stroke-width="2.2" />
<circle cx="101.7" cy="219" r="6" fill="#1a1a1a"/>
<circle cx="101.7" cy="253.5" r="6" fill="#1a1a1a"/>
<circle cx="162.5" cy="115.7" r="21" fill="#f7a94a" stroke="#00a0e3" stroke-width="3.2"/>
<path d="M147.7 100.9 L177.3 130.5 M147.7 130.5 L177.3 100.9" stroke="#00a0e3" stroke-width="1.6" fill="none"/>
<circle cx="137.2" cy="184" r="20.4" fill="#fff" stroke="#00a0e3" stroke-width="3.2"/>
<path d="M122.8 169.6 L151.6 198.4 M122.8 198.4 L151.6 169.6" stroke="#00a0e3" stroke-width="1.6" fill="none"/>
<circle cx="137.2" cy="253.5" r="20.4" fill="#fff" stroke="#00a0e3" stroke-width="3.2"/>
<path d="M122.8 239.1 L151.6 267.9 M122.8 267.9 L151.6 239.1" stroke="#00a0e3" stroke-width="1.6" fill="none"/>
<circle cx="137.2" cy="306.8" r="20.4" fill="#fff" stroke="#00a0e3" stroke-width="3.2"/>
<path d="M122.8 292.4 L151.6 321.2 M122.8 321.2 L151.6 292.4" stroke="#00a0e3" stroke-width="1.6" fill="none"/>
<rect x="88" y="368" width="24" height="6" fill="#9a9b9d" stroke="#333" stroke-width="1"/>
<circle cx="84" cy="371" r="6" fill="#eceadb" stroke="#555" stroke-width="1.2"/>
<rect x="104" y="352" width="10" height="40" rx="3" fill="url(#gDark)" stroke="#333" stroke-width="1"/>
<rect x="112" y="350" width="71" height="44" rx="3" fill="url(#gCyl)" stroke="#444" stroke-width="1"/>
<circle cx="303" cy="281" r="8" fill="#1a1a1a"/>
<path d="M185 2383 L222 2383 Q233 2383 230.5 2372 L182 2019 Q181 2011 173 2011 L46 2011 Q37 2011 38 2021 C45 2156 90 2327 172 2381 Q176 2383 185 2383 Z" fill="url(#gHead8)" stroke="#1a8fd0" stroke-width="2.6"/>
<rect x="188.3" y="2136" width="44.2" height="217" fill="#b9d0dc" stroke="#333" stroke-width="1.6"/>
<rect x="182" y="2025" width="15.5" height="79.2" fill="#b9d0dc" stroke="#333" stroke-width="1.6"/>
<clipPath id="cpH8"><rect x="188.3" y="2136" width="44.2" height="217"/></clipPath>
<path d="M185 2383 L222 2383 Q233 2383 230.5 2372 L182 2019 Q181 2011 173 2011 L46 2011 Q37 2011 38 2021 C45 2156 90 2327 172 2381 Q176 2383 185 2383 Z" fill="#8fc4e8" fill-opacity="0.25" stroke="#1a8fd0" stroke-width="2.6" clip-path="url(#cpH8)"/>
<rect x="197.5" y="2025" width="35" height="26.4" fill="#fff799" stroke="#222" stroke-width="1.5"/>
<text font-size="21" text-anchor="middle" fill="#1a1a1a" transform="translate(215 2045.5) scale(0.88 1)">5</text>
<rect x="197.5" y="2051.4" width="35" height="26.4" fill="#fff799" stroke="#222" stroke-width="1.5"/>
<text font-size="21" text-anchor="middle" fill="#1a1a1a" transform="translate(215 2072) scale(0.88 1)">6</text>
<rect x="197.5" y="2077.8" width="35" height="26.4" fill="#fff799" stroke="#222" stroke-width="1.5"/>
<text font-size="21" text-anchor="middle" fill="#1a1a1a" transform="translate(215 2098.3) scale(0.88 1)">7</text>
<rect x="232.5" y="2142.4" width="35" height="26.5" fill="#fff799" stroke="#222" stroke-width="1.5"/>
<text font-size="21" text-anchor="middle" fill="#1a1a1a" transform="translate(250 2163) scale(0.88 1)">4</text>
<rect x="232.5" y="2168.9" width="35" height="26.5" fill="#fff799" stroke="#222" stroke-width="1.5"/>
<text font-size="21" text-anchor="middle" fill="#1a1a1a" transform="translate(250 2189.5) scale(0.88 1)">2</text>
<rect x="232.5" y="2195.4" width="35" height="26.5" fill="#fff799" stroke="#222" stroke-width="1.5"/>
<text font-size="21" text-anchor="middle" fill="#1a1a1a" transform="translate(250 2216) scale(0.88 1)">3</text>
<rect x="232.5" y="2221.9" width="35" height="26.5" fill="#fff799" stroke="#222" stroke-width="1.5"/>
<text font-size="21" text-anchor="middle" fill="#1a1a1a" transform="translate(250 2242.5) scale(0.88 1)">1</text>
<rect x="232.5" y="2294.2" width="35" height="26.1" fill="#fff799" stroke="#222" stroke-width="1.5"/>
<text font-size="21" text-anchor="middle" fill="#1a1a1a" transform="translate(250 2314.6) scale(0.88 1)">8</text>
<rect x="232.5" y="2320.3" width="35" height="26.1" fill="#fff799" stroke="#222" stroke-width="1.5"/>
<text font-size="21" text-anchor="middle" fill="#1a1a1a" transform="translate(250 2340.7) scale(0.88 1)">9</text>
<g transform="translate(213.7 2118) rotate(0) scale(1.0)" fill="none" stroke="#1a1a1a" stroke-width="1.5"><path d="M-11 0 L11 0 M-9.7 -7 L-2.7 0 L-9.7 7 M-3.5 -7 L3.5 0 L-3.5 7"/></g>
<g transform="translate(253 2266) rotate(0) scale(1.0)" fill="none" stroke="#1a1a1a" stroke-width="1.5"><path d="M-11 0 L11 0 M-9.7 -7 L-2.7 0 L-9.7 7 M-3.5 -7 L3.5 0 L-3.5 7"/></g>
<g transform="translate(253 2365) rotate(0) scale(1.0)" fill="none" stroke="#1a1a1a" stroke-width="1.5"><path d="M-11 0 L11 0 M-9.7 -7 L-2.7 0 L-9.7 7 M-3.5 -7 L3.5 0 L-3.5 7"/></g>
<path d="M232 2334.6 L198 2334.6 L198 2356 L162.5 2356 L162.5 2343" fill="none" stroke="#1a1a1a" stroke-width="2.2" />
<path d="M162.5 2300 L162.5 2286 L198 2286 L198 2307.7 L232 2307.7" fill="none" stroke="#1a1a1a" stroke-width="2.2" />
<path d="M157 2129.5 L173 2129.5 L173 2156 L232 2156" fill="none" stroke="#1a1a1a" stroke-width="2.2" />
<path d="M117 2129.5 L101.7 2129.5 L101.7 2251 L117 2251" fill="none" stroke="#1a1a1a" stroke-width="2.2" />
<path d="M101.7 2217 L173 2217 L173 2208.5 L232 2208.5" fill="none" stroke="#1a1a1a" stroke-width="2.2" />
<path d="M101.7 2182.3 L117 2182.3" fill="none" stroke="#1a1a1a" stroke-width="2.2" />
<path d="M157 2182.3 L232 2182.3" fill="none" stroke="#1a1a1a" stroke-width="2.2" />
<path d="M157 2251 L173 2251 L173 2235 L232 2235" fill="none" stroke="#1a1a1a" stroke-width="2.2" />
<circle cx="101.7" cy="2217.6" r="6" fill="#1a1a1a"/>
<circle cx="101.7" cy="2182.3" r="6" fill="#1a1a1a"/>
<circle cx="162.5" cy="2321.5" r="21" fill="#f7a94a" stroke="#00a0e3" stroke-width="3.2"/>
<path d="M147.7 2306.7 L177.3 2336.3 M147.7 2336.3 L177.3 2306.7" stroke="#00a0e3" stroke-width="1.6" fill="none"/>
<circle cx="137.2" cy="2129.5" r="20.4" fill="#fff" stroke="#00a0e3" stroke-width="3.2"/>
<path d="M122.8 2115.1 L151.6 2143.9 M122.8 2143.9 L151.6 2115.1" stroke="#00a0e3" stroke-width="1.6" fill="none"/>
<circle cx="137.2" cy="2182.3" r="20.4" fill="#fff" stroke="#00a0e3" stroke-width="3.2"/>
<path d="M122.8 2167.9 L151.6 2196.7 M122.8 2196.7 L151.6 2167.9" stroke="#00a0e3" stroke-width="1.6" fill="none"/>
<circle cx="137.2" cy="2251" r="20.4" fill="#fff" stroke="#00a0e3" stroke-width="3.2"/>
<path d="M122.8 2236.6 L151.6 2265.4 M122.8 2265.4 L151.6 2236.6" stroke="#00a0e3" stroke-width="1.6" fill="none"/>
<rect x="88" y="2063" width="24" height="6" fill="#9a9b9d" stroke="#333" stroke-width="1"/>
<circle cx="84" cy="2066" r="6" fill="#eceadb" stroke="#555" stroke-width="1.2"/>
<rect x="104" y="2046" width="10" height="40" rx="3" fill="url(#gDark)" stroke="#333" stroke-width="1"/>
<rect x="112" y="2044" width="71" height="44" rx="3" fill="url(#gCyl)" stroke="#444" stroke-width="1"/>
<circle cx="303" cy="2156" r="8" fill="#1a1a1a"/>
<rect x="108.7" y="512.4" width="123.8" height="123.8" fill="#b9d0dc" stroke="#333" stroke-width="1.6"/>
<rect x="232.5" y="526.4" width="35" height="26.4" fill="#fff799" stroke="#222" stroke-width="1.5"/>
<text font-size="21" text-anchor="middle" fill="#1a1a1a" transform="translate(250 546.9) scale(0.88 1)">1</text>
<rect x="232.5" y="552.8" width="35" height="26.4" fill="#fff799" stroke="#222" stroke-width="1.5"/>
<text font-size="21" text-anchor="middle" fill="#1a1a1a" transform="translate(250 573.4) scale(0.88 1)">2</text>
<rect x="232.5" y="579.2" width="35" height="26.4" fill="#fff799" stroke="#222" stroke-width="1.5"/>
<text font-size="21" text-anchor="middle" fill="#1a1a1a" transform="translate(250 599.7) scale(0.88 1)">3</text>
<g transform="translate(250 623) rotate(0) scale(1.0)" fill="none" stroke="#1a1a1a" stroke-width="1.5"><path d="M-11 0 L11 0 M-9.7 -7 L-2.7 0 L-9.7 7 M-3.5 -7 L3.5 0 L-3.5 7"/></g>
<path d="M126.5 565 L126.5 618" fill="none" stroke="#1a1a1a" stroke-width="2.4" />
<path d="M126.5 565 L161.5 565 L193.8 548" fill="none" stroke="#1a1a1a" stroke-width="2.4" />
<path d="M232.5 539.6 L188.4 539.6 L188.4 551.6" fill="none" stroke="#1a1a1a" stroke-width="2.4" />
<path d="M126.5 592 L161.5 592 L193.8 575" fill="none" stroke="#1a1a1a" stroke-width="2.4" />
<path d="M232.5 566 L188.4 566 L188.4 578" fill="none" stroke="#1a1a1a" stroke-width="2.4" />
<path d="M126.5 618 L161.5 618 L193.8 601" fill="none" stroke="#1a1a1a" stroke-width="2.4" />
<path d="M232.5 592.3 L188.4 592.3 L188.4 604.3" fill="none" stroke="#1a1a1a" stroke-width="2.4" />
<circle cx="164.2" cy="756.2" r="56" fill="url(#gHorn)" stroke="#3a3a2a" stroke-width="2"/>
<circle cx="164.2" cy="756.2" r="44" fill="none" stroke="#8a8555" stroke-width="2"/>
<circle cx="164.2" cy="756.2" r="30" fill="#c9c595" stroke="#7d7848" stroke-width="1.5"/>
<circle cx="162" cy="756.2" r="14" fill="#9e9a66" stroke="#6f6a3c" stroke-width="1.5"/>
<rect x="220.7" y="739" width="24.3" height="15.6" fill="#fff799" stroke="#333" stroke-width="1.2"/>
<path d="M229.7 741 L236 746.8 L229.7 752.6" fill="none" stroke="#1a1a1a" stroke-width="1.6" />
<rect x="220.7" y="758.9" width="24.3" height="15.6" fill="#fff799" stroke="#333" stroke-width="1.2"/>
<path d="M229.7 760.9 L236 766.7 L229.7 772.5" fill="none" stroke="#1a1a1a" stroke-width="1.6" />
<g stroke="#22343c" stroke-width="1.1"><path d="M89 962 L46 992 L46 1020 L89 1050 Z" fill="#1c1f22"/><path d="M89 962 L46 992 L46 996 L84 970 Z M89 1050 L46 1020 L46 1016 L84 1042 Z" fill="#8fb0bc"/><rect x="37.7" y="993" width="21" height="26.8" fill="url(#gSteel)"/><rect x="58" y="997" width="9" height="19" fill="url(#gSteel)"/><rect x="62" y="994" width="4" height="25" fill="url(#gSteel)"/><path d="M75 985 L84 985 M75 990 L84 990 M75 995 L84 995 M75 1000 L84 1000 M75 1005 L84 1005 M75 1010 L84 1010 M75 1015 L84 1015 M75 1020 L84 1020 M75 1025 L84 1025" stroke="#9fb6bf" stroke-width="2" fill="none"/><rect x="89" y="961" width="8" height="91" fill="url(#gSteel)"/><path d="M108 895.3 L153 895.3 L153 952.5 L100.4 952.5 L100.4 903 Q100.4 895.3 108 895.3 Z" fill="url(#gLav)"/><rect x="153" y="900.4" width="51" height="52" fill="url(#gSteel)"/><rect x="143" y="897" width="46" height="6" rx="2" fill="#dfe8ec"/><rect x="143" y="944" width="46" height="6" rx="2" fill="#dfe8ec"/><rect x="152.9" y="891" width="6" height="61.5" fill="url(#gSteel)"/><rect x="168" y="891" width="5.4" height="61.5" fill="url(#gSteel)"/><rect x="198" y="891" width="5.4" height="61.5" fill="url(#gSteel)"/><rect x="203.3" y="893.6" width="52.2" height="59" rx="3" fill="url(#gBrn2)" stroke="#6b3a25"/><rect x="203.5" y="889.5" width="9" height="16" fill="url(#gBrn2)" stroke="#6b3a25"/><rect x="234.5" y="889.5" width="8.5" height="16" fill="url(#gBrn2)" stroke="#6b3a25"/><rect x="212" y="895" width="34" height="6" rx="3" fill="#e8d5cc" stroke="#6b3a25"/><path d="M232.8 922.2 L258 922.2 L258 952.5 L240.5 952.5 L240.5 935 L232.8 935 Z" fill="#7c3c24" stroke="#4a2012"/><rect x="258.8" y="922.6" width="5" height="11.4" fill="#c5d0d5"/><rect x="263.8" y="925" width="8" height="6.5" fill="#d5dfe3"/><rect x="271" y="922.6" width="4.7" height="11.4" fill="#c5d0d5"/><rect x="258.8" y="939" width="5" height="11.4" fill="#c5d0d5"/><rect x="263.8" y="941.5" width="8" height="6.5" fill="#d5dfe3"/><rect x="271" y="939" width="8" height="11.4" fill="#c5d0d5"/><path d="M267.5 938 L267.5 950 Q267.5 955 260 956" fill="none" stroke="#1a1a1a" stroke-width="1.6"/><rect x="96.5" y="943.3" width="41.2" height="110" rx="3" fill="url(#gSteel)"/><path d="M108 944 L137.5 944 L137.5 964.5 L120 964.5 L108 954 Z" fill="#8fb3bf"/><rect x="131" y="954.2" width="129.5" height="106" rx="5" fill="url(#gSteel)"/><path d="M260.5 957 L292.5 957 L297 1000 L297 1012 L292.5 1056.8 L260.5 1056.8 Z" fill="url(#gSteel)"/><rect x="297.6" y="993.7" width="7" height="24.4" fill="url(#gSteel)"/><rect x="304" y="996" width="4.5" height="20" fill="url(#gSteel)"/><path d="M135.5 957 L135.5 1058 M258.5 957 L258.5 1058" stroke="#e6eef1" stroke-width="1.6" fill="none"/><rect x="96.5" y="1039.1" width="16" height="53.9" fill="url(#gSteelH)"/></g>
<rect x="255.6" y="895.8" width="25.4" height="14.5" fill="#fff799" stroke="#333" stroke-width="1.2"/>
<path d="M265.5 897.8 L271.1 903 L265.5 908.3" fill="none" stroke="#1a1a1a" stroke-width="1.6" />
<text font-size="19" text-anchor="middle" fill="#1a1a1a" transform="translate(270.7 887) scale(0.88 1)">50</text>
<rect x="110.3" y="1215.5" width="208.7" height="133.5" rx="6" fill="#3c4a52" stroke="#1a1a1a" stroke-width="1.5"/>
<path d="M115 1224 L153 1224 L153 1256 L275 1256 L275 1224 L314 1224 L314 1340 L115 1340 Z" fill="#c3ced3" stroke="#2a2a2a" stroke-width="1.2"/>
<path d="M153 1224 L275 1224 L275 1256 L153 1256 Z" fill="#aebbc2" stroke="#2a2a2a" stroke-width="1.2"/>
<rect x="123.8" y="1272.6" width="182" height="33.4" fill="#3d5864" stroke="#1a1a1a" stroke-width="1.2"/>
<circle cx="143.7" cy="1288.8" r="8.5" fill="#eceff0" stroke="#222" stroke-width="1"/>
<circle cx="172.2" cy="1288.8" r="8.5" fill="#eceff0" stroke="#222" stroke-width="1"/>
<circle cx="200.8" cy="1288.8" r="8.5" fill="#eceff0" stroke="#222" stroke-width="1"/>
<circle cx="228.7" cy="1288.8" r="8.5" fill="#eceff0" stroke="#222" stroke-width="1"/>
<circle cx="257.3" cy="1288.8" r="8.5" fill="#eceff0" stroke="#222" stroke-width="1"/>
<circle cx="285.8" cy="1288.8" r="8.5" fill="#eceff0" stroke="#222" stroke-width="1"/>
<circle cx="131.9" cy="1236" r="13.5" fill="#fff" stroke="#1a1a1a" stroke-width="2.4"/>
<circle cx="296.6" cy="1236" r="13.5" fill="#fff" stroke="#1a1a1a" stroke-width="2.4"/>
<path d="M124 1236 L140 1236" fill="none" stroke="#1a1a1a" stroke-width="3" />
<path d="M288.6 1236 L304.6 1236" fill="none" stroke="#1a1a1a" stroke-width="3" />
<path d="M296.6 1228 L296.6 1244" fill="none" stroke="#1a1a1a" stroke-width="3" />
<circle cx="74" cy="1166" r="7" fill="#fff" stroke="#1a1a1a" stroke-width="1.8"/>
<circle cx="74" cy="1236" r="7" fill="#fff" stroke="#1a1a1a" stroke-width="1.8"/>
<g stroke="#22343c" stroke-width="1.1"><rect x="38.2" y="1515.5" width="32.3" height="58.3" rx="2" fill="url(#gOlive)" stroke="#3a3a28"/><path d="M44 1516 L44 1573.5 M50.5 1516 L50.5 1573.5 M57 1516 L57 1573.5 M63.5 1516 L63.5 1573.5" stroke="#4a4a32" stroke-width="1.4" fill="none"/><rect x="70" y="1532" width="6" height="26" fill="url(#gOlive)" stroke="#3a3a28"/><path d="M75.5 1519 L85.6 1482 L121 1480.5 L121 1616.7 L96.5 1616.7 L85.6 1608.3 L75.5 1569.6 Z" fill="url(#gSteel)"/><path d="M93.2 1453.5 L122.3 1453.5 L122.3 1616.7 L107.5 1616.7 L107.5 1494 L93.2 1494 L93.2 1467 L96 1467 L96 1459 L93.2 1459 Z" fill="url(#gSteelL)"/><path d="M107.5 1454 L107.5 1616" stroke="#2f4a55" fill="none"/><rect x="122.3" y="1475" width="5" height="137" fill="#3f8294"/><rect x="126" y="1472" width="19.3" height="144.7" rx="2" fill="url(#gSteelL)"/><rect x="145.3" y="1480.5" width="22.7" height="130.3" rx="4" fill="url(#gSteel)"/><path d="M92 1506 L104 1506 L104 1513 L92 1513 Z M92 1518 L104 1518 L104 1526 L92 1526 Z M92 1577 L104 1577 L104 1582 L92 1582 Z M92 1587 L104 1587 L104 1592 L92 1592 Z M92 1597 L104 1597 L104 1601 L92 1601 Z" fill="#111" stroke="none"/><path d="M146 1489 L160 1489 L160 1493 L146 1493 Z M146 1497 L160 1497 L160 1503 L146 1503 Z M146 1508 L160 1508 L160 1514 L146 1514 Z M146 1519 L160 1519 L160 1526 L146 1526 Z M146 1577 L160 1577 L160 1582 L146 1582 Z M146 1587 L160 1587 L160 1593 L146 1593 Z M146 1597 L160 1597 L160 1601 L146 1601 Z" fill="#111" stroke="none"/><rect x="152" y="1544" width="8" height="17" fill="#222"/><rect x="153" y="1548" width="6" height="9" fill="#a9a98a"/><path d="M168 1494 Q168 1486.4 176 1486.4 L204 1486.4 Q211.8 1486.4 211.8 1494 L211.8 1594 Q211.8 1602.4 204 1602.4 L168 1602.4 Z" fill="url(#gNavy)" stroke="#0a2036"/><rect x="211" y="1492" width="6" height="17" fill="#2a4a6a" stroke="#0a2036"/><rect x="178.1" y="1577.2" width="32.8" height="12.6" fill="#8f9ca6" stroke="none"/></g>
<circle cx="224.4" cy="1500.6" r="7.6" fill="#fff" stroke="#1a1a1a" stroke-width="2"/>
<rect x="211.8" y="1552.8" width="25.2" height="13.1" fill="#fff799" stroke="#333" stroke-width="1.2"/>
<path d="M221.9 1554.8 L226.9 1559.3 L221.9 1563.9" fill="none" stroke="#1a1a1a" stroke-width="1.6" />
<text font-size="20" text-anchor="middle" fill="#1a1a1a" transform="translate(228.6 1480) scale(0.88 1)">B+</text>
<text font-size="20" text-anchor="middle" fill="#1a1a1a" transform="translate(221 1593.5) scale(0.88 1)">L</text>
<circle cx="302.6" cy="1553.6" r="8.7" fill="#1a1a1a"/>
<rect x="37.7" y="1711.9" width="106.5" height="212.1" fill="#b97a33" stroke="#3a2a1a" stroke-width="1.6"/>
<text font-size="36" font-weight="bold" text-anchor="middle" fill="#fff" transform="translate(90.4 1828) scale(1.0 1)">MEG</text>
<rect x="144.2" y="1729.6" width="53.3" height="35.3" fill="#fff799" stroke="#222" stroke-width="1.5"/>
<text font-size="21" text-anchor="middle" fill="#1a1a1a" transform="translate(170.8 1754.6) scale(0.88 1)">1</text>
<rect x="144.2" y="1764.9" width="53.3" height="35.3" fill="#fff799" stroke="#222" stroke-width="1.5"/>
<text font-size="21" text-anchor="middle" fill="#1a1a1a" transform="translate(170.8 1789.9) scale(0.88 1)">2</text>
<rect x="144.2" y="1800.2" width="53.3" height="35.3" fill="#fff799" stroke="#222" stroke-width="1.5"/>
<text font-size="21" text-anchor="middle" fill="#1a1a1a" transform="translate(170.8 1825.2) scale(0.88 1)">3</text>
<rect x="144.2" y="1835.5" width="53.3" height="35.3" fill="#fff799" stroke="#222" stroke-width="1.5"/>
<text font-size="21" text-anchor="middle" fill="#1a1a1a" transform="translate(170.8 1860.5) scale(0.88 1)">4</text>
<rect x="144.2" y="1870.8" width="53.3" height="35.3" fill="#fff799" stroke="#222" stroke-width="1.5"/>
<text font-size="21" text-anchor="middle" fill="#1a1a1a" transform="translate(170.8 1895.8) scale(0.88 1)">5</text>
<g transform="translate(172 1924) rotate(0) scale(1.0)" fill="none" stroke="#1a1a1a" stroke-width="1.5"><path d="M-11 0 L11 0 M-9.7 -7 L-2.7 0 L-9.7 7 M-3.5 -7 L3.5 0 L-3.5 7"/></g>
<text font-size="29" font-weight="bold" text-anchor="middle" fill="#1a1a1a" transform="translate(87.7 80.4) scale(0.9 1)">1</text>
<text font-size="29" font-weight="bold" text-anchor="middle" fill="#1a1a1a" transform="translate(88.8 535.4) scale(0.9 1)">2</text>
<text font-size="29" font-weight="bold" text-anchor="middle" fill="#1a1a1a" transform="translate(88.8 724.4) scale(0.9 1)">3</text>
<text font-size="29" font-weight="bold" text-anchor="middle" fill="#1a1a1a" transform="translate(88.8 885.9) scale(0.9 1)">4</text>
<text font-size="29" font-weight="bold" text-anchor="middle" fill="#1a1a1a" transform="translate(203.4 1200.9) scale(0.9 1)">5</text>
<text font-size="29" font-weight="bold" text-anchor="middle" fill="#1a1a1a" transform="translate(138.3 1465.4) scale(0.9 1)">6</text>
<text font-size="29" font-weight="bold" text-anchor="middle" fill="#1a1a1a" transform="translate(88.8 1697.4) scale(0.9 1)">7</text>
<text font-size="29" font-weight="bold" text-anchor="middle" fill="#1a1a1a" transform="translate(88.8 2339.4) scale(0.9 1)">8</text>
<rect x="443.6" y="54.2" width="318.3" height="105.8" fill="#b9d0dc" stroke="#333" stroke-width="1.6"/>
<rect x="479.4" y="160" width="35.3" height="53.2" fill="#fff799" stroke="#222" stroke-width="1.5"/>
<text font-size="22" text-anchor="middle" fill="#1a1a1a" transform="translate(497.1 194.3) scale(0.88 1)">3</text>
<rect x="514.7" y="160" width="35.3" height="53.2" fill="#fff799" stroke="#222" stroke-width="1.5"/>
<text font-size="22" text-anchor="middle" fill="#1a1a1a" transform="translate(532.4 194.3) scale(0.88 1)">7</text>
<rect x="550" y="160" width="35.3" height="53.2" fill="#fff799" stroke="#222" stroke-width="1.5"/>
<text font-size="22" text-anchor="middle" fill="#1a1a1a" transform="translate(567.7 194.3) scale(0.88 1)">2</text>
<rect x="585.4" y="160" width="35.3" height="53.2" fill="#fff799" stroke="#222" stroke-width="1.5"/>
<text font-size="22" text-anchor="middle" fill="#1a1a1a" transform="translate(603 194.3) scale(0.88 1)">1</text>
<rect x="620.7" y="160" width="35.3" height="53.2" fill="#fff799" stroke="#222" stroke-width="1.5"/>
<text font-size="22" text-anchor="middle" fill="#1a1a1a" transform="translate(638.3 194.3) scale(0.88 1)">6</text>
<rect x="656" y="160" width="35.3" height="53.2" fill="#fff799" stroke="#222" stroke-width="1.5"/>
<text font-size="22" text-anchor="middle" fill="#1a1a1a" transform="translate(673.7 194.3) scale(0.88 1)">5</text>
<rect x="691.3" y="160" width="35.3" height="53.2" fill="#fff799" stroke="#222" stroke-width="1.5"/>
<text font-size="22" text-anchor="middle" fill="#1a1a1a" transform="translate(709 194.3) scale(0.88 1)">4</text>
<path d="M532.7 93.3 L532.7 72 L602.9 72 L602.9 93.3" fill="none" stroke="#1a1a1a" stroke-width="2.6" />
<path d="M567.3 72 L567.3 160" fill="none" stroke="#1a1a1a" stroke-width="2.6" />
<circle cx="567.3" cy="72" r="5.5" fill="#1a1a1a"/>
<path d="M497 160 L497 99.2 L517.6 99.2" fill="none" stroke="#1a1a1a" stroke-width="2.6" />
<path d="M514 93.3 L532.7 125.9 L532.7 160" fill="none" stroke="#1a1a1a" stroke-width="2.6" />
<path d="M638 160 L638 99.2 L617.7 99.2" fill="none" stroke="#1a1a1a" stroke-width="2.6" />
<path d="M621.2 93.3 L602.9 125.9 L602.9 160" fill="none" stroke="#1a1a1a" stroke-width="2.6" />
<path d="M673.3 160 L673.3 72 L708.9 72 L708.9 160" fill="none" stroke="#1a1a1a" stroke-width="2.6" />
<circle cx="708.9" cy="106.6" r="26" fill="#fff" stroke="#1a1a1a" stroke-width="2.6"/>
<path d="M697 95 L721 95 L709 117 Z M696 118 L722 118 M709 80.6 L709 132.6" fill="none" stroke="#1a1a1a" stroke-width="2.4"/>
<path d="M731 135 L743 145 M737 128 L749 138" stroke="#1a1a1a" stroke-width="1.6"/><path d="M745 147 L738.5 144.5 L742 140.5 Z M751 140 L744.5 137.5 L748 133.5 Z" fill="#1a1a1a"/>
<g transform="translate(744 192.5) rotate(90) scale(1.0)" fill="none" stroke="#1a1a1a" stroke-width="1.5"><path d="M-11 0 L11 0 M-9.7 -7 L-2.7 0 L-9.7 7 M-3.5 -7 L3.5 0 L-3.5 7"/></g>
<rect x="779" y="274.8" width="35.6" height="17.6" fill="#fff799" stroke="#333" stroke-width="1.2"/>
<path d="M792.5 274.8 L801.5 283.6 L792.5 292.4" fill="none" stroke="#1a1a1a" stroke-width="1.6" />
<rect x="779" y="292.4" width="35.6" height="17.6" fill="#fff799" stroke="#333" stroke-width="1.2"/>
<path d="M792.5 292.4 L801.5 301.2 L792.5 310.1" fill="none" stroke="#1a1a1a" stroke-width="1.6" />
<rect x="779" y="310.1" width="35.6" height="17.6" fill="#fff799" stroke="#333" stroke-width="1.2"/>
<path d="M792.5 310.1 L801.5 318.9 L792.5 327.7" fill="none" stroke="#1a1a1a" stroke-width="1.6" />
<rect x="779" y="327.7" width="35.6" height="17.6" fill="#fff799" stroke="#333" stroke-width="1.2"/>
<path d="M792.5 327.7 L801.5 336.5 L792.5 345.4" fill="none" stroke="#1a1a1a" stroke-width="1.6" />
<rect x="779" y="345.4" width="35.6" height="17.6" fill="#fff799" stroke="#333" stroke-width="1.2"/>
<path d="M792.5 345.4 L801.5 354.2 L792.5 363" fill="none" stroke="#1a1a1a" stroke-width="1.6" />
<rect x="779" y="363" width="35.6" height="17.6" fill="#fff799" stroke="#333" stroke-width="1.2"/>
<path d="M792.5 363 L801.5 371.8 L792.5 380.6" fill="none" stroke="#1a1a1a" stroke-width="1.6" />
<rect x="779" y="380.6" width="35.6" height="17.6" fill="#fff799" stroke="#333" stroke-width="1.2"/>
<path d="M792.5 380.6 L801.5 389.4 L792.5 398.3" fill="none" stroke="#1a1a1a" stroke-width="1.6" />
<rect x="814.3" y="54.2" width="141.5" height="159" fill="#b9d0dc" stroke="#333" stroke-width="1.6"/>
<rect x="973" y="190.1" width="26.6" height="35.6" fill="#fff799" stroke="#222" stroke-width="1.5"/>
<text font-size="22" text-anchor="middle" fill="#1a1a1a" transform="translate(986.3 215.6) scale(0.88 1)">1</text>
<rect x="999.6" y="190.1" width="26.6" height="35.6" fill="#fff799" stroke="#222" stroke-width="1.5"/>
<text font-size="22" text-anchor="middle" fill="#1a1a1a" transform="translate(1013 215.6) scale(0.88 1)">2</text>
<g transform="translate(1040 208.8) rotate(90) scale(1.0)" fill="none" stroke="#1a1a1a" stroke-width="1.5"><path d="M-11 0 L11 0 M-9.7 -7 L-2.7 0 L-9.7 7 M-3.5 -7 L3.5 0 L-3.5 7"/></g>
<path d="M923 124.4 L955.8 124.4" fill="none" stroke="#1a1a1a" stroke-width="2.6" />
<path d="M851 124.4 L832.4 124.4 L832.4 165.9 L869.4 165.9" fill="none" stroke="#1a1a1a" stroke-width="2.6" />
<path d="M869.4 163 L869.4 185" fill="none" stroke="#1a1a1a" stroke-width="2.6" />
<path d="M862 176 L901 195.5 L901 165.9 L955.8 165.9" fill="none" stroke="#1a1a1a" stroke-width="2.6" />
<rect x="849.5" y="115.4" width="12" height="18" fill="#fff" stroke="#1a1a1a" stroke-width="2"/>
<rect x="911.5" y="115.4" width="12" height="18" fill="#fff" stroke="#1a1a1a" stroke-width="2"/>
<circle cx="886.5" cy="124.4" r="28" fill="#fff" stroke="#1a1a1a" stroke-width="2.6"/>
<path d="M860.7 89 L860.7 73 L912.7 73 L912.7 89 L907.7 89 L907.7 79 L865.7 79 L865.7 89 Z" fill="#fff" stroke="#1a1a1a" stroke-width="1.8"/>
<path d="M822.4 601.7 L840.9 601.7 L840.9 624.3 L831.6 614 L822.4 624.3 Z" fill="#fff799" stroke="#333" stroke-width="1.2"/>
<path d="M857.4 601.7 L875.9 601.7 L875.9 624.3 L866.6 614 L857.4 624.3 Z" fill="#fff799" stroke="#333" stroke-width="1.2"/>
<rect x="479" y="724" width="71" height="124.4" fill="#b9d0dc" stroke="#333" stroke-width="1.6"/>
<rect x="550" y="724" width="141.6" height="124.4" fill="#b9d0dc" stroke="#333" stroke-width="1.6"/>
<rect x="496.2" y="671.7" width="35.5" height="52.3" fill="#fff799" stroke="#222" stroke-width="1.5"/>
<text font-size="22" text-anchor="middle" fill="#1a1a1a" transform="translate(514 705.6) scale(0.88 1)">6</text>
<rect x="531.7" y="671.7" width="35.5" height="52.3" fill="#fff799" stroke="#222" stroke-width="1.5"/>
<text font-size="22" text-anchor="middle" fill="#1a1a1a" transform="translate(549.5 705.6) scale(0.88 1)">4</text>
<rect x="585" y="671.7" width="35.3" height="52.3" fill="#fff799" stroke="#222" stroke-width="1.5"/>
<text font-size="22" text-anchor="middle" fill="#1a1a1a" transform="translate(602.6 705.6) scale(0.88 1)">7</text>
<rect x="620.3" y="671.7" width="35.3" height="52.3" fill="#fff799" stroke="#222" stroke-width="1.5"/>
<text font-size="22" text-anchor="middle" fill="#1a1a1a" transform="translate(638 705.6) scale(0.88 1)">2</text>
<g transform="translate(673 694) rotate(270) scale(1.0)" fill="none" stroke="#1a1a1a" stroke-width="1.5"><path d="M-11 0 L11 0 M-9.7 -7 L-2.7 0 L-9.7 7 M-3.5 -7 L3.5 0 L-3.5 7"/></g>
<path d="M514 724 L514 765" fill="none" stroke="#1a1a1a" stroke-width="2.6" />
<path d="M534 765 L516 800" fill="none" stroke="#1a1a1a" stroke-width="2.6" />
<path d="M549.5 724 L549.5 848" fill="none" stroke="#1a1a1a" stroke-width="2.6" />
<path d="M602.7 724 L602.7 742 L568.4 742 L568.4 791 L585 791" fill="none" stroke="#1a1a1a" stroke-width="2.6" />
<path d="M638 724 L638 742 L673.8 742 L673.8 791 L655 791" fill="none" stroke="#1a1a1a" stroke-width="2.6" />
<rect x="580.4" y="782" width="12" height="18" fill="#fff" stroke="#1a1a1a" stroke-width="2"/>
<rect x="645.6" y="782" width="12" height="18" fill="#fff" stroke="#1a1a1a" stroke-width="2"/>
<circle cx="619" cy="791" r="29.6" fill="#fff" stroke="#1a1a1a" stroke-width="2.6"/>
<path d="M594.3 821.6 L594.3 837.6 L646.3 837.6 L646.3 821.6 L641.3 821.6 L641.3 831.6 L599.3 831.6 L599.3 821.6 Z" fill="#fff" stroke="#1a1a1a" stroke-width="1.8"/>
<rect x="761" y="706.7" width="142" height="141.7" fill="#b9d0dc" stroke="#333" stroke-width="1.6"/>
<rect x="903" y="714.7" width="35" height="18.3" fill="#fff799" stroke="#333" stroke-width="1.2"/>
<path d="M916.6 716.7 L924.4 723.9 L916.6 731" fill="none" stroke="#1a1a1a" stroke-width="1.6" />
<rect x="903" y="821.5" width="35" height="17.8" fill="#fff799" stroke="#333" stroke-width="1.2"/>
<path d="M916.8 823.5 L924.2 830.4 L916.8 837.3" fill="none" stroke="#1a1a1a" stroke-width="1.6" />
<path d="M903 724 L840.7 724 L840.7 740" fill="none" stroke="#1a1a1a" stroke-width="2.6" />
<path d="M840.7 810 L840.7 829.6 L903 829.6" fill="none" stroke="#1a1a1a" stroke-width="2.6" />
<rect x="831.7" y="736.4" width="18" height="12" fill="#fff" stroke="#1a1a1a" stroke-width="2"/>
<rect x="831.7" y="801.6" width="18" height="12" fill="#fff" stroke="#1a1a1a" stroke-width="2"/>
<circle cx="840.7" cy="775" r="29.6" fill="#fff" stroke="#1a1a1a" stroke-width="2.6"/>
<path d="M803.7 749.5 L787.7 749.5 L787.7 801.5 L803.7 801.5 L803.7 796.5 L793.7 796.5 L793.7 754.5 L803.7 754.5 Z" fill="#fff" stroke="#1a1a1a" stroke-width="1.8"/>
<rect x="708.3" y="953.4" width="159.3" height="106" fill="#b9d0dc" stroke="#333" stroke-width="1.6"/>
<rect x="755" y="950" width="71" height="7" fill="#fff"/>
<circle cx="768.6" cy="953.4" r="5" fill="#1a1a1a"/>
<path d="M768 953.4 L806 953.4" stroke="#1a1a1a" stroke-width="2.6"/><path d="M816 953.4 L802 947.4 L802 959.4 Z" fill="#1a1a1a"/>
<rect x="867.6" y="988.4" width="35" height="17.6" fill="#fff799" stroke="#333" stroke-width="1.2"/>
<path d="M881.4 990.4 L888.8 997.2 L881.4 1004" fill="none" stroke="#1a1a1a" stroke-width="1.6" />
<rect x="867.6" y="1006" width="35" height="18" fill="#fff799" stroke="#333" stroke-width="1.2"/>
<path d="M881.3 1008 L888.9 1015 L881.3 1022" fill="none" stroke="#1a1a1a" stroke-width="1.6" />
<path d="M867.6 997 L850 997 L850 981 L726 981 L726 1015 L760 1015" fill="none" stroke="#1a1a1a" stroke-width="2.6" />
<path d="M814.4 1015 L867.6 1015" fill="none" stroke="#1a1a1a" stroke-width="2.6" />
<rect x="760" y="1004.5" width="54.4" height="21.5" fill="#fff" stroke="#1a1a1a" stroke-width="2.4"/>
<path d="M737.4 1040.6 L753.5 1040.6 L811.1 993.8" fill="none" stroke="#1a1a1a" stroke-width="1.8" />
<text font-size="20" text-anchor="middle" fill="#1a1a1a" transform="translate(744 1037) scale(0.88 1)">t</text>
<text font-size="15" text-anchor="middle" fill="#1a1a1a" transform="translate(755 1029) scale(0.88 1)">o</text>
<path d="M902.6 1121.3 L880 1121.3 L890 1130.1 L880 1138.9 L902.6 1138.9 Z" fill="#fff799" stroke="#333" stroke-width="1.1"/>
<path d="M902.6 1138.9 L880 1138.9 L890 1147.7 L880 1156.5 L902.6 1156.5 Z" fill="#fff799" stroke="#333" stroke-width="1.1"/>
<path d="M902.6 1156.5 L880 1156.5 L890 1165.3 L880 1174.1 L902.6 1174.1 Z" fill="#fff799" stroke="#333" stroke-width="1.1"/>
<path d="M902.6 1174.1 L880 1174.1 L890 1182.9 L880 1191.7 L902.6 1191.7 Z" fill="#fff799" stroke="#333" stroke-width="1.1"/>
<path d="M902.6 1191.7 L880 1191.7 L890 1200.5 L880 1209.3 L902.6 1209.3 Z" fill="#fff799" stroke="#333" stroke-width="1.1"/>
<path d="M902.6 1209.3 L880 1209.3 L890 1218.1 L880 1226.9 L902.6 1226.9 Z" fill="#fff799" stroke="#333" stroke-width="1.1"/>
<path d="M902.6 1226.9 L880 1226.9 L890 1235.7 L880 1244.5 L902.6 1244.5 Z" fill="#fff799" stroke="#333" stroke-width="1.1"/>
<path d="M902.6 1244.5 L880 1244.5 L890 1253.3 L880 1262.1 L902.6 1262.1 Z" fill="#fff799" stroke="#333" stroke-width="1.1"/>
<path d="M902.6 1262.1 L880 1262.1 L890 1270.9 L880 1279.7 L902.6 1279.7 Z" fill="#fff799" stroke="#333" stroke-width="1.1"/>
<path d="M902.6 1279.7 L880 1279.7 L890 1288.5 L880 1297.3 L902.6 1297.3 Z" fill="#fff799" stroke="#333" stroke-width="1.1"/>
<path d="M902.6 1297.3 L880 1297.3 L890 1306.1 L880 1314.9 L902.6 1314.9 Z" fill="#fff799" stroke="#333" stroke-width="1.1"/>
<path d="M902.6 1314.9 L880 1314.9 L890 1323.7 L880 1332.5 L902.6 1332.5 Z" fill="#fff799" stroke="#333" stroke-width="1.1"/>
<path d="M902.6 1332.5 L880 1332.5 L890 1341.3 L880 1350.1 L902.6 1350.1 Z" fill="#fff799" stroke="#333" stroke-width="1.1"/>
<circle cx="973" cy="1341" r="8" fill="#1a1a1a"/>
<rect x="461.8" y="1429.7" width="299.8" height="123.8" fill="#b9d0dc" stroke="#333" stroke-width="1.6"/>
<rect x="479" y="1553.5" width="35.4" height="52.5" fill="#fff799" stroke="#222" stroke-width="1.5"/>
<text font-size="22" text-anchor="middle" fill="#1a1a1a" transform="translate(496.7 1587.5) scale(0.88 1)">1</text>
<rect x="514.4" y="1553.5" width="35.4" height="52.5" fill="#fff799" stroke="#222" stroke-width="1.5"/>
<text font-size="22" text-anchor="middle" fill="#1a1a1a" transform="translate(532.1 1587.5) scale(0.88 1)">3</text>
<rect x="549.8" y="1553.5" width="35.4" height="52.5" fill="#fff799" stroke="#222" stroke-width="1.5"/>
<text font-size="22" text-anchor="middle" fill="#1a1a1a" transform="translate(567.5 1587.5) scale(0.88 1)">6</text>
<rect x="585.2" y="1553.5" width="35.4" height="52.5" fill="#fff799" stroke="#222" stroke-width="1.5"/>
<text font-size="22" text-anchor="middle" fill="#1a1a1a" transform="translate(602.9 1587.5) scale(0.88 1)">4</text>
<rect x="656" y="1553.5" width="35.3" height="52.5" fill="#fff799" stroke="#222" stroke-width="1.5"/>
<text font-size="22" text-anchor="middle" fill="#1a1a1a" transform="translate(673.6 1587.5) scale(0.88 1)">7</text>
<rect x="691.3" y="1553.5" width="35.3" height="52.5" fill="#fff799" stroke="#222" stroke-width="1.5"/>
<text font-size="22" text-anchor="middle" fill="#1a1a1a" transform="translate(709 1587.5) scale(0.88 1)">2</text>
<g transform="translate(743 1583) rotate(270) scale(1.0)" fill="none" stroke="#1a1a1a" stroke-width="1.5"><path d="M-11 0 L11 0 M-9.7 -7 L-2.7 0 L-9.7 7 M-3.5 -7 L3.5 0 L-3.5 7"/></g>
<path d="M532.8 1478 L532.8 1465.8 L602.8 1465.8 L602.8 1553.5" fill="none" stroke="#1a1a1a" stroke-width="2.6" />
<path d="M532.8 1465.8 L515 1513" fill="none" stroke="#1a1a1a" stroke-width="2.6" />
<path d="M496.8 1553.5 L496.8 1510 L519 1510" fill="none" stroke="#1a1a1a" stroke-width="2.6" />
<path d="M532.8 1553.5 L532.8 1510" fill="none" stroke="#1a1a1a" stroke-width="2.6" />
<path d="M566.7 1465.8 L585 1513" fill="none" stroke="#1a1a1a" stroke-width="2.6" />
<path d="M566.7 1553.5 L566.7 1510" fill="none" stroke="#1a1a1a" stroke-width="2.6" />
<circle cx="566.7" cy="1465.8" r="5.5" fill="#1a1a1a"/>
<path d="M655 1494.3 L637.8 1494.3 L637.8 1534.7 L673.8 1534.7 L673.8 1553.5" fill="none" stroke="#1a1a1a" stroke-width="2.6" />
<path d="M726 1494.3 L744.3 1494.3 L744.3 1534.7 L708.8 1534.7 L708.8 1553.5" fill="none" stroke="#1a1a1a" stroke-width="2.6" />
<rect x="653.5" y="1485.3" width="12" height="18" fill="#fff" stroke="#1a1a1a" stroke-width="2"/>
<rect x="715.5" y="1485.3" width="12" height="18" fill="#fff" stroke="#1a1a1a" stroke-width="2"/>
<circle cx="690.5" cy="1494.3" r="28" fill="#fff" stroke="#1a1a1a" stroke-width="2.6"/>
<path d="M665.6 1456.5 L665.6 1440.5 L717.6 1440.5 L717.6 1456.5 L712.6 1456.5 L712.6 1446.5 L670.6 1446.5 L670.6 1456.5 Z" fill="#fff" stroke="#1a1a1a" stroke-width="1.8"/>
<rect x="832" y="1429.7" width="106" height="123.8" fill="#b9d0dc" stroke="#333" stroke-width="1.6"/>
<rect x="828" y="1462" width="7" height="62" fill="#fff"/>
<circle cx="832" cy="1470" r="5" fill="#1a1a1a"/>
<path d="M832 1470 L832 1508" stroke="#1a1a1a" stroke-width="2.6"/><path d="M832 1518 L826 1504 L838 1504 Z" fill="#1a1a1a"/>
<rect x="867.6" y="1553.5" width="17.8" height="35" fill="#fff799" stroke="#333" stroke-width="1.2"/>
<path d="M869.6 1574.7 L876.5 1567.3 L883.4 1574.7" fill="none" stroke="#1a1a1a" stroke-width="1.6" />
<rect x="885.4" y="1553.5" width="17.6" height="35" fill="#fff799" stroke="#333" stroke-width="1.2"/>
<path d="M887.4 1574.7 L894.2 1567.3 L901 1574.7" fill="none" stroke="#1a1a1a" stroke-width="1.6" />
<path d="M877.3 1553.5 L877.3 1518.5 L850.4 1518.5 L850.4 1465.8 L867.6 1465.8" fill="none" stroke="#1a1a1a" stroke-width="2.6" />
<path d="M871.9 1448.5 L904.2 1467" fill="none" stroke="#1a1a1a" stroke-width="2.6" />
<path d="M904.2 1465.8 L919.3 1465.8 L919.3 1518.5 L893.4 1518.5 L893.4 1553.5" fill="none" stroke="#1a1a1a" stroke-width="2.6" />
<path d="M981.7 1584 L991 1594 L1000.2 1584 L1000.2 1606.4 L981.7 1606.4 Z" fill="#fff799" stroke="#333" stroke-width="1.2"/>
<path d="M1017.3 1584 L1026.5 1594 L1035.8 1584 L1035.8 1606.4 L1017.3 1606.4 Z" fill="#fff799" stroke="#333" stroke-width="1.2"/>
<rect x="1290.6" y="71.6" width="370.4" height="1119.7" fill="#b9d0dc" stroke="#333" stroke-width="1.6"/>
<rect x="1255" y="90" width="35.6" height="26.5" fill="#fff799" stroke="#222" stroke-width="1.5"/>
<rect x="1255" y="116.5" width="35.6" height="26.5" fill="#fff799" stroke="#222" stroke-width="1.5"/>
<rect x="1255" y="143" width="35.6" height="26.5" fill="#fff799" stroke="#222" stroke-width="1.5"/>
<rect x="1255" y="169.5" width="35.6" height="26.5" fill="#fff799" stroke="#222" stroke-width="1.5"/>
<rect x="1255" y="196" width="35.6" height="26.5" fill="#fff799" stroke="#222" stroke-width="1.5"/>
<rect x="1255" y="222.5" width="35.6" height="26.5" fill="#fff799" stroke="#222" stroke-width="1.5"/>
<rect x="1255" y="249" width="35.6" height="26.5" fill="#fff799" stroke="#222" stroke-width="1.5"/>
<rect x="1255" y="275.5" width="35.6" height="26.5" fill="#fff799" stroke="#222" stroke-width="1.5"/>
<rect x="1255" y="302" width="35.6" height="26.5" fill="#fff799" stroke="#222" stroke-width="1.5"/>
<rect x="1255" y="328.5" width="35.6" height="26.5" fill="#fff799" stroke="#222" stroke-width="1.5"/>
<rect x="1255" y="355" width="35.6" height="26.5" fill="#fff799" stroke="#222" stroke-width="1.5"/>
<rect x="1255" y="381.5" width="35.6" height="26.5" fill="#fff799" stroke="#222" stroke-width="1.5"/>
<rect x="1255" y="408" width="35.6" height="26.5" fill="#fff799" stroke="#222" stroke-width="1.5"/>
<rect x="1255" y="434.5" width="35.6" height="26.5" fill="#fff799" stroke="#222" stroke-width="1.5"/>
<rect x="1255" y="461" width="35.6" height="26.5" fill="#fff799" stroke="#222" stroke-width="1.5"/>
<rect x="1255" y="487.5" width="35.6" height="26.5" fill="#fff799" stroke="#222" stroke-width="1.5"/>
<rect x="1255" y="514" width="35.6" height="26.5" fill="#fff799" stroke="#222" stroke-width="1.5"/>
<rect x="1255" y="540.5" width="35.6" height="26.5" fill="#fff799" stroke="#222" stroke-width="1.5"/>
<rect x="1255" y="567" width="35.6" height="26.5" fill="#fff799" stroke="#222" stroke-width="1.5"/>
<rect x="1255" y="593.5" width="35.6" height="26.5" fill="#fff799" stroke="#222" stroke-width="1.5"/>
<rect x="1255" y="620" width="35.6" height="26.5" fill="#fff799" stroke="#222" stroke-width="1.5"/>
<rect x="1255" y="646.5" width="35.6" height="26.5" fill="#fff799" stroke="#222" stroke-width="1.5"/>
<rect x="1255" y="673" width="35.6" height="26.5" fill="#fff799" stroke="#222" stroke-width="1.5"/>
<rect x="1255" y="699.5" width="35.6" height="26.5" fill="#fff799" stroke="#222" stroke-width="1.5"/>
<rect x="1255" y="726" width="35.6" height="26.5" fill="#fff799" stroke="#222" stroke-width="1.5"/>
<rect x="1255" y="752.5" width="35.6" height="26.5" fill="#fff799" stroke="#222" stroke-width="1.5"/>
<rect x="1255" y="779" width="35.6" height="26.5" fill="#fff799" stroke="#222" stroke-width="1.5"/>
<rect x="1661" y="90" width="35.5" height="26.5" fill="#fff799" stroke="#222" stroke-width="1.5"/>
<rect x="1661" y="116.5" width="35.5" height="26.5" fill="#fff799" stroke="#222" stroke-width="1.5"/>
<rect x="1661" y="143" width="35.5" height="26.5" fill="#fff799" stroke="#222" stroke-width="1.5"/>
<rect x="1661" y="169.5" width="35.5" height="26.5" fill="#fff799" stroke="#222" stroke-width="1.5"/>
<rect x="1661" y="196" width="35.5" height="26.5" fill="#fff799" stroke="#222" stroke-width="1.5"/>
<rect x="1661" y="222.5" width="35.5" height="26.5" fill="#fff799" stroke="#222" stroke-width="1.5"/>
<rect x="1661" y="249" width="35.5" height="26.5" fill="#fff799" stroke="#222" stroke-width="1.5"/>
<rect x="1661" y="275.5" width="35.5" height="26.5" fill="#fff799" stroke="#222" stroke-width="1.5"/>
<rect x="1661" y="302" width="35.5" height="26.5" fill="#fff799" stroke="#222" stroke-width="1.5"/>
<rect x="1661" y="328.5" width="35.5" height="26.5" fill="#fff799" stroke="#222" stroke-width="1.5"/>
<rect x="1661" y="380.5" width="35.5" height="26.3" fill="#fff799" stroke="#222" stroke-width="1.5"/>
<rect x="1661" y="406.8" width="35.5" height="26.3" fill="#fff799" stroke="#222" stroke-width="1.5"/>
<rect x="1661" y="460" width="35.5" height="26.4" fill="#fff799" stroke="#222" stroke-width="1.5"/>
<text font-size="21" text-anchor="middle" fill="#1a1a1a" transform="translate(1678.8 480.6) scale(0.88 1)">85</text>
<rect x="1661" y="486.4" width="35.5" height="26.4" fill="#fff799" stroke="#222" stroke-width="1.5"/>
<text font-size="21" text-anchor="middle" fill="#1a1a1a" transform="translate(1678.8 506.9) scale(0.88 1)">86</text>
<rect x="1661" y="512.8" width="35.5" height="26.4" fill="#fff799" stroke="#222" stroke-width="1.5"/>
<text font-size="21" text-anchor="middle" fill="#1a1a1a" transform="translate(1678.8 533.4) scale(0.88 1)">30</text>
<rect x="1661" y="539.2" width="35.5" height="26.4" fill="#fff799" stroke="#222" stroke-width="1.5"/>
<text font-size="21" text-anchor="middle" fill="#1a1a1a" transform="translate(1678.8 559.8) scale(0.88 1)">88</text>
<rect x="1661" y="565.6" width="35.5" height="26.4" fill="#fff799" stroke="#222" stroke-width="1.5"/>
<text font-size="21" text-anchor="middle" fill="#1a1a1a" transform="translate(1678.8 586.1) scale(0.88 1)">87</text>
<rect x="1661" y="619" width="35.5" height="26.4" fill="#fff799" stroke="#222" stroke-width="1.5"/>
<text font-size="21" text-anchor="middle" fill="#1a1a1a" transform="translate(1678.8 639.6) scale(0.88 1)">85</text>
<rect x="1661" y="645.4" width="35.5" height="26.4" fill="#fff799" stroke="#222" stroke-width="1.5"/>
<text font-size="21" text-anchor="middle" fill="#1a1a1a" transform="translate(1678.8 665.9) scale(0.88 1)">86</text>
<rect x="1661" y="671.8" width="35.5" height="26.4" fill="#fff799" stroke="#222" stroke-width="1.5"/>
<text font-size="21" text-anchor="middle" fill="#1a1a1a" transform="translate(1678.8 692.4) scale(0.88 1)">30</text>
<rect x="1661" y="698.2" width="35.5" height="26.4" fill="#fff799" stroke="#222" stroke-width="1.5"/>
<text font-size="21" text-anchor="middle" fill="#1a1a1a" transform="translate(1678.8 718.8) scale(0.88 1)">88</text>
<rect x="1661" y="724.6" width="35.5" height="26.4" fill="#fff799" stroke="#222" stroke-width="1.5"/>
<text font-size="21" text-anchor="middle" fill="#1a1a1a" transform="translate(1678.8 745.1) scale(0.88 1)">87</text>
<rect x="1661" y="776.6" width="35.5" height="26.7" fill="#fff799" stroke="#222" stroke-width="1.5"/>
<text font-size="21" text-anchor="middle" fill="#1a1a1a" transform="translate(1678.8 797.3) scale(0.88 1)">85</text>
<rect x="1661" y="803.3" width="35.5" height="26.7" fill="#fff799" stroke="#222" stroke-width="1.5"/>
<text font-size="21" text-anchor="middle" fill="#1a1a1a" transform="translate(1678.8 824) scale(0.88 1)">86</text>
<rect x="1661" y="830" width="35.5" height="26.7" fill="#fff799" stroke="#222" stroke-width="1.5"/>
<text font-size="21" text-anchor="middle" fill="#1a1a1a" transform="translate(1678.8 850.7) scale(0.88 1)">30</text>
<rect x="1661" y="856.7" width="35.5" height="26.7" fill="#fff799" stroke="#222" stroke-width="1.5"/>
<text font-size="21" text-anchor="middle" fill="#1a1a1a" transform="translate(1678.8 877.4) scale(0.88 1)">87</text>
<rect x="1661" y="910.3" width="35.5" height="26.4" fill="#fff799" stroke="#222" stroke-width="1.5"/>
<text font-size="21" text-anchor="middle" fill="#1a1a1a" transform="translate(1678.8 930.9) scale(0.88 1)">49a</text>
<rect x="1661" y="936.7" width="35.5" height="26.4" fill="#fff799" stroke="#222" stroke-width="1.5"/>
<text font-size="21" text-anchor="middle" fill="#1a1a1a" transform="translate(1678.8 957.2) scale(0.88 1)">49</text>
<rect x="1661" y="963.1" width="35.5" height="26.4" fill="#fff799" stroke="#222" stroke-width="1.5"/>
<text font-size="21" text-anchor="middle" fill="#1a1a1a" transform="translate(1678.8 983.6) scale(0.88 1)">31</text>
<rect x="1661" y="1016.4" width="35.5" height="26.3" fill="#fff799" stroke="#222" stroke-width="1.5"/>
<text font-size="21" text-anchor="middle" fill="#1a1a1a" transform="translate(1678.8 1036.9) scale(0.88 1)">31</text>
<rect x="1661" y="1042.7" width="35.5" height="26.3" fill="#fff799" stroke="#222" stroke-width="1.5"/>
<text font-size="21" text-anchor="middle" fill="#1a1a1a" transform="translate(1678.8 1063.2) scale(0.88 1)">15</text>
<rect x="1661" y="1068.9" width="35.5" height="26.3" fill="#fff799" stroke="#222" stroke-width="1.5"/>
<text font-size="21" text-anchor="middle" fill="#1a1a1a" transform="translate(1678.8 1089.4) scale(0.88 1)">31b</text>
<rect x="1661" y="1095.2" width="35.5" height="26.3" fill="#fff799" stroke="#222" stroke-width="1.5"/>
<text font-size="21" text-anchor="middle" fill="#1a1a1a" transform="translate(1678.8 1115.7) scale(0.88 1)">S</text>
<rect x="1661" y="1121.5" width="35.5" height="26.3" fill="#fff799" stroke="#222" stroke-width="1.5"/>
<text font-size="21" text-anchor="middle" fill="#1a1a1a" transform="translate(1678.8 1142) scale(0.88 1)">j</text>
<rect x="1661" y="1147.8" width="35.5" height="26.3" fill="#fff799" stroke="#222" stroke-width="1.5"/>
<text font-size="21" text-anchor="middle" fill="#1a1a1a" transform="translate(1678.8 1168.2) scale(0.88 1)">86</text>
<rect x="1255" y="821.5" width="35.6" height="26.5" fill="#fff799" stroke="#222" stroke-width="1.5"/>
<text font-size="21" text-anchor="middle" fill="#1a1a1a" transform="translate(1272.8 842.1) scale(0.88 1)">1</text>
<rect x="1255" y="848" width="35.6" height="26.5" fill="#fff799" stroke="#222" stroke-width="1.5"/>
<text font-size="21" text-anchor="middle" fill="#1a1a1a" transform="translate(1272.8 868.6) scale(0.88 1)">2</text>
<rect x="1255" y="874.5" width="35.6" height="26.5" fill="#fff799" stroke="#222" stroke-width="1.5"/>
<text font-size="21" text-anchor="middle" fill="#1a1a1a" transform="translate(1272.8 895.1) scale(0.88 1)">3</text>
<rect x="1255" y="901" width="35.6" height="26.5" fill="#fff799" stroke="#222" stroke-width="1.5"/>
<text font-size="21" text-anchor="middle" fill="#1a1a1a" transform="translate(1272.8 921.6) scale(0.88 1)">5</text>
<rect x="1255" y="945.3" width="35.6" height="26.4" fill="#fff799" stroke="#222" stroke-width="1.5"/>
<text font-size="21" text-anchor="middle" fill="#1a1a1a" transform="translate(1272.8 965.9) scale(0.88 1)">5</text>
<rect x="1255" y="971.7" width="35.6" height="26.4" fill="#fff799" stroke="#222" stroke-width="1.5"/>
<text font-size="21" text-anchor="middle" fill="#1a1a1a" transform="translate(1272.8 992.2) scale(0.88 1)">3</text>
<rect x="1255" y="998.1" width="35.6" height="26.4" fill="#fff799" stroke="#222" stroke-width="1.5"/>
<text font-size="21" text-anchor="middle" fill="#1a1a1a" transform="translate(1272.8 1018.6) scale(0.88 1)">2</text>
<rect x="1255" y="1024.5" width="35.6" height="26.4" fill="#fff799" stroke="#222" stroke-width="1.5"/>
<text font-size="21" text-anchor="middle" fill="#1a1a1a" transform="translate(1272.8 1045) scale(0.88 1)">1</text>
<rect x="1255" y="1069" width="35.6" height="26.2" fill="#fff799" stroke="#222" stroke-width="1.5"/>
<text font-size="21" text-anchor="middle" fill="#1a1a1a" transform="translate(1272.8 1089.5) scale(0.88 1)">1</text>
<rect x="1255" y="1095.2" width="35.6" height="26.2" fill="#fff799" stroke="#222" stroke-width="1.5"/>
<text font-size="21" text-anchor="middle" fill="#1a1a1a" transform="translate(1272.8 1115.7) scale(0.88 1)">2</text>
<rect x="1255" y="1121.5" width="35.6" height="26.2" fill="#fff799" stroke="#222" stroke-width="1.5"/>
<text font-size="21" text-anchor="middle" fill="#1a1a1a" transform="translate(1272.8 1142) scale(0.88 1)">3</text>
<rect x="1255" y="1147.8" width="35.6" height="26.2" fill="#fff799" stroke="#222" stroke-width="1.5"/>
<text font-size="21" text-anchor="middle" fill="#1a1a1a" transform="translate(1272.8 1168.2) scale(0.88 1)">5</text>
<g transform="translate(1270 1190) rotate(180) scale(1.0)" fill="none" stroke="#1a1a1a" stroke-width="1.5"><path d="M-11 0 L11 0 M-9.7 -7 L-2.7 0 L-9.7 7 M-3.5 -7 L3.5 0 L-3.5 7"/></g>
<g transform="translate(1681 1190) rotate(0) scale(1.0)" fill="none" stroke="#1a1a1a" stroke-width="1.5"><path d="M-11 0 L11 0 M-9.7 -7 L-2.7 0 L-9.7 7 M-3.5 -7 L3.5 0 L-3.5 7"/></g>
<path d="M1290.6 103.2 L1397 103.2 L1397 129.8 L1369 129.8" fill="none" stroke="#1a1a1a" stroke-width="2.4" />
<path d="M1290.6 129.8 L1315 129.8" fill="none" stroke="#1a1a1a" stroke-width="2.4" />
<rect x="1315" y="119.2" width="54" height="21" fill="#fff" stroke="#1a1a1a" stroke-width="2.4"/>
<text font-size="21" text-anchor="start" fill="#1a1a1a" transform="translate(1411 137.2) scale(0.88 1)">F1</text>
<path d="M1290.6 156.2 L1397 156.2 L1397 182.8 L1369 182.8" fill="none" stroke="#1a1a1a" stroke-width="2.4" />
<path d="M1290.6 182.8 L1315 182.8" fill="none" stroke="#1a1a1a" stroke-width="2.4" />
<rect x="1315" y="172.2" width="54" height="21" fill="#fff" stroke="#1a1a1a" stroke-width="2.4"/>
<text font-size="21" text-anchor="start" fill="#1a1a1a" transform="translate(1411 190.2) scale(0.88 1)">F2</text>
<path d="M1290.6 209.2 L1397 209.2 L1397 235.8 L1369 235.8" fill="none" stroke="#1a1a1a" stroke-width="2.4" />
<path d="M1290.6 235.8 L1315 235.8" fill="none" stroke="#1a1a1a" stroke-width="2.4" />
<rect x="1315" y="225.2" width="54" height="21" fill="#fff" stroke="#1a1a1a" stroke-width="2.4"/>
<text font-size="21" text-anchor="start" fill="#1a1a1a" transform="translate(1411 243.2) scale(0.88 1)">F3</text>
<path d="M1290.6 262.2 L1397 262.2 L1397 288.8 L1369 288.8" fill="none" stroke="#1a1a1a" stroke-width="2.4" />
<path d="M1290.6 288.8 L1315 288.8" fill="none" stroke="#1a1a1a" stroke-width="2.4" />
<rect x="1315" y="278.2" width="54" height="21" fill="#fff" stroke="#1a1a1a" stroke-width="2.4"/>
<text font-size="21" text-anchor="start" fill="#1a1a1a" transform="translate(1411 296.2) scale(0.88 1)">F4</text>
<path d="M1290.6 315.2 L1397 315.2 L1397 341.8 L1369 341.8" fill="none" stroke="#1a1a1a" stroke-width="2.4" />
<path d="M1290.6 341.8 L1315 341.8" fill="none" stroke="#1a1a1a" stroke-width="2.4" />
<rect x="1315" y="331.2" width="54" height="21" fill="#fff" stroke="#1a1a1a" stroke-width="2.4"/>
<text font-size="21" text-anchor="start" fill="#1a1a1a" transform="translate(1411 349.2) scale(0.88 1)">F5</text>
<path d="M1290.6 368.2 L1397 368.2 L1397 394.8 L1369 394.8" fill="none" stroke="#1a1a1a" stroke-width="2.4" />
<path d="M1290.6 394.8 L1315 394.8" fill="none" stroke="#1a1a1a" stroke-width="2.4" />
<rect x="1315" y="384.2" width="54" height="21" fill="#fff" stroke="#1a1a1a" stroke-width="2.4"/>
<text font-size="21" text-anchor="start" fill="#1a1a1a" transform="translate(1411 402.2) scale(0.88 1)">F6</text>
<path d="M1290.6 421.2 L1397 421.2 L1397 447.8 L1369 447.8" fill="none" stroke="#1a1a1a" stroke-width="2.4" />
<path d="M1290.6 447.8 L1315 447.8" fill="none" stroke="#1a1a1a" stroke-width="2.4" />
<rect x="1315" y="437.2" width="54" height="21" fill="#fff" stroke="#1a1a1a" stroke-width="2.4"/>
<text font-size="21" text-anchor="start" fill="#1a1a1a" transform="translate(1411 455.2) scale(0.88 1)">F7</text>
<path d="M1290.6 474.2 L1397 474.2 L1397 500.8 L1369 500.8" fill="none" stroke="#1a1a1a" stroke-width="2.4" />
<path d="M1290.6 500.8 L1315 500.8" fill="none" stroke="#1a1a1a" stroke-width="2.4" />
<rect x="1315" y="490.2" width="54" height="21" fill="#fff" stroke="#1a1a1a" stroke-width="2.4"/>
<text font-size="21" text-anchor="start" fill="#1a1a1a" transform="translate(1411 508.2) scale(0.88 1)">F8</text>
<path d="M1290.6 527.2 L1397 527.2 L1397 553.8 L1369 553.8" fill="none" stroke="#1a1a1a" stroke-width="2.4" />
<path d="M1290.6 553.8 L1315 553.8" fill="none" stroke="#1a1a1a" stroke-width="2.4" />
<rect x="1315" y="543.2" width="54" height="21" fill="#fff" stroke="#1a1a1a" stroke-width="2.4"/>
<text font-size="21" text-anchor="start" fill="#1a1a1a" transform="translate(1411 561.2) scale(0.88 1)">F9</text>
<path d="M1290.6 580.2 L1397 580.2 L1397 606.8 L1369 606.8" fill="none" stroke="#1a1a1a" stroke-width="2.4" />
<path d="M1290.6 606.8 L1315 606.8" fill="none" stroke="#1a1a1a" stroke-width="2.4" />
<rect x="1315" y="596.2" width="54" height="21" fill="#fff" stroke="#1a1a1a" stroke-width="2.4"/>
<text font-size="21" text-anchor="start" fill="#1a1a1a" transform="translate(1411 614.2) scale(0.88 1)">F10</text>
<path d="M1290.6 633.2 L1397 633.2 L1397 686.2 L1369 686.2" fill="none" stroke="#1a1a1a" stroke-width="2.4" />
<path d="M1290.6 686.2 L1315 686.2" fill="none" stroke="#1a1a1a" stroke-width="2.4" />
<rect x="1315" y="675.8" width="54" height="21" fill="#fff" stroke="#1a1a1a" stroke-width="2.4"/>
<text font-size="21" text-anchor="start" fill="#1a1a1a" transform="translate(1411 693.8) scale(0.88 1)">F11</text>
<path d="M1290.6 712.8 L1397 712.8 L1397 739.2 L1369 739.2" fill="none" stroke="#1a1a1a" stroke-width="2.4" />
<path d="M1290.6 739.2 L1315 739.2" fill="none" stroke="#1a1a1a" stroke-width="2.4" />
<rect x="1315" y="728.8" width="54" height="21" fill="#fff" stroke="#1a1a1a" stroke-width="2.4"/>
<text font-size="21" text-anchor="start" fill="#1a1a1a" transform="translate(1411 746.8) scale(0.88 1)">F12</text>
<path d="M1290.6 765.8 L1397 765.8 L1397 792.2 L1369 792.2" fill="none" stroke="#1a1a1a" stroke-width="2.4" />
<path d="M1290.6 792.2 L1315 792.2" fill="none" stroke="#1a1a1a" stroke-width="2.4" />
<rect x="1315" y="781.8" width="54" height="21" fill="#fff" stroke="#1a1a1a" stroke-width="2.4"/>
<text font-size="21" text-anchor="start" fill="#1a1a1a" transform="translate(1411 799.8) scale(0.88 1)">F13</text>
<path d="M1661 103.2 L1554.5 103.2 L1554.5 129.8 L1581 129.8" fill="none" stroke="#1a1a1a" stroke-width="2.4" />
<path d="M1661 129.8 L1635.5 129.8" fill="none" stroke="#1a1a1a" stroke-width="2.4" />
<rect x="1581" y="119.2" width="54.5" height="21" fill="#fff" stroke="#1a1a1a" stroke-width="2.4"/>
<text font-size="21" text-anchor="start" fill="#1a1a1a" transform="translate(1510 137.2) scale(0.88 1)">F14</text>
<path d="M1661 156.2 L1554.5 156.2 L1554.5 182.8 L1581 182.8" fill="none" stroke="#1a1a1a" stroke-width="2.4" />
<path d="M1661 182.8 L1635.5 182.8" fill="none" stroke="#1a1a1a" stroke-width="2.4" />
<rect x="1581" y="172.2" width="54.5" height="21" fill="#fff" stroke="#1a1a1a" stroke-width="2.4"/>
<text font-size="21" text-anchor="start" fill="#1a1a1a" transform="translate(1510 190.2) scale(0.88 1)">F15</text>
<path d="M1661 209.2 L1554.5 209.2 L1554.5 235.8 L1581 235.8" fill="none" stroke="#1a1a1a" stroke-width="2.4" />
<path d="M1661 235.8 L1635.5 235.8" fill="none" stroke="#1a1a1a" stroke-width="2.4" />
<rect x="1581" y="225.2" width="54.5" height="21" fill="#fff" stroke="#1a1a1a" stroke-width="2.4"/>
<text font-size="21" text-anchor="start" fill="#1a1a1a" transform="translate(1510 243.2) scale(0.88 1)">F20</text>
<path d="M1661 262.2 L1554.5 262.2 L1554.5 288.8 L1581 288.8" fill="none" stroke="#1a1a1a" stroke-width="2.4" />
<path d="M1661 288.8 L1635.5 288.8" fill="none" stroke="#1a1a1a" stroke-width="2.4" />
<rect x="1581" y="278.2" width="54.5" height="21" fill="#fff" stroke="#1a1a1a" stroke-width="2.4"/>
<text font-size="21" text-anchor="start" fill="#1a1a1a" transform="translate(1510 296.2) scale(0.88 1)">F21</text>
<path d="M1661 315.2 L1554.5 315.2 L1554.5 341.8 L1581 341.8" fill="none" stroke="#1a1a1a" stroke-width="2.4" />
<path d="M1661 341.8 L1635.5 341.8" fill="none" stroke="#1a1a1a" stroke-width="2.4" />
<rect x="1581" y="331.2" width="54.5" height="21" fill="#fff" stroke="#1a1a1a" stroke-width="2.4"/>
<text font-size="21" text-anchor="start" fill="#1a1a1a" transform="translate(1510 349.2) scale(0.88 1)">F22</text>
<path d="M1661 393.6 L1554.5 393.6 L1554.5 420 L1581 420" fill="none" stroke="#1a1a1a" stroke-width="2.4" />
<path d="M1661 420 L1635.5 420" fill="none" stroke="#1a1a1a" stroke-width="2.4" />
<rect x="1581" y="409.5" width="54.5" height="21" fill="#fff" stroke="#1a1a1a" stroke-width="2.4"/>
<text font-size="21" text-anchor="start" fill="#1a1a1a" transform="translate(1510 427) scale(0.88 1)">F31</text>
<text font-size="21" text-anchor="middle" fill="#1a1a1a" transform="translate(1321 882.5) scale(0.88 1)">K7</text>
<text font-size="21" text-anchor="middle" fill="#1a1a1a" transform="translate(1321 1006.5) scale(0.88 1)">K8</text>
<text font-size="21" text-anchor="middle" fill="#1a1a1a" transform="translate(1327 1130.5) scale(0.88 1)">K10</text>
<text font-size="21" text-anchor="middle" fill="#1a1a1a" transform="translate(1631 534.9) scale(0.88 1)">K2</text>
<text font-size="21" text-anchor="middle" fill="#1a1a1a" transform="translate(1631 692.5) scale(0.88 1)">K3</text>
<text font-size="21" text-anchor="middle" fill="#1a1a1a" transform="translate(1631 839.5) scale(0.88 1)">K4</text>
<text font-size="21" text-anchor="middle" fill="#1a1a1a" transform="translate(1631 957.1) scale(0.88 1)">K5</text>
<text font-size="21" text-anchor="middle" fill="#1a1a1a" transform="translate(1631 1102.5) scale(0.88 1)">K6</text>
<text font-size="29" font-weight="bold" text-anchor="middle" fill="#1a1a1a" transform="translate(421 80.4) scale(0.9 1)">9</text>
<text font-size="29" font-weight="bold" text-anchor="middle" fill="#1a1a1a" transform="translate(978 80.4) scale(0.9 1)">10</text>
<text font-size="29" font-weight="bold" text-anchor="middle" fill="#1a1a1a" transform="translate(850.4 656.4) scale(0.9 1)">11</text>
<text font-size="29" font-weight="bold" text-anchor="middle" fill="#1a1a1a" transform="translate(453 752.4) scale(0.9 1)">12</text>
<text font-size="29" font-weight="bold" text-anchor="middle" fill="#1a1a1a" transform="translate(733 752.4) scale(0.9 1)">13</text>
<text font-size="29" font-weight="bold" text-anchor="middle" fill="#1a1a1a" transform="translate(677 982.4) scale(0.9 1)">14</text>
<text font-size="29" font-weight="bold" text-anchor="middle" fill="#1a1a1a" transform="translate(849 1246.4) scale(0.9 1)">15</text>
<text font-size="29" font-weight="bold" text-anchor="middle" fill="#1a1a1a" transform="translate(435 1456.4) scale(0.9 1)">16</text>
<text font-size="29" font-weight="bold" text-anchor="middle" fill="#1a1a1a" transform="translate(802 1456.4) scale(0.9 1)">17</text>
<text font-size="29" font-weight="bold" text-anchor="middle" fill="#1a1a1a" transform="translate(1006 1572.4) scale(0.9 1)">18</text>
<text font-size="29" font-weight="bold" text-anchor="middle" fill="#1a1a1a" transform="translate(1265 80.4) scale(0.9 1)">23</text>
<rect x="1199" y="1394.7" width="550" height="52.8" fill="#b97a33" stroke="#3a2a1a" stroke-width="1.6"/>
<rect x="1210" y="1359.7" width="26.4" height="35" fill="#fff799" stroke="#222" stroke-width="1.5"/>
<text font-size="21" text-anchor="middle" fill="#1a1a1a" transform="translate(1223.2 1384.5) scale(0.88 1)">1</text>
<rect x="1236.4" y="1359.7" width="26.4" height="35" fill="#fff799" stroke="#222" stroke-width="1.5"/>
<text font-size="21" text-anchor="middle" fill="#1a1a1a" transform="translate(1249.6 1384.5) scale(0.88 1)">2</text>
<rect x="1262.9" y="1359.7" width="26.4" height="35" fill="#fff799" stroke="#222" stroke-width="1.5"/>
<text font-size="21" text-anchor="middle" fill="#1a1a1a" transform="translate(1276.1 1384.5) scale(0.88 1)">3</text>
<rect x="1289.3" y="1359.7" width="26.4" height="35" fill="#fff799" stroke="#222" stroke-width="1.5"/>
<text font-size="21" text-anchor="middle" fill="#1a1a1a" transform="translate(1302.5 1384.5) scale(0.88 1)">4</text>
<rect x="1315.7" y="1359.7" width="26.4" height="35" fill="#fff799" stroke="#222" stroke-width="1.5"/>
<text font-size="21" text-anchor="middle" fill="#1a1a1a" transform="translate(1328.9 1384.5) scale(0.88 1)">5</text>
<rect x="1342.2" y="1359.7" width="26.4" height="35" fill="#fff799" stroke="#222" stroke-width="1.5"/>
<text font-size="21" text-anchor="middle" fill="#1a1a1a" transform="translate(1355.4 1384.5) scale(0.88 1)">6</text>
<rect x="1368.6" y="1359.7" width="26.4" height="35" fill="#fff799" stroke="#222" stroke-width="1.5"/>
<text font-size="21" text-anchor="middle" fill="#1a1a1a" transform="translate(1381.8 1384.5) scale(0.88 1)">7</text>
<rect x="1395" y="1359.7" width="26.4" height="35" fill="#fff799" stroke="#222" stroke-width="1.5"/>
<text font-size="21" text-anchor="middle" fill="#1a1a1a" transform="translate(1408.2 1384.5) scale(0.88 1)">8</text>
<rect x="1421.4" y="1359.7" width="26.4" height="35" fill="#fff799" stroke="#222" stroke-width="1.5"/>
<text font-size="21" text-anchor="middle" fill="#1a1a1a" transform="translate(1434.7 1384.5) scale(0.88 1)">9</text>
<rect x="1447.9" y="1359.7" width="26.4" height="35" fill="#fff799" stroke="#222" stroke-width="1.5"/>
<text font-size="21" text-anchor="middle" fill="#1a1a1a" transform="translate(1461.1 1384.5) scale(0.88 1)">10</text>
<rect x="1474.3" y="1359.7" width="26.4" height="35" fill="#fff799" stroke="#222" stroke-width="1.5"/>
<text font-size="21" text-anchor="middle" fill="#1a1a1a" transform="translate(1487.5 1384.5) scale(0.88 1)">11</text>
<rect x="1500.7" y="1359.7" width="26.4" height="35" fill="#fff799" stroke="#222" stroke-width="1.5"/>
<text font-size="21" text-anchor="middle" fill="#1a1a1a" transform="translate(1513.9 1384.5) scale(0.88 1)">12</text>
<rect x="1527.2" y="1359.7" width="26.4" height="35" fill="#fff799" stroke="#222" stroke-width="1.5"/>
<text font-size="21" text-anchor="middle" fill="#1a1a1a" transform="translate(1540.4 1384.5) scale(0.88 1)">13</text>
<rect x="1553.6" y="1359.7" width="26.4" height="35" fill="#fff799" stroke="#222" stroke-width="1.5"/>
<text font-size="21" text-anchor="middle" fill="#1a1a1a" transform="translate(1566.8 1384.5) scale(0.88 1)">14</text>
<rect x="1580" y="1359.7" width="26.4" height="35" fill="#fff799" stroke="#222" stroke-width="1.5"/>
<text font-size="21" text-anchor="middle" fill="#1a1a1a" transform="translate(1593.2 1384.5) scale(0.88 1)">15</text>
<rect x="1606.5" y="1359.7" width="26.4" height="35" fill="#fff799" stroke="#222" stroke-width="1.5"/>
<text font-size="21" text-anchor="middle" fill="#1a1a1a" transform="translate(1619.7 1384.5) scale(0.88 1)">16</text>
<rect x="1632.9" y="1359.7" width="26.4" height="35" fill="#fff799" stroke="#222" stroke-width="1.5"/>
<text font-size="21" text-anchor="middle" fill="#1a1a1a" transform="translate(1646.1 1384.5) scale(0.88 1)">17</text>
<rect x="1659.3" y="1359.7" width="26.4" height="35" fill="#fff799" stroke="#222" stroke-width="1.5"/>
<text font-size="21" text-anchor="middle" fill="#1a1a1a" transform="translate(1672.5 1384.5) scale(0.88 1)">18</text>
<rect x="1685.7" y="1359.7" width="26.4" height="35" fill="#fff799" stroke="#222" stroke-width="1.5"/>
<text font-size="21" text-anchor="middle" fill="#1a1a1a" transform="translate(1699 1384.5) scale(0.88 1)">19</text>
<rect x="1712.2" y="1359.7" width="26.4" height="35" fill="#fff799" stroke="#222" stroke-width="1.5"/>
<text font-size="21" text-anchor="middle" fill="#1a1a1a" transform="translate(1725.4 1384.5) scale(0.88 1)">20</text>
<g transform="translate(1193 1377) rotate(270) scale(1.0)" fill="none" stroke="#1a1a1a" stroke-width="1.5"><path d="M-11 0 L11 0 M-9.7 -7 L-2.7 0 L-9.7 7 M-3.5 -7 L3.5 0 L-3.5 7"/></g>
<circle cx="1698.6" cy="1323.7" r="8.5" fill="#1a1a1a"/>
<rect x="1139" y="1500.7" width="664.5" height="53" fill="#b97a33" stroke="#3a2a1a" stroke-width="1.6"/>
<rect x="1149.3" y="1553.7" width="26.5" height="35.3" fill="#fff799" stroke="#222" stroke-width="1.5"/>
<text font-size="21" text-anchor="middle" fill="#1a1a1a" transform="translate(1162.5 1578.7) scale(0.88 1)">25</text>
<rect x="1175.8" y="1553.7" width="26.5" height="35.3" fill="#fff799" stroke="#222" stroke-width="1.5"/>
<text font-size="21" text-anchor="middle" fill="#1a1a1a" transform="translate(1189 1578.7) scale(0.88 1)">24</text>
<rect x="1202.3" y="1553.7" width="26.5" height="35.3" fill="#fff799" stroke="#222" stroke-width="1.5"/>
<text font-size="21" text-anchor="middle" fill="#1a1a1a" transform="translate(1215.5 1578.7) scale(0.88 1)">23</text>
<rect x="1228.7" y="1553.7" width="26.5" height="35.3" fill="#fff799" stroke="#222" stroke-width="1.5"/>
<text font-size="21" text-anchor="middle" fill="#1a1a1a" transform="translate(1242 1578.7) scale(0.88 1)">22</text>
<rect x="1255.2" y="1553.7" width="26.5" height="35.3" fill="#fff799" stroke="#222" stroke-width="1.5"/>
<text font-size="21" text-anchor="middle" fill="#1a1a1a" transform="translate(1268.5 1578.7) scale(0.88 1)">21</text>
<rect x="1281.7" y="1553.7" width="26.5" height="35.3" fill="#fff799" stroke="#222" stroke-width="1.5"/>
<text font-size="21" text-anchor="middle" fill="#1a1a1a" transform="translate(1294.9 1578.7) scale(0.88 1)">20</text>
<rect x="1308.2" y="1553.7" width="26.5" height="35.3" fill="#fff799" stroke="#222" stroke-width="1.5"/>
<text font-size="21" text-anchor="middle" fill="#1a1a1a" transform="translate(1321.4 1578.7) scale(0.88 1)">19</text>
<rect x="1334.7" y="1553.7" width="26.5" height="35.3" fill="#fff799" stroke="#222" stroke-width="1.5"/>
<text font-size="21" text-anchor="middle" fill="#1a1a1a" transform="translate(1347.9 1578.7) scale(0.88 1)">18</text>
<rect x="1361.1" y="1553.7" width="26.5" height="35.3" fill="#fff799" stroke="#222" stroke-width="1.5"/>
<text font-size="21" text-anchor="middle" fill="#1a1a1a" transform="translate(1374.4 1578.7) scale(0.88 1)">17</text>
<rect x="1387.6" y="1553.7" width="26.5" height="35.3" fill="#fff799" stroke="#222" stroke-width="1.5"/>
<text font-size="21" text-anchor="middle" fill="#1a1a1a" transform="translate(1400.9 1578.7) scale(0.88 1)">16</text>
<rect x="1414.1" y="1553.7" width="26.5" height="35.3" fill="#fff799" stroke="#222" stroke-width="1.5"/>
<text font-size="21" text-anchor="middle" fill="#1a1a1a" transform="translate(1427.3 1578.7) scale(0.88 1)">15</text>
<rect x="1440.6" y="1553.7" width="26.5" height="35.3" fill="#fff799" stroke="#222" stroke-width="1.5"/>
<text font-size="21" text-anchor="middle" fill="#1a1a1a" transform="translate(1453.8 1578.7) scale(0.88 1)">14</text>
<rect x="1467.1" y="1553.7" width="26.5" height="35.3" fill="#fff799" stroke="#222" stroke-width="1.5"/>
<text font-size="21" text-anchor="middle" fill="#1a1a1a" transform="translate(1480.3 1578.7) scale(0.88 1)">13</text>
<rect x="1493.5" y="1553.7" width="26.5" height="35.3" fill="#fff799" stroke="#222" stroke-width="1.5"/>
<text font-size="21" text-anchor="middle" fill="#1a1a1a" transform="translate(1506.8 1578.7) scale(0.88 1)">12</text>
<rect x="1520" y="1553.7" width="26.5" height="35.3" fill="#fff799" stroke="#222" stroke-width="1.5"/>
<text font-size="21" text-anchor="middle" fill="#1a1a1a" transform="translate(1533.3 1578.7) scale(0.88 1)">11</text>
<rect x="1546.5" y="1553.7" width="26.5" height="35.3" fill="#fff799" stroke="#222" stroke-width="1.5"/>
<text font-size="21" text-anchor="middle" fill="#1a1a1a" transform="translate(1559.7 1578.7) scale(0.88 1)">10</text>
<rect x="1573" y="1553.7" width="26.5" height="35.3" fill="#fff799" stroke="#222" stroke-width="1.5"/>
<text font-size="21" text-anchor="middle" fill="#1a1a1a" transform="translate(1586.2 1578.7) scale(0.88 1)">9</text>
<rect x="1599.5" y="1553.7" width="26.5" height="35.3" fill="#fff799" stroke="#222" stroke-width="1.5"/>
<text font-size="21" text-anchor="middle" fill="#1a1a1a" transform="translate(1612.7 1578.7) scale(0.88 1)">8</text>
<rect x="1625.9" y="1553.7" width="26.5" height="35.3" fill="#fff799" stroke="#222" stroke-width="1.5"/>
<text font-size="21" text-anchor="middle" fill="#1a1a1a" transform="translate(1639.2 1578.7) scale(0.88 1)">7</text>
<rect x="1652.4" y="1553.7" width="26.5" height="35.3" fill="#fff799" stroke="#222" stroke-width="1.5"/>
<text font-size="21" text-anchor="middle" fill="#1a1a1a" transform="translate(1665.7 1578.7) scale(0.88 1)">6</text>
<rect x="1678.9" y="1553.7" width="26.5" height="35.3" fill="#fff799" stroke="#222" stroke-width="1.5"/>
<text font-size="21" text-anchor="middle" fill="#1a1a1a" transform="translate(1692.1 1578.7) scale(0.88 1)">5</text>
<rect x="1705.4" y="1553.7" width="26.5" height="35.3" fill="#fff799" stroke="#222" stroke-width="1.5"/>
<text font-size="21" text-anchor="middle" fill="#1a1a1a" transform="translate(1718.6 1578.7) scale(0.88 1)">4</text>
<rect x="1731.9" y="1553.7" width="26.5" height="35.3" fill="#fff799" stroke="#222" stroke-width="1.5"/>
<text font-size="21" text-anchor="middle" fill="#1a1a1a" transform="translate(1745.1 1578.7) scale(0.88 1)">3</text>
<rect x="1758.3" y="1553.7" width="26.5" height="35.3" fill="#fff799" stroke="#222" stroke-width="1.5"/>
<text font-size="21" text-anchor="middle" fill="#1a1a1a" transform="translate(1771.6 1578.7) scale(0.88 1)">2</text>
<rect x="1784.8" y="1553.7" width="19" height="35.3" fill="#fff799" stroke="#222" stroke-width="1.5"/>
<text font-size="21" text-anchor="middle" fill="#1a1a1a" transform="translate(1794.3 1578.7) scale(0.88 1)">1</text>
<g transform="translate(1131 1573) rotate(90) scale(1.0)" fill="none" stroke="#1a1a1a" stroke-width="1.5"><path d="M-11 0 L11 0 M-9.7 -7 L-2.7 0 L-9.7 7 M-3.5 -7 L3.5 0 L-3.5 7"/></g>
<circle cx="1162.5" cy="1623.7" r="8.5" fill="#1a1a1a"/>
<rect x="1702" y="1779" width="30" height="581" fill="#b4c9d4" stroke="#4a4a4a" stroke-width="1.6"/>
<path d="M1623 1745.5 C1690 1745.5 1718 1780 1717 1830 C1716 1930 1702 1990 1704 2055 C1706 2130 1718 2200 1717 2290 C1716 2350 1685 2383.5 1623 2383.5 C1555 2383.5 1485.5 2250 1485.5 2055 C1485.5 1880 1555 1745.5 1623 1745.5 Z" fill="url(#gClus)" stroke="#0e1a20" stroke-width="3.4"/>
<path d="M1630 1752 C1690 1752 1712 1785 1711 1830 C1710 1930 1696 1990 1698 2055 C1700 2130 1712 2200 1711 2290 C1710 2345 1680 2377 1630 2377" fill="none" stroke="#a9cfdd" stroke-width="2.5" opacity="0.8"/>
<path d="M1581 1849.4 A48 48 0 0 1 1637.3 1802.1" fill="none" stroke="#9fa9ae" stroke-width="13.5"/>
<path d="M1581 1849.4 A48 48 0 0 1 1637.3 1802.1" fill="none" stroke="#fff" stroke-width="11.5" stroke-dasharray="2.4 4"/>
<path d="M1548.9 1926 A49.5 49.5 0 0 1 1605.3 1877" fill="none" stroke="#9fa9ae" stroke-width="13.5"/>
<path d="M1548.9 1926 A49.5 49.5 0 0 1 1605.3 1877" fill="none" stroke="#fff" stroke-width="11.5" stroke-dasharray="2.7 4.4"/>
<path d="M1617.6 2165.1 A101.5 101.5 0 1 1 1617.6 1963.7" fill="none" stroke="#9fa9ae" stroke-width="13.5"/>
<path d="M1617.6 2165.1 A101.5 101.5 0 1 1 1617.6 1963.7" fill="none" stroke="#fff" stroke-width="11.5" stroke-dasharray="4.7 7.6"/>
<path d="M1638.7 2329.9 A80 80 0 0 1 1564.3 2203.5" fill="none" stroke="#9fa9ae" stroke-width="13.5"/>
<path d="M1638.7 2329.9 A80 80 0 0 1 1564.3 2203.5" fill="none" stroke="#fff" stroke-width="11.5" stroke-dasharray="3.5 5.8"/>
<path d="M1617.4 1802.8 A48 48 0 0 1 1630.7 1801.4" fill="none" stroke="#ed1c24" stroke-width="10" stroke-dasharray="2.5 2.5"/>
<path d="M1548.9 1924.3 A49.5 49.5 0 0 1 1552.5 1907.5" fill="none" stroke="#ed1c24" stroke-width="10" stroke-dasharray="2.5 2.5"/>
<path d="M1549.8 2239.4 A80 80 0 0 1 1562.7 2205.8" fill="none" stroke="#ed1c24" stroke-width="10" stroke-dasharray="2.5 4"/>
<rect x="1644.2" y="2029" width="45" height="71.5" fill="url(#gWin)" stroke="#8aa" stroke-width="0.8"/>
<path d="M1629 1797.6 L1629 1865.2" stroke="#fbb040" stroke-width="4"/>
<path d="M1598.4 1876.5 L1598.4 1944" stroke="#fbb040" stroke-width="4"/>
<path d="M1605.2 2043.2 L1605.2 2162.6" stroke="#fbb040" stroke-width="4"/>
<path d="M1629 2230.2 L1629 2325" stroke="#fbb040" stroke-width="4"/>
<circle cx="1629" cy="1849.4" r="12.6" fill="url(#gKnob)" stroke="#e9eef0" stroke-width="2.5"/>
<circle cx="1598.4" cy="1926" r="12.6" fill="url(#gKnob)" stroke="#e9eef0" stroke-width="2.5"/>
<circle cx="1605.2" cy="2064.4" r="17" fill="url(#gKnob)" stroke="#e9eef0" stroke-width="2.5"/>
<circle cx="1629" cy="2250.5" r="17" fill="url(#gKnob)" stroke="#e9eef0" stroke-width="2.5"/>
<text font-size="11" font-weight="bold" text-anchor="middle" fill="#fff" transform="translate(1634 1784) rotate(-90) scale(0.9 1)">0</text>
<text font-size="11" font-weight="bold" text-anchor="middle" fill="#fff" transform="translate(1589 1797) rotate(-90) scale(0.9 1)">0,5</text>
<text font-size="11" font-weight="bold" text-anchor="middle" fill="#fff" transform="translate(1567 1849) rotate(-90) scale(0.9 1)">1</text>
<text font-size="11" font-weight="bold" text-anchor="middle" fill="#fff" transform="translate(1556 1876) rotate(-90) scale(0.9 1)">90</text>
<text font-size="11" font-weight="bold" text-anchor="middle" fill="#fff" transform="translate(1537 1925) rotate(-90) scale(0.9 1)">130</text>
<text font-size="13" font-weight="bold" text-anchor="middle" fill="#fff" transform="translate(1585 2143) rotate(-90) scale(0.9 1)">20</text>
<text font-size="13" font-weight="bold" text-anchor="middle" fill="#fff" transform="translate(1562 2131) rotate(-90) scale(0.9 1)">40</text>
<text font-size="13" font-weight="bold" text-anchor="middle" fill="#fff" transform="translate(1547 2115) rotate(-90) scale(0.9 1)">60</text>
<text font-size="13" font-weight="bold" text-anchor="middle" fill="#fff" transform="translate(1533 2094) rotate(-90) scale(0.9 1)">80</text>
<text font-size="13" font-weight="bold" text-anchor="middle" fill="#fff" transform="translate(1527 2068) rotate(-90) scale(0.9 1)">100</text>
<text font-size="13" font-weight="bold" text-anchor="middle" fill="#fff" transform="translate(1533 2037) rotate(-90) scale(0.9 1)">120</text>
<text font-size="13" font-weight="bold" text-anchor="middle" fill="#fff" transform="translate(1547 2013) rotate(-90) scale(0.9 1)">140</text>
<text font-size="13" font-weight="bold" text-anchor="middle" fill="#fff" transform="translate(1565 1997) rotate(-90) scale(0.9 1)">160</text>
<text font-size="13" font-weight="bold" text-anchor="middle" fill="#fff" transform="translate(1587 1987) rotate(-90) scale(0.9 1)">180</text>
<text font-size="13" font-weight="bold" text-anchor="middle" fill="#fff" transform="translate(1612 1984) rotate(-90) scale(0.9 1)">200</text>
<text font-size="10" font-weight="bold" text-anchor="middle" fill="#fff" transform="translate(1559 2065) rotate(-90) scale(0.9 1)">km/h</text>
<text font-size="12" font-weight="bold" text-anchor="middle" fill="#fff" transform="translate(1615 2314) rotate(-90) scale(0.9 1)">1</text>
<text font-size="12" font-weight="bold" text-anchor="middle" fill="#fff" transform="translate(1599 2304) rotate(-90) scale(0.9 1)">2</text>
<text font-size="12" font-weight="bold" text-anchor="middle" fill="#fff" transform="translate(1585 2292) rotate(-90) scale(0.9 1)">3</text>
<text font-size="12" font-weight="bold" text-anchor="middle" fill="#fff" transform="translate(1577 2277) rotate(-90) scale(0.9 1)">4</text>
<text font-size="12" font-weight="bold" text-anchor="middle" fill="#fff" transform="translate(1572 2260) rotate(-90) scale(0.9 1)">5</text>
<text font-size="12" font-weight="bold" text-anchor="middle" fill="#fff" transform="translate(1573 2241) rotate(-90) scale(0.9 1)">6</text>
<text font-size="12" font-weight="bold" text-anchor="middle" fill="#fff" transform="translate(1577 2224) rotate(-90) scale(0.9 1)">7</text>
<text font-size="8" font-weight="bold" text-anchor="middle" fill="#fff" transform="translate(1601 2248) rotate(-90) scale(0.9 1)">x 1000min</text>
<rect x="1732" y="1788.3" width="35" height="17.6" fill="#fff799" stroke="#333" stroke-width="1.1"/>
<path d="M1746 1788.3 L1753.5 1797.1 L1746 1805.9" fill="none" stroke="#1a1a1a" stroke-width="1.5" />
<rect x="1732" y="1805.9" width="35" height="17.6" fill="#fff799" stroke="#333" stroke-width="1.1"/>
<path d="M1746 1805.9 L1753.5 1814.7 L1746 1823.5" fill="none" stroke="#1a1a1a" stroke-width="1.5" />
<rect x="1732" y="1823.5" width="35" height="17.6" fill="#fff799" stroke="#333" stroke-width="1.1"/>
<path d="M1746 1823.5 L1753.5 1832.3 L1746 1841" fill="none" stroke="#1a1a1a" stroke-width="1.5" />
<rect x="1732" y="1841" width="35" height="17.6" fill="#fff799" stroke="#333" stroke-width="1.1"/>
<path d="M1746 1841 L1753.5 1849.8 L1746 1858.6" fill="none" stroke="#1a1a1a" stroke-width="1.5" />
<rect x="1732" y="1858.6" width="35" height="17.6" fill="#fff799" stroke="#333" stroke-width="1.1"/>
<path d="M1746 1858.6 L1753.5 1867.4 L1746 1876.2" fill="none" stroke="#1a1a1a" stroke-width="1.5" />
<rect x="1732" y="1876.2" width="35" height="17.6" fill="#fff799" stroke="#333" stroke-width="1.1"/>
<path d="M1746 1876.2 L1753.5 1885 L1746 1893.8" fill="none" stroke="#1a1a1a" stroke-width="1.5" />
<rect x="1732" y="1893.8" width="35" height="17.6" fill="#fff799" stroke="#333" stroke-width="1.1"/>
<path d="M1746 1893.8 L1753.5 1902.6 L1746 1911.4" fill="none" stroke="#1a1a1a" stroke-width="1.5" />
<rect x="1732" y="1911.4" width="35" height="17.6" fill="#fff799" stroke="#333" stroke-width="1.1"/>
<path d="M1746 1911.4 L1753.5 1920.2 L1746 1928.9" fill="none" stroke="#1a1a1a" stroke-width="1.5" />
<rect x="1732" y="1928.9" width="35" height="17.6" fill="#fff799" stroke="#333" stroke-width="1.1"/>
<path d="M1746 1928.9 L1753.5 1937.7 L1746 1946.5" fill="none" stroke="#1a1a1a" stroke-width="1.5" />
<rect x="1732" y="1946.5" width="35" height="17.6" fill="#fff799" stroke="#333" stroke-width="1.1"/>
<path d="M1746 1946.5 L1753.5 1955.3 L1746 1964.1" fill="none" stroke="#1a1a1a" stroke-width="1.5" />
<path d="M1732 1964.1 L1746 1964.1 L1753.5 1972.9 L1746 1981.7 L1732 1981.7 Z" fill="#fff799" stroke="#333" stroke-width="1.1"/>
<path d="M1746 1964.1 L1753.5 1972.9 L1746 1981.7" fill="none" stroke="#1a1a1a" stroke-width="1.5" />
<path d="M1732 1981.7 L1746 1981.7 L1753.5 1990.5 L1746 1999.3 L1732 1999.3 Z" fill="#fff799" stroke="#333" stroke-width="1.1"/>
<path d="M1746 1981.7 L1753.5 1990.5 L1746 1999.3" fill="none" stroke="#1a1a1a" stroke-width="1.5" />
<rect x="1732" y="1999.3" width="35" height="17.6" fill="#fff799" stroke="#333" stroke-width="1.1"/>
<path d="M1746 1999.3 L1753.5 2008.1 L1746 2016.8" fill="none" stroke="#1a1a1a" stroke-width="1.5" />
<rect x="1732" y="2016.8" width="35" height="17.6" fill="#fff799" stroke="#333" stroke-width="1.1"/>
<path d="M1746 2016.8 L1753.5 2025.6 L1746 2034.4" fill="none" stroke="#1a1a1a" stroke-width="1.5" />
<rect x="1732" y="2034.4" width="35" height="17.6" fill="#fff799" stroke="#333" stroke-width="1.1"/>
<path d="M1746 2034.4 L1753.5 2043.2 L1746 2052" fill="none" stroke="#1a1a1a" stroke-width="1.5" />
<rect x="1732" y="2052" width="35" height="17.6" fill="#fff799" stroke="#333" stroke-width="1.1"/>
<path d="M1746 2052 L1753.5 2060.8 L1746 2069.6" fill="none" stroke="#1a1a1a" stroke-width="1.5" />
<rect x="1732" y="2069.6" width="35" height="17.6" fill="#fff799" stroke="#333" stroke-width="1.1"/>
<path d="M1746 2069.6 L1753.5 2078.4 L1746 2087.2" fill="none" stroke="#1a1a1a" stroke-width="1.5" />
<rect x="1732" y="2087.2" width="35" height="17.6" fill="#fff799" stroke="#333" stroke-width="1.1"/>
<path d="M1746 2087.2 L1753.5 2096 L1746 2104.7" fill="none" stroke="#1a1a1a" stroke-width="1.5" />
<rect x="1732" y="2104.7" width="35" height="17.6" fill="#fff799" stroke="#333" stroke-width="1.1"/>
<path d="M1746 2104.7 L1753.5 2113.5 L1746 2122.3" fill="none" stroke="#1a1a1a" stroke-width="1.5" />
<rect x="1732" y="2122.3" width="35" height="17.6" fill="#fff799" stroke="#333" stroke-width="1.1"/>
<path d="M1746 2122.3 L1753.5 2131.1 L1746 2139.9" fill="none" stroke="#1a1a1a" stroke-width="1.5" />
<rect x="1732" y="2139.9" width="35" height="17.6" fill="#fff799" stroke="#333" stroke-width="1.1"/>
<path d="M1746 2139.9 L1753.5 2148.7 L1746 2157.5" fill="none" stroke="#1a1a1a" stroke-width="1.5" />
<rect x="1732" y="2157.5" width="35" height="17.6" fill="#fff799" stroke="#333" stroke-width="1.1"/>
<path d="M1746 2157.5 L1753.5 2166.3 L1746 2175.1" fill="none" stroke="#1a1a1a" stroke-width="1.5" />
<rect x="1732" y="2175.1" width="35" height="17.6" fill="#fff799" stroke="#333" stroke-width="1.1"/>
<path d="M1746 2175.1 L1753.5 2183.9 L1746 2192.6" fill="none" stroke="#1a1a1a" stroke-width="1.5" />
<rect x="1732" y="2192.6" width="35" height="17.6" fill="#fff799" stroke="#333" stroke-width="1.1"/>
<path d="M1746 2192.6 L1753.5 2201.4 L1746 2210.2" fill="none" stroke="#1a1a1a" stroke-width="1.5" />
<rect x="1732" y="2210.2" width="35" height="17.6" fill="#fff799" stroke="#333" stroke-width="1.1"/>
<path d="M1746 2210.2 L1753.5 2219 L1746 2227.8" fill="none" stroke="#1a1a1a" stroke-width="1.5" />
<rect x="1732" y="2227.8" width="35" height="17.6" fill="#fff799" stroke="#333" stroke-width="1.1"/>
<path d="M1746 2227.8 L1753.5 2236.6 L1746 2245.4" fill="none" stroke="#1a1a1a" stroke-width="1.5" />
<rect x="1732" y="2245.4" width="35" height="17.6" fill="#fff799" stroke="#333" stroke-width="1.1"/>
<path d="M1746 2245.4 L1753.5 2254.2 L1746 2263" fill="none" stroke="#1a1a1a" stroke-width="1.5" />
<rect x="1732" y="2263" width="35" height="17.6" fill="#fff799" stroke="#333" stroke-width="1.1"/>
<path d="M1746 2263 L1753.5 2271.8 L1746 2280.5" fill="none" stroke="#1a1a1a" stroke-width="1.5" />
<rect x="1732" y="2280.5" width="35" height="17.6" fill="#fff799" stroke="#333" stroke-width="1.1"/>
<path d="M1746 2280.5 L1753.5 2289.3 L1746 2298.1" fill="none" stroke="#1a1a1a" stroke-width="1.5" />
<rect x="1732" y="2298.1" width="35" height="17.6" fill="#fff799" stroke="#333" stroke-width="1.1"/>
<path d="M1746 2298.1 L1753.5 2306.9 L1746 2315.7" fill="none" stroke="#1a1a1a" stroke-width="1.5" />
<path d="M1732 2315.7 L1746 2315.7 L1753.5 2324.5 L1746 2333.3 L1732 2333.3 Z" fill="#fff799" stroke="#333" stroke-width="1.1"/>
<path d="M1746 2315.7 L1753.5 2324.5 L1746 2333.3" fill="none" stroke="#1a1a1a" stroke-width="1.5" />
<rect x="1732" y="2333.3" width="35" height="17.6" fill="#fff799" stroke="#333" stroke-width="1.1"/>
<path d="M1746 2333.3 L1753.5 2342.1 L1746 2350.9" fill="none" stroke="#1a1a1a" stroke-width="1.5" />
<text font-size="19" text-anchor="middle" fill="#1a1a1a" transform="translate(1746.5 1778) scale(0.88 1)">1</text>
<text font-size="19" text-anchor="middle" fill="#1a1a1a" transform="translate(1752 2381) scale(0.88 1)">32</text>
<text font-size="29" font-weight="bold" text-anchor="middle" fill="#1a1a1a" transform="translate(1169.5 1420.4) scale(0.9 1)">24</text>
<text font-size="29" font-weight="bold" text-anchor="middle" fill="#1a1a1a" transform="translate(1113 1525.4) scale(0.9 1)">25</text>
<text font-size="29" font-weight="bold" text-anchor="middle" fill="#1a1a1a" transform="translate(1531.8 1779.9) scale(0.9 1)">26</text>
<path d="M2252 89.4 L2252 72.4 L2280 55.4 L2330 55.4 L2359 72.4 L2359 89.4 Z" fill="url(#gOr)" stroke="#c77a1a" stroke-width="1.2"/>
<rect x="2252" y="89.4" width="107" height="18.2" fill="#b9d0dc" stroke="#333" stroke-width="1.6"/>
<path d="M2279 107.4 L2279 82.4 L2332 82.4 L2332 107.4" fill="none" stroke="#1a1a1a" stroke-width="2.4" />
<circle cx="2305" cy="82" r="15.5" fill="#fff" stroke="#00a0e3" stroke-width="2.6"/>
<path d="M2294 71 L2316 93 M2294 93 L2316 71" stroke="#00a0e3" stroke-width="1.6" fill="none"/>
<rect x="2270" y="107.6" width="18" height="34.8" fill="#fff799" stroke="#333" stroke-width="1.2"/>
<path d="M2272 121.2 L2279 128.8 L2286 121.2" fill="none" stroke="#1a1a1a" stroke-width="1.6" />
<rect x="2323" y="107.6" width="18" height="34.8" fill="#fff799" stroke="#333" stroke-width="1.2"/>
<path d="M2325 121.2 L2332 128.8 L2339 121.2" fill="none" stroke="#1a1a1a" stroke-width="1.6" />
<path d="M2252 2349 L2252 2366 L2280 2383 L2330 2383 L2359 2366 L2359 2349 Z" fill="url(#gOr)" stroke="#c77a1a" stroke-width="1.2"/>
<rect x="2252" y="2329" width="107" height="20" fill="#b9d0dc" stroke="#333" stroke-width="1.6"/>
<path d="M2279 2329 L2279 2356 L2332 2356 L2332 2329" fill="none" stroke="#1a1a1a" stroke-width="2.4" />
<circle cx="2305" cy="2356.4" r="15.5" fill="#fff" stroke="#00a0e3" stroke-width="2.6"/>
<path d="M2294 2345.4 L2316 2367.4 M2294 2367.4 L2316 2345.4" stroke="#00a0e3" stroke-width="1.6" fill="none"/>
<rect x="2270" y="2294" width="18" height="35" fill="#fff799" stroke="#333" stroke-width="1.2"/>
<path d="M2272 2315.3 L2279 2307.7 L2286 2315.3" fill="none" stroke="#1a1a1a" stroke-width="1.6" />
<rect x="2323" y="2294" width="18" height="35" fill="#fff799" stroke="#333" stroke-width="1.2"/>
<path d="M2325 2315.3 L2332 2307.7 L2339 2315.3" fill="none" stroke="#1a1a1a" stroke-width="1.6" />
<rect x="2437" y="223.4" width="27" height="15" fill="#fff799" stroke="#333" stroke-width="1.2"/>
<path d="M2453.5 225.4 L2447.5 230.9 L2453.5 236.4" fill="none" stroke="#1a1a1a" stroke-width="1.6" />
<rect x="2437" y="240.6" width="27" height="15.1" fill="#fff799" stroke="#333" stroke-width="1.2"/>
<path d="M2453.5 242.6 L2447.5 248.1 L2453.5 253.7" fill="none" stroke="#1a1a1a" stroke-width="1.6" />
<g stroke="#333" stroke-width="1"><rect x="2464" y="222" width="30" height="35" fill="url(#gCyl)"/><path d="M2494 222 L2505 213 L2515 213 L2515 265 L2505 265 L2494 257 Z" fill="url(#gCyl)"/><rect x="2502" y="213" width="13" height="52" fill="url(#gCyl)"/><rect x="2514" y="216" width="16" height="46" fill="url(#gCyl)"/></g>
<rect x="2528" y="218.4" width="46" height="42" rx="20" fill="#a5d8f3" stroke="#1a8fd0" stroke-width="1.5"/>
<circle cx="2551.7" cy="239.5" r="14.5" fill="#fff" stroke="#00a0e3" stroke-width="2.6"/>
<path d="M2541.4 229.2 L2562 249.8 M2541.4 249.8 L2562 229.2" stroke="#00a0e3" stroke-width="1.6" fill="none"/>
<rect x="2437" y="293.4" width="27" height="14.6" fill="#fff799" stroke="#333" stroke-width="1.2"/>
<path d="M2453.4 295.4 L2447.6 300.7 L2453.4 306" fill="none" stroke="#1a1a1a" stroke-width="1.6" />
<rect x="2437" y="329.4" width="27" height="15.1" fill="#fff799" stroke="#333" stroke-width="1.2"/>
<path d="M2453.5 331.4 L2447.5 336.9 L2453.5 342.5" fill="none" stroke="#1a1a1a" stroke-width="1.6" />
<g stroke="#222" stroke-width="1"><rect x="2464" y="289.6" width="46" height="60.3" rx="2" fill="url(#gDark)"/><rect x="2508" y="294" width="10" height="51" fill="url(#gDark)"/><rect x="2518" y="308" width="25" height="21.5" rx="3" fill="url(#gCyl)"/></g>
<rect x="2441.3" y="399.4" width="25.7" height="15" fill="#fff799" stroke="#333" stroke-width="1.2"/>
<path d="M2457.1 401.4 L2451.2 406.9 L2457.1 412.4" fill="none" stroke="#1a1a1a" stroke-width="1.6" />
<rect x="2441.3" y="418.7" width="25.7" height="15.1" fill="#fff799" stroke="#333" stroke-width="1.2"/>
<path d="M2457.1 420.7 L2451.2 426.2 L2457.1 431.8" fill="none" stroke="#1a1a1a" stroke-width="1.6" />
<g stroke="#333" stroke-width="1"><rect x="2467" y="397" width="32" height="40" rx="3" fill="url(#gBrn)"/><rect x="2497" y="393" width="20" height="48" fill="url(#gCyl)"/><rect x="2504" y="390" width="9" height="54" fill="url(#gCyl)"/><rect x="2516" y="398" width="28" height="38" fill="url(#gCyl)"/><rect x="2543" y="410" width="15" height="13" rx="4" fill="#cfe3ee"/></g>
<path d="M2520 398 L2520 436 M2525 398 L2525 436 M2530 398 L2530 436 M2535 398 L2535 436 M2540 398 L2540 436" stroke="#555" stroke-width="1.2"/>
<rect x="2455.3" y="548.2" width="123.7" height="282" fill="#b9d0dc" stroke="#333" stroke-width="1.6"/>
<rect x="2402" y="566" width="53.3" height="35.2" fill="#fff799" stroke="#222" stroke-width="1.5"/>
<text font-size="22" text-anchor="middle" fill="#1a1a1a" transform="translate(2428.7 591.3) scale(0.88 1)">50</text>
<rect x="2402" y="601.2" width="53.3" height="35.2" fill="#fff799" stroke="#222" stroke-width="1.5"/>
<text font-size="22" text-anchor="middle" fill="#1a1a1a" transform="translate(2428.7 626.6) scale(0.88 1)">15</text>
<rect x="2402" y="636.5" width="53.3" height="35.2" fill="#fff799" stroke="#222" stroke-width="1.5"/>
<rect x="2402" y="671.8" width="53.3" height="35.2" fill="#fff799" stroke="#222" stroke-width="1.5"/>
<text font-size="22" text-anchor="middle" fill="#1a1a1a" transform="translate(2428.7 697.1) scale(0.88 1)">30</text>
<rect x="2402" y="742.5" width="53.3" height="35" fill="#fff799" stroke="#222" stroke-width="1.5"/>
<text font-size="22" text-anchor="middle" fill="#1a1a1a" transform="translate(2428.7 767.7) scale(0.88 1)">A</text>
<rect x="2402" y="777.5" width="53.3" height="35" fill="#fff799" stroke="#222" stroke-width="1.5"/>
<text font-size="22" text-anchor="middle" fill="#1a1a1a" transform="translate(2428.7 802.7) scale(0.88 1)">B</text>
<g transform="translate(2428.7 548.4) rotate(180) scale(1.0)" fill="none" stroke="#1a1a1a" stroke-width="1.5"><path d="M-11 0 L11 0 M-9.7 -7 L-2.7 0 L-9.7 7 M-3.5 -7 L3.5 0 L-3.5 7"/></g>
<g transform="translate(2428.7 830.2) rotate(0) scale(1.0)" fill="none" stroke="#1a1a1a" stroke-width="1.5"><path d="M-11 0 L11 0 M-9.7 -7 L-2.7 0 L-9.7 7 M-3.5 -7 L3.5 0 L-3.5 7"/></g>
<path d="M2543.7 583.3 L2543.7 689.4" fill="none" stroke="#1a1a1a" stroke-width="2.2" />
<path d="M2519.2 618.8 L2519.2 689.4" fill="none" stroke="#1a1a1a" stroke-width="2.2" />
<circle cx="2543.7" cy="583.3" r="4.4" fill="#1a1a1a"/>
<circle cx="2543.7" cy="618.8" r="4.4" fill="#1a1a1a"/>
<circle cx="2543.7" cy="689.4" r="4.4" fill="#1a1a1a"/>
<circle cx="2519.2" cy="618.8" r="4.4" fill="#1a1a1a"/>
<circle cx="2519.2" cy="689.4" r="4.4" fill="#1a1a1a"/>
<text font-size="19" text-anchor="middle" fill="#1a1a1a" transform="translate(2499 716.5) scale(0.88 1)">0</text>
<text font-size="19" text-anchor="middle" fill="#1a1a1a" transform="translate(2519.7 716.5) scale(0.88 1)">1</text>
<text font-size="19" text-anchor="middle" fill="#1a1a1a" transform="translate(2542.3 716.5) scale(0.88 1)">2</text>
<path d="M2455.3 757.6 L2475.3 757.6 L2475.3 742.5 L2528.6 742.5 L2528.6 761" fill="none" stroke="#1a1a1a" stroke-width="2.6" />
<path d="M2455.3 793.8 L2475.3 793.8 L2475.3 812.4 L2528.6 812.4 L2528.6 793.8" fill="none" stroke="#1a1a1a" stroke-width="2.6" />
<rect x="2496" y="761" width="64.8" height="32.8" fill="#fff" stroke="#1a1a1a" stroke-width="2.6"/>
<ellipse cx="2296.5" cy="776.4" rx="17.8" ry="34.4" fill="none" stroke="#1a1a1a" stroke-width="1.4" stroke-dasharray="9 4"/>
<circle cx="2296.5" cy="812" r="8.5" fill="#1a1a1a"/>
<path d="M2615.6 634 L2621 640 L2619 644 L2622 648 L2619.5 652 L2622 657 L2619.5 661 L2622 666 L2620 670 L2622 675 L2622 690 L2626 694 L2626 701 L2605 701 L2605 694 L2609 690 L2609 675 L2611 670 L2609 666 L2611 661 L2609 657 L2611 652 L2609 648 L2611 644 L2610 640 Z" fill="#d5d8da" stroke="#555" stroke-width="1"/>
<path d="M2596 701 L2636 701 Q2638 701 2637.6 704 L2634 735 Q2633.5 738.7 2630 738.7 L2601 738.7 Q2598 738.7 2597.5 735 L2594 704 Q2593.7 701 2596 701 Z" fill="#8d9093" stroke="#444" stroke-width="1.2"/>
<ellipse cx="2615.6" cy="726" rx="9.5" ry="5.5" fill="#fff" stroke="#444" stroke-width="1"/>
<rect x="2455.3" y="865.7" width="123.7" height="388" fill="#b97a33" stroke="#3a2a1a" stroke-width="1.6"/>
<rect x="2402.6" y="883.4" width="52.7" height="35.2" fill="#fff799" stroke="#222" stroke-width="1.5"/>
<text font-size="22" text-anchor="middle" fill="#1a1a1a" transform="translate(2428.9 908.7) scale(0.88 1)">G</text>
<rect x="2402.6" y="918.6" width="52.7" height="35.2" fill="#fff799" stroke="#222" stroke-width="1.5"/>
<text font-size="22" text-anchor="middle" fill="#1a1a1a" transform="translate(2428.9 944) scale(0.88 1)">56b</text>
<rect x="2402.6" y="953.9" width="52.7" height="35.2" fill="#fff799" stroke="#222" stroke-width="1.5"/>
<text font-size="22" text-anchor="middle" fill="#1a1a1a" transform="translate(2428.9 979.2) scale(0.88 1)">58b</text>
<rect x="2402.6" y="989.1" width="52.7" height="35.3" fill="#fff799" stroke="#222" stroke-width="1.5"/>
<text font-size="22" text-anchor="middle" fill="#1a1a1a" transform="translate(2428.9 1014.5) scale(0.88 1)">31</text>
<rect x="2402.6" y="1024.4" width="52.7" height="35.2" fill="#fff799" stroke="#222" stroke-width="1.5"/>
<text font-size="22" text-anchor="middle" fill="#1a1a1a" transform="translate(2428.9 1049.7) scale(0.88 1)">Xz</text>
<rect x="2402.6" y="1059.7" width="52.7" height="35.2" fill="#fff799" stroke="#222" stroke-width="1.5"/>
<text font-size="22" text-anchor="middle" fill="#1a1a1a" transform="translate(2428.9 1085) scale(0.88 1)">56</text>
<rect x="2402.6" y="1094.9" width="52.7" height="35.2" fill="#fff799" stroke="#222" stroke-width="1.5"/>
<text font-size="22" text-anchor="middle" fill="#1a1a1a" transform="translate(2428.9 1120.2) scale(0.88 1)">1</text>
<rect x="2402.6" y="1130.2" width="52.7" height="35.2" fill="#fff799" stroke="#222" stroke-width="1.5"/>
<text font-size="22" text-anchor="middle" fill="#1a1a1a" transform="translate(2428.9 1155.5) scale(0.88 1)">2</text>
<rect x="2402.6" y="1165.4" width="52.7" height="35.2" fill="#fff799" stroke="#222" stroke-width="1.5"/>
<text font-size="22" text-anchor="middle" fill="#1a1a1a" transform="translate(2428.9 1190.7) scale(0.88 1)">58</text>
<rect x="2402.6" y="1200.7" width="52.7" height="35.2" fill="#fff799" stroke="#222" stroke-width="1.5"/>
<text font-size="22" text-anchor="middle" fill="#1a1a1a" transform="translate(2428.9 1226) scale(0.88 1)">30</text>
<circle cx="2296.5" cy="901" r="8.5" fill="#1a1a1a"/>
<rect x="2455.3" y="1288.7" width="123.7" height="952.3" fill="#b9d0dc" stroke="#333" stroke-width="1.6"/>
<path d="M2455.3 1465.8 L2579 1465.8" fill="none" stroke="#4a4a4a" stroke-width="1.3" />
<path d="M2455.3 1641.4 L2579 1641.4" fill="none" stroke="#4a4a4a" stroke-width="1.3" />
<path d="M2455.3 1852.9 L2579 1852.9" fill="none" stroke="#4a4a4a" stroke-width="1.3" />
<path d="M2455.3 1924 L2579 1924" fill="none" stroke="#4a4a4a" stroke-width="1.3" />
<path d="M2455.3 2100 L2579 2100" fill="none" stroke="#4a4a4a" stroke-width="1.3" />
<rect x="2402.6" y="1306.5" width="52.7" height="35.2" fill="#fff799" stroke="#222" stroke-width="1.5"/>
<text font-size="22" text-anchor="middle" fill="#1a1a1a" transform="translate(2428.9 1331.8) scale(0.88 1)">1</text>
<rect x="2402.6" y="1341.8" width="52.7" height="35.2" fill="#fff799" stroke="#222" stroke-width="1.5"/>
<text font-size="22" text-anchor="middle" fill="#1a1a1a" transform="translate(2428.9 1367.1) scale(0.88 1)">2</text>
<rect x="2402.6" y="1377" width="52.7" height="35.2" fill="#fff799" stroke="#222" stroke-width="1.5"/>
<text font-size="22" text-anchor="middle" fill="#1a1a1a" transform="translate(2428.9 1402.3) scale(0.88 1)">3</text>
<rect x="2402.6" y="1412.2" width="52.7" height="35.2" fill="#fff799" stroke="#222" stroke-width="1.5"/>
<text font-size="22" text-anchor="middle" fill="#1a1a1a" transform="translate(2428.9 1437.6) scale(0.88 1)">4</text>
<rect x="2402.6" y="1483.5" width="52.7" height="35.2" fill="#fff799" stroke="#222" stroke-width="1.5"/>
<text font-size="21" text-anchor="middle" fill="#1a1a1a" transform="translate(2428.9 1508.5) scale(0.88 1)">53ah</text>
<rect x="2402.6" y="1518.8" width="52.7" height="35.2" fill="#fff799" stroke="#222" stroke-width="1.5"/>
<text font-size="21" text-anchor="middle" fill="#1a1a1a" transform="translate(2428.9 1543.7) scale(0.88 1)">53H</text>
<rect x="2402.6" y="1554" width="52.7" height="35.2" fill="#fff799" stroke="#222" stroke-width="1.5"/>
<text font-size="21" text-anchor="middle" fill="#1a1a1a" transform="translate(2428.9 1579) scale(0.88 1)">WH</text>
<rect x="2402.6" y="1589.2" width="52.7" height="35.2" fill="#fff799" stroke="#222" stroke-width="1.5"/>
<text font-size="21" text-anchor="middle" fill="#1a1a1a" transform="translate(2428.9 1614.2) scale(0.88 1)">W</text>
<rect x="2402.6" y="1659" width="52.7" height="35.2" fill="#fff799" stroke="#222" stroke-width="1.5"/>
<text font-size="22" text-anchor="middle" fill="#1a1a1a" transform="translate(2428.9 1684.3) scale(0.88 1)">53b</text>
<rect x="2402.6" y="1694.2" width="52.7" height="35.2" fill="#fff799" stroke="#222" stroke-width="1.5"/>
<text font-size="22" text-anchor="middle" fill="#1a1a1a" transform="translate(2428.9 1719.5) scale(0.88 1)">J</text>
<rect x="2402.6" y="1729.4" width="52.7" height="35.2" fill="#fff799" stroke="#222" stroke-width="1.5"/>
<text font-size="22" text-anchor="middle" fill="#1a1a1a" transform="translate(2428.9 1754.7) scale(0.88 1)">53a</text>
<rect x="2402.6" y="1764.6" width="52.7" height="35.2" fill="#fff799" stroke="#222" stroke-width="1.5"/>
<text font-size="22" text-anchor="middle" fill="#1a1a1a" transform="translate(2428.9 1789.9) scale(0.88 1)">53</text>
<rect x="2402.6" y="1799.8" width="52.7" height="35.2" fill="#fff799" stroke="#222" stroke-width="1.5"/>
<text font-size="22" text-anchor="middle" fill="#1a1a1a" transform="translate(2428.9 1825.1) scale(0.88 1)">53e</text>
<rect x="2429" y="1874.4" width="26.3" height="14.3" fill="#fff799" stroke="#333" stroke-width="1.2"/>
<path d="M2444.9 1876.4 L2439.4 1881.6 L2444.9 1886.7" fill="none" stroke="#1a1a1a" stroke-width="1.6" />
<rect x="2429" y="1888.7" width="26.3" height="14.3" fill="#fff799" stroke="#333" stroke-width="1.2"/>
<path d="M2444.9 1890.7 L2439.4 1895.8 L2444.9 1901" fill="none" stroke="#1a1a1a" stroke-width="1.6" />
<rect x="2402.6" y="1941.7" width="52.7" height="35.2" fill="#fff799" stroke="#222" stroke-width="1.5"/>
<text font-size="22" text-anchor="middle" fill="#1a1a1a" transform="translate(2428.9 1967) scale(0.88 1)">30</text>
<rect x="2402.6" y="1977" width="52.7" height="35.2" fill="#fff799" stroke="#222" stroke-width="1.5"/>
<text font-size="22" text-anchor="middle" fill="#1a1a1a" transform="translate(2428.9 2002.3) scale(0.88 1)">56</text>
<rect x="2402.6" y="2012.2" width="52.7" height="35.2" fill="#fff799" stroke="#222" stroke-width="1.5"/>
<text font-size="22" text-anchor="middle" fill="#1a1a1a" transform="translate(2428.9 2037.5) scale(0.88 1)">56b</text>
<rect x="2402.6" y="2047.5" width="52.7" height="35.2" fill="#fff799" stroke="#222" stroke-width="1.5"/>
<text font-size="22" text-anchor="middle" fill="#1a1a1a" transform="translate(2428.9 2072.8) scale(0.88 1)">56a</text>
<rect x="2402.6" y="2118.2" width="52.7" height="35.2" fill="#fff799" stroke="#222" stroke-width="1.5"/>
<text font-size="21" text-anchor="middle" fill="#1a1a1a" transform="translate(2428.9 2143.1) scale(0.88 1)">49aR</text>
<rect x="2402.6" y="2153.4" width="52.7" height="35.2" fill="#fff799" stroke="#222" stroke-width="1.5"/>
<text font-size="21" text-anchor="middle" fill="#1a1a1a" transform="translate(2428.9 2178.3) scale(0.88 1)">49a</text>
<rect x="2402.6" y="2188.5" width="52.7" height="35.2" fill="#fff799" stroke="#222" stroke-width="1.5"/>
<text font-size="21" text-anchor="middle" fill="#1a1a1a" transform="translate(2428.9 2213.5) scale(0.88 1)">49aL</text>
<g transform="translate(2425 2243) rotate(180) scale(1.0)" fill="none" stroke="#1a1a1a" stroke-width="1.5"><path d="M-11 0 L11 0 M-9.7 -7 L-2.7 0 L-9.7 7 M-3.5 -7 L3.5 0 L-3.5 7"/></g>
<path d="M2455.3 1324 L2501 1324 L2501 1333" fill="none" stroke="#1a1a1a" stroke-width="2.4" />
<path d="M2455.3 1359.4 L2501 1359.4 L2501 1350" fill="none" stroke="#1a1a1a" stroke-width="2.4" />
<path d="M2494 1341.5 L2525.8 1341.5" fill="none" stroke="#1a1a1a" stroke-width="3.4" />
<path d="M2525.8 1341.5 L2543.6 1341.5 L2543.6 1430 L2455.3 1430" fill="none" stroke="#1a1a1a" stroke-width="2.4" />
<circle cx="2525.8" cy="1341.5" r="5.5" fill="#1a1a1a"/>
<path d="M2455.3 1394.6 L2499 1394.6" fill="none" stroke="#1a1a1a" stroke-width="2.4" />
<path d="M2493 1412 L2525 1394.6 L2543.6 1394.6" fill="none" stroke="#1a1a1a" stroke-width="2.4" />
<circle cx="2543.6" cy="1394.6" r="5.5" fill="#1a1a1a"/>
<path d="M2455.3 1501 L2468 1501" fill="none" stroke="#1a1a1a" stroke-width="2.4" />
<path d="M2455.3 1536.4 L2468 1536.4" fill="none" stroke="#1a1a1a" stroke-width="2.4" />
<path d="M2455.3 1571.6 L2468 1571.6" fill="none" stroke="#1a1a1a" stroke-width="2.4" />
<path d="M2455.3 1607 L2468 1607" fill="none" stroke="#1a1a1a" stroke-width="2.4" />
<path d="M2507.9 1501 L2507.9 1607" fill="none" stroke="#1a1a1a" stroke-width="2.2" />
<circle cx="2507.9" cy="1501" r="4.4" fill="#1a1a1a"/>
<circle cx="2507.9" cy="1607" r="4.4" fill="#1a1a1a"/>
<path d="M2525.8 1501 L2525.8 1536.4" fill="none" stroke="#1a1a1a" stroke-width="2.2" />
<circle cx="2525.8" cy="1501" r="4.4" fill="#1a1a1a"/>
<circle cx="2525.8" cy="1536.4" r="4.4" fill="#1a1a1a"/>
<path d="M2543.6 1501 L2543.6 1571.6" fill="none" stroke="#1a1a1a" stroke-width="2.2" />
<circle cx="2543.6" cy="1501" r="4.4" fill="#1a1a1a"/>
<circle cx="2543.6" cy="1571.6" r="4.4" fill="#1a1a1a"/>
<text font-size="19" text-anchor="middle" fill="#1a1a1a" transform="translate(2507.9 1634) scale(0.88 1)">6</text>
<text font-size="19" text-anchor="middle" fill="#1a1a1a" transform="translate(2525.8 1634) scale(0.88 1)">7</text>
<text font-size="19" text-anchor="middle" fill="#1a1a1a" transform="translate(2545 1634) scale(0.88 1)">8</text>
<text font-size="19" text-anchor="middle" fill="#1a1a1a" transform="translate(2507.4 1667) scale(0.88 1)">3</text>
<path d="M2455.3 1676.7 L2468 1676.7" fill="none" stroke="#1a1a1a" stroke-width="2.4" />
<path d="M2455.3 1712 L2468 1712" fill="none" stroke="#1a1a1a" stroke-width="2.4" />
<path d="M2455.3 1747.2 L2468 1747.2" fill="none" stroke="#1a1a1a" stroke-width="2.4" />
<path d="M2455.3 1782.4 L2468 1782.4" fill="none" stroke="#1a1a1a" stroke-width="2.4" />
<path d="M2455.3 1817.6 L2468 1817.6" fill="none" stroke="#1a1a1a" stroke-width="2.4" />
<path d="M2543.6 1676.7 L2543.6 1747.2" fill="none" stroke="#1a1a1a" stroke-width="2.2" />
<circle cx="2543.6" cy="1676.7" r="4.4" fill="#1a1a1a"/>
<circle cx="2543.6" cy="1747.2" r="4.4" fill="#1a1a1a"/>
<path d="M2507.9 1712 L2507.9 1747.2" fill="none" stroke="#1a1a1a" stroke-width="2.2" />
<circle cx="2507.9" cy="1712" r="4.4" fill="#1a1a1a"/>
<circle cx="2507.9" cy="1747.2" r="4.4" fill="#1a1a1a"/>
<path d="M2525.8 1747.2 L2525.8 1782.4" fill="none" stroke="#1a1a1a" stroke-width="2.2" />
<circle cx="2525.8" cy="1747.2" r="4.4" fill="#1a1a1a"/>
<circle cx="2525.8" cy="1782.4" r="4.4" fill="#1a1a1a"/>
<path d="M2490 1782.4 L2490 1817.6" fill="none" stroke="#1a1a1a" stroke-width="2.2" />
<circle cx="2490" cy="1782.4" r="4.4" fill="#1a1a1a"/>
<circle cx="2490" cy="1817.6" r="4.4" fill="#1a1a1a"/>
<path d="M2507.9 1782.4 L2507.9 1817.6" fill="none" stroke="#1a1a1a" stroke-width="2.2" />
<circle cx="2507.9" cy="1782.4" r="4.4" fill="#1a1a1a"/>
<circle cx="2507.9" cy="1817.6" r="4.4" fill="#1a1a1a"/>
<text font-size="19" text-anchor="middle" fill="#1a1a1a" transform="translate(2488 1845) scale(0.88 1)">1</text>
<text font-size="19" text-anchor="middle" fill="#1a1a1a" transform="translate(2507.4 1845) scale(0.88 1)">2</text>
<text font-size="19" text-anchor="middle" fill="#1a1a1a" transform="translate(2526.3 1845) scale(0.88 1)">4</text>
<text font-size="19" text-anchor="middle" fill="#1a1a1a" transform="translate(2545.7 1845) scale(0.88 1)">5</text>
<path d="M2455.3 1882.5 L2543.6 1882.5 L2543.6 1896 L2521 1896" fill="none" stroke="#1a1a1a" stroke-width="2.4" />
<path d="M2455.3 1897 L2490 1897 L2522 1913" fill="none" stroke="#1a1a1a" stroke-width="2.4" />
<path d="M2455.3 1959.3 L2490 1959.3 L2522 1942.5" fill="none" stroke="#1a1a1a" stroke-width="2.4" />
<path d="M2521 1959.3 L2543.6 1959.3 L2543.6 2065 L2455.3 2065" fill="none" stroke="#1a1a1a" stroke-width="2.4" />
<path d="M2455.3 1994.6 L2490 1994.6 L2522 2011" fill="none" stroke="#1a1a1a" stroke-width="2.4" />
<path d="M2521 1994.6 L2543.6 1994.6" fill="none" stroke="#1a1a1a" stroke-width="2.4" />
<circle cx="2543.6" cy="1994.6" r="5.5" fill="#1a1a1a"/>
<path d="M2455.3 2029.8 L2517 2029.8 L2517 2008" fill="none" stroke="#1a1a1a" stroke-width="2.4" />
<path d="M2455.3 2135.8 L2533 2135.8 L2533 2160" fill="none" stroke="#1a1a1a" stroke-width="2.4" />
<path d="M2455.3 2171 L2541 2171" fill="none" stroke="#1a1a1a" stroke-width="3" />
<circle cx="2507.9" cy="2171" r="5.5" fill="#1a1a1a"/>
<path d="M2455.3 2206 L2533 2206 L2533 2182" fill="none" stroke="#1a1a1a" stroke-width="2.4" />
<text font-size="29" font-weight="bold" text-anchor="middle" fill="#1a1a1a" transform="translate(2388 94.4) scale(0.9 1)">27</text>
<text font-size="29" font-weight="bold" text-anchor="middle" fill="#1a1a1a" transform="translate(2605 248.4) scale(0.9 1)">28</text>
<text font-size="29" font-weight="bold" text-anchor="middle" fill="#1a1a1a" transform="translate(2605 326.4) scale(0.9 1)">29</text>
<text font-size="29" font-weight="bold" text-anchor="middle" fill="#1a1a1a" transform="translate(2605 424.4) scale(0.9 1)">30</text>
<text font-size="29" font-weight="bold" text-anchor="middle" fill="#1a1a1a" transform="translate(2608.5 571.4) scale(0.9 1)">31</text>
<text font-size="29" font-weight="bold" text-anchor="middle" fill="#1a1a1a" transform="translate(2609.8 894.9) scale(0.9 1)">32</text>
<text font-size="29" font-weight="bold" text-anchor="middle" fill="#1a1a1a" transform="translate(2609.8 1319) scale(0.9 1)">33</text>
<text font-size="29" font-weight="bold" text-anchor="middle" fill="#1a1a1a" transform="translate(2390 2355.4) scale(0.9 1)">34</text>
<path d="M2744.4 155.1 L2754.2 166 L2763.9 155.1 L2763.9 177.7 L2744.4 177.7 Z" fill="#fff799" stroke="#333" stroke-width="1.2"/>
<path d="M2744.4 2281 L2754.2 2270 L2763.9 2281 L2763.9 2258 L2744.4 2258 Z" fill="#fff799" stroke="#333" stroke-width="1.2"/>
<path d="M2780.7 155.1 L2790.4 166 L2800.2 155.1 L2800.2 177.7 L2780.7 177.7 Z" fill="#fff799" stroke="#333" stroke-width="1.2"/>
<path d="M2780.7 2281 L2790.4 2270 L2800.2 2281 L2800.2 2258 L2780.7 2258 Z" fill="#fff799" stroke="#333" stroke-width="1.2"/>
<rect x="2896.5" y="55.6" width="193.9" height="122.9" fill="#b9d0dc" stroke="#333" stroke-width="1.6"/>
<rect x="2913.3" y="178.5" width="26.7" height="34.3" fill="#fff799" stroke="#222" stroke-width="1.5"/>
<text font-size="22" text-anchor="middle" fill="#1a1a1a" transform="translate(2926.7 203.3) scale(0.88 1)">2</text>
<rect x="2940" y="178.5" width="26.7" height="34.3" fill="#fff799" stroke="#222" stroke-width="1.5"/>
<text font-size="22" text-anchor="middle" fill="#1a1a1a" transform="translate(2953.4 203.3) scale(0.88 1)">3</text>
<rect x="2966.7" y="178.5" width="26.7" height="34.3" fill="#fff799" stroke="#222" stroke-width="1.5"/>
<text font-size="22" text-anchor="middle" fill="#1a1a1a" transform="translate(2980.1 203.3) scale(0.88 1)">1</text>
<rect x="2993.4" y="178.5" width="26.7" height="34.3" fill="#fff799" stroke="#222" stroke-width="1.5"/>
<text font-size="22" text-anchor="middle" fill="#1a1a1a" transform="translate(3006.8 203.3) scale(0.88 1)">4</text>
<rect x="3020.1" y="178.5" width="26.7" height="34.3" fill="#fff799" stroke="#222" stroke-width="1.5"/>
<text font-size="22" text-anchor="middle" fill="#1a1a1a" transform="translate(3033.5 203.3) scale(0.88 1)">5</text>
<g transform="translate(3064.3 196) rotate(90) scale(1.0)" fill="none" stroke="#1a1a1a" stroke-width="1.5"><path d="M-11 0 L11 0 M-9.7 -7 L-2.7 0 L-9.7 7 M-3.5 -7 L3.5 0 L-3.5 7"/></g>
<path d="M2925.8 178.5 L2925.8 123.9 L2935.6 123.9" fill="none" stroke="#1a1a1a" stroke-width="2.6" />
<path d="M2933.6 130.5 L2955 98.5 L2955 73.2 L2979.6 73.2 L2979.6 178.5" fill="none" stroke="#1a1a1a" stroke-width="2.6" />
<path d="M2953.1 178.5 L2953.1 132.9" fill="none" stroke="#1a1a1a" stroke-width="2.6" />
<path d="M3007 178.5 L3007 73.2 L3046.8 73.2 L3046.8 86" fill="none" stroke="#1a1a1a" stroke-width="2.6" />
<path d="M3033 178.5 L3033 161 L3046.8 161 L3046.8 146" fill="none" stroke="#1a1a1a" stroke-width="2.6" />
<rect x="3037" y="84.4" width="18" height="12" fill="#fff" stroke="#1a1a1a" stroke-width="2"/>
<rect x="3037" y="135.6" width="18" height="12" fill="#fff" stroke="#1a1a1a" stroke-width="2"/>
<circle cx="3046" cy="116" r="22.6" fill="#fff" stroke="#1a1a1a" stroke-width="2.6"/>
<rect x="2895.6" y="2258" width="194.8" height="125" fill="#b9d0dc" stroke="#333" stroke-width="1.6"/>
<rect x="2913.3" y="2223.2" width="26.7" height="34.8" fill="#fff799" stroke="#222" stroke-width="1.5"/>
<text font-size="22" text-anchor="middle" fill="#1a1a1a" transform="translate(2926.7 2248.3) scale(0.88 1)">2</text>
<rect x="2940" y="2223.2" width="26.7" height="34.8" fill="#fff799" stroke="#222" stroke-width="1.5"/>
<text font-size="22" text-anchor="middle" fill="#1a1a1a" transform="translate(2953.4 2248.3) scale(0.88 1)">3</text>
<rect x="2966.7" y="2223.2" width="26.7" height="34.8" fill="#fff799" stroke="#222" stroke-width="1.5"/>
<text font-size="22" text-anchor="middle" fill="#1a1a1a" transform="translate(2980.1 2248.3) scale(0.88 1)">1</text>
<rect x="2993.4" y="2223.2" width="26.7" height="34.8" fill="#fff799" stroke="#222" stroke-width="1.5"/>
<text font-size="22" text-anchor="middle" fill="#1a1a1a" transform="translate(3006.8 2248.3) scale(0.88 1)">4</text>
<rect x="3020.1" y="2223.2" width="26.7" height="34.8" fill="#fff799" stroke="#222" stroke-width="1.5"/>
<text font-size="22" text-anchor="middle" fill="#1a1a1a" transform="translate(3033.5 2248.3) scale(0.88 1)">5</text>
<g transform="translate(3064.3 2240) rotate(270) scale(1.0)" fill="none" stroke="#1a1a1a" stroke-width="1.5"><path d="M-11 0 L11 0 M-9.7 -7 L-2.7 0 L-9.7 7 M-3.5 -7 L3.5 0 L-3.5 7"/></g>
<path d="M2925.8 2258 L2925.8 2312.5 L2935.6 2312.5" fill="none" stroke="#1a1a1a" stroke-width="2.6" />
<path d="M2933.6 2306 L2955 2338 L2955 2365.8 L2979.6 2365.8 L2979.6 2258" fill="none" stroke="#1a1a1a" stroke-width="2.6" />
<path d="M2953.1 2258 L2953.1 2303.5" fill="none" stroke="#1a1a1a" stroke-width="2.6" />
<path d="M3007 2258 L3007 2365.8 L3046.8 2365.8 L3046.8 2352" fill="none" stroke="#1a1a1a" stroke-width="2.6" />
<path d="M3033 2258 L3033 2278 L3046.8 2278 L3046.8 2292" fill="none" stroke="#1a1a1a" stroke-width="2.6" />
<rect x="3037" y="2291.1" width="18" height="12" fill="#fff" stroke="#1a1a1a" stroke-width="2"/>
<rect x="3037" y="2342.3" width="18" height="12" fill="#fff" stroke="#1a1a1a" stroke-width="2"/>
<circle cx="3046" cy="2322.7" r="22.6" fill="#fff" stroke="#1a1a1a" stroke-width="2.6"/>
<rect x="2931.7" y="389.2" width="158.7" height="193.1" fill="#b9d0dc" stroke="#333" stroke-width="1.6"/>
<rect x="2896.5" y="406.8" width="35.2" height="26.5" fill="#fff799" stroke="#222" stroke-width="1.5"/>
<text font-size="22" text-anchor="middle" fill="#1a1a1a" transform="translate(2914.1 427.8) scale(0.88 1)">C</text>
<rect x="2896.5" y="433.3" width="35.2" height="26.5" fill="#fff799" stroke="#222" stroke-width="1.5"/>
<text font-size="22" text-anchor="middle" fill="#1a1a1a" transform="translate(2914.1 454.3) scale(0.88 1)">A</text>
<rect x="2896.5" y="459.9" width="35.2" height="26.5" fill="#fff799" stroke="#222" stroke-width="1.5"/>
<text font-size="22" text-anchor="middle" fill="#1a1a1a" transform="translate(2914.1 480.8) scale(0.88 1)">B</text>
<rect x="2896.5" y="486.4" width="35.2" height="26.5" fill="#fff799" stroke="#222" stroke-width="1.5"/>
<text font-size="22" text-anchor="middle" fill="#1a1a1a" transform="translate(2914.1 507.4) scale(0.88 1)">D</text>
<rect x="2896.5" y="512.9" width="35.2" height="26.5" fill="#fff799" stroke="#222" stroke-width="1.5"/>
<text font-size="22" text-anchor="middle" fill="#1a1a1a" transform="translate(2914.1 533.9) scale(0.88 1)">2</text>
<rect x="2896.5" y="539.5" width="35.2" height="26.5" fill="#fff799" stroke="#222" stroke-width="1.5"/>
<text font-size="22" text-anchor="middle" fill="#1a1a1a" transform="translate(2914.1 560.4) scale(0.88 1)">1</text>
<g transform="translate(2916 583.5) rotate(180) scale(1.0)" fill="none" stroke="#1a1a1a" stroke-width="1.5"><path d="M-11 0 L11 0 M-9.7 -7 L-2.7 0 L-9.7 7 M-3.5 -7 L3.5 0 L-3.5 7"/></g>
<path d="M2931.7 419.2 L3072.1 419.2 L3072.1 498.4 L2931.7 498.4" fill="none" stroke="#1a1a1a" stroke-width="2.6" />
<path d="M2931.7 447 L3054.6 447 L3054.6 472.3 L2931.7 472.3" fill="none" stroke="#1a1a1a" stroke-width="2.6" />
<path d="M2931.7 525.8 L3072.1 525.8 L3072.1 553 L3023.3 553" fill="none" stroke="#1a1a1a" stroke-width="2.6" />
<path d="M2931.7 553 L2988.2 553 L3017.5 569.8" fill="none" stroke="#1a1a1a" stroke-width="2.6" />
<circle cx="3001.9" cy="419.2" r="14.4" fill="#fff" stroke="#00a0e3" stroke-width="2.6"/>
<path d="M2991.7 409 L3012.1 429.4 M2991.7 429.4 L3012.1 409" stroke="#00a0e3" stroke-width="1.6" fill="none"/>
<circle cx="3001.9" cy="472.3" r="14.4" fill="#fff" stroke="#00a0e3" stroke-width="2.6"/>
<path d="M2991.7 462.1 L3012.1 482.5 M2991.7 482.5 L3012.1 462.1" stroke="#00a0e3" stroke-width="1.6" fill="none"/>
<rect x="2931.1" y="688.9" width="106.4" height="106.4" fill="#b9d0dc" stroke="#333" stroke-width="1.6"/>
<rect x="2896.2" y="725.5" width="34.9" height="17.3" fill="#fff799" stroke="#333" stroke-width="1.2"/>
<path d="M2917.2 727.5 L2910.1 734.1 L2917.2 740.8" fill="none" stroke="#1a1a1a" stroke-width="1.6" />
<rect x="2896.2" y="742.8" width="34.9" height="17.2" fill="#fff799" stroke="#333" stroke-width="1.2"/>
<path d="M2917.2 744.8 L2910.1 751.4 L2917.2 758" fill="none" stroke="#1a1a1a" stroke-width="1.6" />
<path d="M2931.1 734.1 L2966.4 734.1 L2966.4 707.4 L3000.9 707.4 L3000.9 727.7" fill="none" stroke="#1a1a1a" stroke-width="2.6" />
<path d="M3000.9 760 L3020.3 727.7" fill="none" stroke="#1a1a1a" stroke-width="2.6" />
<path d="M2931.1 750.5 L2966.4 750.5 L2966.4 777.2 L3000.9 777.2 L3000.9 760" fill="none" stroke="#1a1a1a" stroke-width="2.6" />
<rect x="2931.1" y="901.3" width="158.9" height="334.6" fill="#b9d0dc" stroke="#333" stroke-width="1.6"/>
<rect x="2896.2" y="919.3" width="34.9" height="26.4" fill="#fff799" stroke="#222" stroke-width="1.5"/>
<text font-size="22" text-anchor="middle" fill="#1a1a1a" transform="translate(2913.6 940.2) scale(0.88 1)">10</text>
<rect x="2896.2" y="945.7" width="34.9" height="26.4" fill="#fff799" stroke="#222" stroke-width="1.5"/>
<text font-size="22" text-anchor="middle" fill="#1a1a1a" transform="translate(2913.6 966.6) scale(0.88 1)">9</text>
<rect x="2896.2" y="972" width="34.9" height="26.4" fill="#fff799" stroke="#222" stroke-width="1.5"/>
<text font-size="22" text-anchor="middle" fill="#1a1a1a" transform="translate(2913.6 992.9) scale(0.88 1)">5</text>
<rect x="2896.2" y="998.4" width="34.9" height="26.4" fill="#fff799" stroke="#222" stroke-width="1.5"/>
<text font-size="22" text-anchor="middle" fill="#1a1a1a" transform="translate(2913.6 1019.3) scale(0.88 1)">2</text>
<rect x="2896.2" y="1024.8" width="34.9" height="26.4" fill="#fff799" stroke="#222" stroke-width="1.5"/>
<text font-size="22" text-anchor="middle" fill="#1a1a1a" transform="translate(2913.6 1045.7) scale(0.88 1)">1</text>
<rect x="2896.2" y="1051.1" width="34.9" height="26.4" fill="#fff799" stroke="#222" stroke-width="1.5"/>
<text font-size="22" text-anchor="middle" fill="#1a1a1a" transform="translate(2913.6 1072) scale(0.88 1)">11</text>
<rect x="2896.2" y="1077.5" width="34.9" height="26.4" fill="#fff799" stroke="#222" stroke-width="1.5"/>
<text font-size="22" text-anchor="middle" fill="#1a1a1a" transform="translate(2913.6 1098.4) scale(0.88 1)">12</text>
<rect x="2896.2" y="1103.9" width="34.9" height="26.4" fill="#fff799" stroke="#222" stroke-width="1.5"/>
<text font-size="22" text-anchor="middle" fill="#1a1a1a" transform="translate(2913.6 1124.8) scale(0.88 1)">4</text>
<rect x="2896.2" y="1130.3" width="34.9" height="26.4" fill="#fff799" stroke="#222" stroke-width="1.5"/>
<text font-size="22" text-anchor="middle" fill="#1a1a1a" transform="translate(2913.6 1151.1) scale(0.88 1)">6</text>
<rect x="2896.2" y="1156.6" width="34.9" height="26.4" fill="#fff799" stroke="#222" stroke-width="1.5"/>
<text font-size="22" text-anchor="middle" fill="#1a1a1a" transform="translate(2913.6 1177.5) scale(0.88 1)">7</text>
<g transform="translate(2914.7 1201.5) rotate(180) scale(1.0)" fill="none" stroke="#1a1a1a" stroke-width="1.5"><path d="M-11 0 L11 0 M-9.7 -7 L-2.7 0 L-9.7 7 M-3.5 -7 L3.5 0 L-3.5 7"/></g>
<path d="M3019.5 906 L3019.5 1108" stroke="#1a1a1a" stroke-width="2" stroke-dasharray="21 5.5"/>
<path d="M3019.5 865 L3019.5 869.4 L3007.7 876.4 L3019.5 883.4 L3019.5 901" fill="none" stroke="#1a1a1a" stroke-width="2"/>
<text font-size="36" text-anchor="start" fill="#1a1a1a" transform="translate(3006.4 846.9) rotate(90) scale(0.5 1)">E</text>
<path d="M2931.1 931 L3000.9 931" fill="none" stroke="#1a1a1a" stroke-width="2.6" />
<path d="M3003.9 950.8 L3035.3 931 L3072.8 931 L3072.8 958 L2931.1 958" fill="none" stroke="#1a1a1a" stroke-width="2.6" />
<path d="M2931.1 984.8 L3072.8 984.8 L3072.8 1037.8 L3035.3 1037.8 L3003.9 1020.6" fill="none" stroke="#1a1a1a" stroke-width="2.6" />
<path d="M2931.1 1011.1 L3008.2 1011.1 L3008.2 1020.6" fill="none" stroke="#1a1a1a" stroke-width="2.6" />
<path d="M2931.1 1037.8 L3000.9 1037.8" fill="none" stroke="#1a1a1a" stroke-width="2.6" />
<path d="M2931.1 1063.6 L3072.8 1063.6 L3072.8 1117.5 L3035.3 1117.5 L3003.9 1098" fill="none" stroke="#1a1a1a" stroke-width="2.6" />
<path d="M2931.1 1090.8 L3000.9 1090.8" fill="none" stroke="#1a1a1a" stroke-width="2.6" />
<path d="M3003.9 1072 L3035.3 1090.8 L3072.8 1090.8" fill="none" stroke="#1a1a1a" stroke-width="2.6" />
<path d="M2931.1 1116.6 L3000.9 1116.6" fill="none" stroke="#1a1a1a" stroke-width="2.6" />
<path d="M2931.1 1143.3 L3072.8 1143.3 L3072.8 1201.5 L3045.2 1201.5" fill="none" stroke="#1a1a1a" stroke-width="2.6" />
<path d="M2931.1 1170 L2949.2 1170 L2949.2 1201.5 L2994.4 1201.5" fill="none" stroke="#1a1a1a" stroke-width="2.6" />
<circle cx="3020.3" cy="1201.5" r="25" fill="#fff" stroke="#1a1a1a" stroke-width="2.6"/>
<path d="M3030.3 1189.5 L3030.3 1213.5 L3009.3 1201.5 Z M3008.3 1188.5 L3008.3 1214.5 M2995.3 1201.5 L3045.3 1201.5" fill="none" stroke="#1a1a1a" stroke-width="2.4"/>
<path d="M2996 1180 L2984 1166 M3004 1175 L2992 1161" stroke="#1a1a1a" stroke-width="1.6"/>
<path d="M2982 1163 l7 2 l-4.5 4 Z M2990 1158 l7 2 l-4.5 4 Z" fill="#1a1a1a"/>
<rect x="2931" y="1288.4" width="159.3" height="265.2" fill="#b9d0dc" stroke="#333" stroke-width="1.6"/>
<rect x="2896" y="1341.7" width="35" height="26.5" fill="#fff799" stroke="#222" stroke-width="1.5"/>
<text font-size="22" text-anchor="middle" fill="#1a1a1a" transform="translate(2913.5 1362.6) scale(0.88 1)">6</text>
<rect x="2896" y="1368.2" width="35" height="26.5" fill="#fff799" stroke="#222" stroke-width="1.5"/>
<text font-size="22" text-anchor="middle" fill="#1a1a1a" transform="translate(2913.5 1389.1) scale(0.88 1)">5</text>
<rect x="2896" y="1394.6" width="35" height="26.5" fill="#fff799" stroke="#222" stroke-width="1.5"/>
<text font-size="22" text-anchor="middle" fill="#1a1a1a" transform="translate(2913.5 1415.5) scale(0.88 1)">+</text>
<rect x="2896" y="1421.1" width="35" height="26.5" fill="#fff799" stroke="#222" stroke-width="1.5"/>
<text font-size="22" text-anchor="middle" fill="#1a1a1a" transform="translate(2913.5 1442) scale(0.88 1)">4</text>
<rect x="2896" y="1447.5" width="35" height="26.5" fill="#fff799" stroke="#222" stroke-width="1.5"/>
<text font-size="22" text-anchor="middle" fill="#1a1a1a" transform="translate(2913.5 1468.5) scale(0.88 1)">3</text>
<rect x="2896" y="1474" width="35" height="26.5" fill="#fff799" stroke="#222" stroke-width="1.5"/>
<text font-size="22" text-anchor="middle" fill="#1a1a1a" transform="translate(2913.5 1494.9) scale(0.88 1)">2</text>
<rect x="2896" y="1500.5" width="35" height="26.5" fill="#fff799" stroke="#222" stroke-width="1.5"/>
<text font-size="22" text-anchor="middle" fill="#1a1a1a" transform="translate(2913.5 1521.4) scale(0.88 1)">1</text>
<g transform="translate(2909.4 1545.7) rotate(180) scale(1.0)" fill="none" stroke="#1a1a1a" stroke-width="1.5"><path d="M-11 0 L11 0 M-9.7 -7 L-2.7 0 L-9.7 7 M-3.5 -7 L3.5 0 L-3.5 7"/></g>
<path d="M2931 1355 L2950.2 1355 L2950.2 1341.3 L2994.8 1341.3" fill="none" stroke="#1a1a1a" stroke-width="2.6" />
<path d="M3044.9 1341.3 L3072 1341.3 L3072 1381.8 L2931 1381.8" fill="none" stroke="#1a1a1a" stroke-width="2.6" />
<path d="M2931 1408.5 L3019.9 1408.5 L3019.9 1542.7" fill="none" stroke="#1a1a1a" stroke-width="2.6" />
<path d="M3007.4 1529 L3031.5 1529" fill="none" stroke="#1a1a1a" stroke-width="2.6" />
<path d="M2931 1434.3 L2994.8 1434.3" fill="none" stroke="#1a1a1a" stroke-width="2.6" />
<path d="M2931 1460.7 L2994.8 1460.7" fill="none" stroke="#1a1a1a" stroke-width="2.6" />
<path d="M2931 1487.2 L2994.8 1487.2" fill="none" stroke="#1a1a1a" stroke-width="2.6" />
<path d="M2931 1513.4 L2994.8 1513.4" fill="none" stroke="#1a1a1a" stroke-width="2.6" />
<path d="M2946.9 1529 L2994.8 1529" fill="none" stroke="#1a1a1a" stroke-width="2.6" />
<circle cx="3019.9" cy="1341.3" r="25" fill="#fff" stroke="#1a1a1a" stroke-width="2.6"/>
<path d="M3029.9 1329.3 L3029.9 1353.3 L3008.9 1341.3 Z M3007.9 1328.3 L3007.9 1354.3 M2994.9 1341.3 L3044.9 1341.3" fill="none" stroke="#1a1a1a" stroke-width="2.4"/>
<path d="M2998 1318 L2986 1304 M3006 1313 L2994 1299" stroke="#1a1a1a" stroke-width="1.6"/>
<path d="M2984 1301 l7 2 l-4.5 4 Z M2992 1296 l7 2 l-4.5 4 Z" fill="#1a1a1a"/>
<rect x="2931" y="1606.1" width="159.3" height="229.4" fill="#b9d0dc" stroke="#333" stroke-width="1.6"/>
<rect x="2896" y="1628.2" width="35" height="26.5" fill="#fff799" stroke="#222" stroke-width="1.5"/>
<text font-size="22" text-anchor="middle" fill="#1a1a1a" transform="translate(2913.5 1649.2) scale(0.88 1)">1</text>
<rect x="2896" y="1681.2" width="35" height="26.5" fill="#fff799" stroke="#222" stroke-width="1.5"/>
<text font-size="22" text-anchor="middle" fill="#1a1a1a" transform="translate(2913.5 1702.2) scale(0.88 1)">2</text>
<rect x="2896" y="1734.1" width="35" height="26.5" fill="#fff799" stroke="#222" stroke-width="1.5"/>
<text font-size="22" text-anchor="middle" fill="#1a1a1a" transform="translate(2913.5 1755) scale(0.88 1)">3</text>
<rect x="2896" y="1787.5" width="35" height="26.5" fill="#fff799" stroke="#222" stroke-width="1.5"/>
<text font-size="22" text-anchor="middle" fill="#1a1a1a" transform="translate(2913.5 1808.5) scale(0.88 1)">4</text>
<g transform="translate(2914.8 1836.7) rotate(180) scale(1.0)" fill="none" stroke="#1a1a1a" stroke-width="1.5"><path d="M-11 0 L11 0 M-9.7 -7 L-2.7 0 L-9.7 7 M-3.5 -7 L3.5 0 L-3.5 7"/></g>
<path d="M2931 1641.6 L3055.3 1641.6 L3055.3 1800.9 L2931 1800.9" fill="none" stroke="#1a1a1a" stroke-width="2.6" />
<path d="M2931 1695 L3019.9 1695 L3019.9 1641.6" fill="none" stroke="#1a1a1a" stroke-width="2.6" />
<path d="M2931 1747 L3019.9 1747 L3019.9 1721.6 L3055.3 1721.6" fill="none" stroke="#1a1a1a" stroke-width="2.6" />
<rect x="2949" y="1631.1" width="53.4" height="20.9" fill="#fff" stroke="#1a1a1a" stroke-width="2.6"/>
<rect x="2949" y="1790.4" width="53.4" height="20.9" fill="#fff" stroke="#1a1a1a" stroke-width="2.6"/>
<rect x="3044.9" y="1652" width="20.8" height="53.4" fill="#fff" stroke="#1a1a1a" stroke-width="2.6"/>
<rect x="3044.9" y="1735.4" width="20.8" height="53.4" fill="#fff" stroke="#1a1a1a" stroke-width="2.6"/>
<path d="M2949 1800.9 L3002.4 1800.9" fill="none" stroke="#1a1a1a" stroke-width="2.2" />
<circle cx="3019.9" cy="1641.6" r="5.5" fill="#1a1a1a"/>
<circle cx="3055.3" cy="1721.6" r="5.5" fill="#1a1a1a"/>
<rect x="2931" y="1888" width="159.4" height="159" fill="#b9d0dc" stroke="#333" stroke-width="1.6"/>
<rect x="2896" y="1941.7" width="35" height="26.4" fill="#fff799" stroke="#222" stroke-width="1.5"/>
<text font-size="22" text-anchor="middle" fill="#1a1a1a" transform="translate(2913.5 1962.6) scale(0.88 1)">2</text>
<rect x="2896" y="1968.1" width="35" height="26.4" fill="#fff799" stroke="#222" stroke-width="1.5"/>
<text font-size="22" text-anchor="middle" fill="#1a1a1a" transform="translate(2913.5 1989) scale(0.88 1)">1</text>
<g transform="translate(2912.3 1913.7) rotate(180) scale(1.0)" fill="none" stroke="#1a1a1a" stroke-width="1.5"><path d="M-11 0 L11 0 M-9.7 -7 L-2.7 0 L-9.7 7 M-3.5 -7 L3.5 0 L-3.5 7"/></g>
<g transform="translate(2912.3 2011.7) rotate(180) scale(1.0)" fill="none" stroke="#1a1a1a" stroke-width="1.5"><path d="M-11 0 L11 0 M-9.7 -7 L-2.7 0 L-9.7 7 M-3.5 -7 L3.5 0 L-3.5 7"/></g>
<path d="M2931 1955 L2957 1955 L2957 1914.8 L3010.8 1914.8 L3010.8 1930" fill="none" stroke="#1a1a1a" stroke-width="2.6" />
<path d="M2931 1981.3 L2957 1981.3 L2957 2020 L3010.8 2020 L3010.8 2005" fill="none" stroke="#1a1a1a" stroke-width="2.6" />
<rect x="3001.8" y="1929.5" width="18" height="12" fill="#fff" stroke="#1a1a1a" stroke-width="2"/>
<rect x="3001.8" y="1993.5" width="18" height="12" fill="#fff" stroke="#1a1a1a" stroke-width="2"/>
<circle cx="3010.8" cy="1967.5" r="29" fill="#fff" stroke="#1a1a1a" stroke-width="2.6"/>
<path d="M3047 1942 L3063 1942 L3063 1994 L3047 1994 L3047 1989 L3057 1989 L3057 1947 L3047 1947 Z" fill="#fff" stroke="#1a1a1a" stroke-width="1.8"/>
<text font-size="29" font-weight="bold" text-anchor="middle" fill="#1a1a1a" transform="translate(2772.9 140.9) scale(0.9 1)">35</text>
<text font-size="29" font-weight="bold" text-anchor="middle" fill="#1a1a1a" transform="translate(2862.6 80.8) scale(0.9 1)">36</text>
<text font-size="29" font-weight="bold" text-anchor="middle" fill="#1a1a1a" transform="translate(3122.8 419.1) scale(0.9 1)">37</text>
<text font-size="29" font-weight="bold" text-anchor="middle" fill="#1a1a1a" transform="translate(3069.8 720.8) scale(0.9 1)">38</text>
<text font-size="29" font-weight="bold" text-anchor="middle" fill="#1a1a1a" transform="translate(3123.6 931.9) scale(0.9 1)">39</text>
<text font-size="29" font-weight="bold" text-anchor="middle" fill="#1a1a1a" transform="translate(3124 1328.8) scale(0.9 1)">40</text>
<text font-size="29" font-weight="bold" text-anchor="middle" fill="#1a1a1a" transform="translate(3124 1645.7) scale(0.9 1)">41</text>
<text font-size="29" font-weight="bold" text-anchor="middle" fill="#1a1a1a" transform="translate(3124.9 1914.4) scale(0.9 1)">42</text>
<text font-size="29" font-weight="bold" text-anchor="middle" fill="#1a1a1a" transform="translate(2775 2318.1) scale(0.9 1)">43</text>
<text font-size="29" font-weight="bold" text-anchor="middle" fill="#1a1a1a" transform="translate(3124.9 2285.8) scale(0.9 1)">44</text>
<rect x="3195.8" y="55.1" width="194.4" height="175.2" fill="#b9d0dc" stroke="#333" stroke-width="1.6"/>
<rect x="3390.2" y="72" width="52.4" height="35.3" fill="#fff799" stroke="#222" stroke-width="1.5"/>
<text font-size="22" text-anchor="middle" fill="#1a1a1a" transform="translate(3416.4 97.4) scale(0.88 1)">2</text>
<rect x="3390.2" y="107.3" width="52.4" height="35.3" fill="#fff799" stroke="#222" stroke-width="1.5"/>
<text font-size="22" text-anchor="middle" fill="#1a1a1a" transform="translate(3416.4 132.6) scale(0.88 1)">4</text>
<rect x="3390.2" y="142.6" width="52.4" height="35.3" fill="#fff799" stroke="#222" stroke-width="1.5"/>
<text font-size="22" text-anchor="middle" fill="#1a1a1a" transform="translate(3416.4 167.9) scale(0.88 1)">1</text>
<rect x="3390.2" y="177.9" width="52.4" height="35.3" fill="#fff799" stroke="#222" stroke-width="1.5"/>
<text font-size="22" text-anchor="middle" fill="#1a1a1a" transform="translate(3416.4 203.2) scale(0.88 1)">3</text>
<g transform="translate(3419.3 232.2) rotate(0) scale(1.0)" fill="none" stroke="#1a1a1a" stroke-width="1.5"><path d="M-11 0 L11 0 M-9.7 -7 L-2.7 0 L-9.7 7 M-3.5 -7 L3.5 0 L-3.5 7"/></g>
<path d="M3390.2 89 L3257.2 89 L3257.2 104" fill="none" stroke="#1a1a1a" stroke-width="2.6" />
<path d="M3257.2 181 L3257.2 195.2 L3301.3 195.2 L3301.3 124.8 L3390.2 124.8" fill="none" stroke="#1a1a1a" stroke-width="2.6" />
<path d="M3372.9 160.5 L3390.2 160.5" fill="none" stroke="#1a1a1a" stroke-width="2.6" />
<rect x="3319.4" y="149.3" width="53.5" height="21.4" fill="#fff" stroke="#1a1a1a" stroke-width="2.6"/>
<path d="M3390.2 195.2 L3344.7 195.2 L3344.7 180" fill="none" stroke="#1a1a1a" stroke-width="2.6" />
<path d="M3344.7 171.5 L3339 184 L3350.4 184 Z" fill="#1a1a1a"/>
<rect x="3249.4" y="104.1" width="18" height="12" fill="#fff" stroke="#1a1a1a" stroke-width="2"/>
<rect x="3249.4" y="168.9" width="18" height="12" fill="#fff" stroke="#1a1a1a" stroke-width="2"/>
<circle cx="3258.4" cy="142.5" r="29.4" fill="#fff" stroke="#1a1a1a" stroke-width="2.6"/>
<path d="M3222 117.6 L3206 117.6 L3206 169.6 L3222 169.6 L3222 164.6 L3212 164.6 L3212 122.6 L3222 122.6 Z" fill="#fff" stroke="#1a1a1a" stroke-width="1.8"/>
<rect x="3394.8" y="330.1" width="25.6" height="13.2" fill="#fff799" stroke="#333" stroke-width="1.2"/>
<path d="M3405.1 332.1 L3410.1 336.7 L3405.1 341.3" fill="none" stroke="#1a1a1a" stroke-width="1.6" />
<rect x="3394.8" y="349" width="25.6" height="13.2" fill="#fff799" stroke="#333" stroke-width="1.2"/>
<path d="M3405.1 351 L3410.1 355.6 L3405.1 360.2" fill="none" stroke="#1a1a1a" stroke-width="1.6" />
<g stroke="#333" stroke-width="1"><rect x="3301.3" y="339.5" width="18" height="12.5" rx="4" fill="#cfe3ee"/><rect x="3318.7" y="330" width="23" height="33.3" fill="url(#gCyl)"/><rect x="3341.3" y="320.7" width="24.1" height="51" rx="2" fill="url(#gCyl)"/><rect x="3346" y="318" width="9" height="56" fill="url(#gCyl)"/><rect x="3364" y="325.2" width="31" height="41.8" rx="3" fill="url(#gBrn)"/></g>
<path d="M3322 330 L3322 363 M3326.5 330 L3326.5 363 M3331 330 L3331 363 M3335.5 330 L3335.5 363" stroke="#555" stroke-width="1.2"/>
<rect x="3266.7" y="442.4" width="123.5" height="123.2" fill="#b9d0dc" stroke="#333" stroke-width="1.6"/>
<rect x="3293" y="439" width="70" height="7" fill="#fff"/>
<circle cx="3307.4" cy="442.4" r="5" fill="#1a1a1a"/>
<path d="M3307 442.4 L3344 442.4" stroke="#1a1a1a" stroke-width="2.6"/><path d="M3354.1 442.4 L3340 436.4 L3340 448.4 Z" fill="#1a1a1a"/>
<rect x="3390.2" y="486.5" width="35.5" height="17.7" fill="#fff799" stroke="#333" stroke-width="1.2"/>
<path d="M3404.3 488.5 L3411.6 495.4 L3404.3 502.2" fill="none" stroke="#1a1a1a" stroke-width="1.6" />
<rect x="3390.2" y="504.2" width="35.5" height="17.3" fill="#fff799" stroke="#333" stroke-width="1.2"/>
<path d="M3404.4 506.2 L3411.5 512.9 L3404.4 519.5" fill="none" stroke="#1a1a1a" stroke-width="1.6" />
<path d="M3390.2 495.2 L3354.1 495.2 L3354.1 468.8 L3301.3 468.8 L3301.3 488.4" fill="none" stroke="#1a1a1a" stroke-width="2.6" />
<path d="M3283.6 490.3 L3302.5 522.3" fill="none" stroke="#1a1a1a" stroke-width="2.6" />
<path d="M3390.2 512.9 L3354.1 512.9 L3354.1 539.3 L3301.3 539.3 L3301.3 522.3" fill="none" stroke="#1a1a1a" stroke-width="2.6" />
<rect x="3195.6" y="689.3" width="195.1" height="141.2" fill="#b9d0dc" stroke="#333" stroke-width="1.6"/>
<rect x="3390.7" y="706.8" width="51.9" height="35.4" fill="#fff799" stroke="#222" stroke-width="1.5"/>
<text font-size="22" text-anchor="middle" fill="#1a1a1a" transform="translate(3416.6 732.2) scale(0.88 1)">2</text>
<rect x="3390.7" y="742.2" width="51.9" height="35.4" fill="#fff799" stroke="#222" stroke-width="1.5"/>
<text font-size="22" text-anchor="middle" fill="#1a1a1a" transform="translate(3416.6 767.6) scale(0.88 1)">3</text>
<rect x="3390.7" y="777.6" width="51.9" height="35.4" fill="#fff799" stroke="#222" stroke-width="1.5"/>
<text font-size="22" text-anchor="middle" fill="#1a1a1a" transform="translate(3416.6 803) scale(0.88 1)">1</text>
<g transform="translate(3420 830.5) rotate(0) scale(1.0)" fill="none" stroke="#1a1a1a" stroke-width="1.5"><path d="M-11 0 L11 0 M-9.7 -7 L-2.7 0 L-9.7 7 M-3.5 -7 L3.5 0 L-3.5 7"/></g>
<path d="M3256.9 724.4 L3230.7 724.4 L3230.7 795.4 L3287 795.4" fill="none" stroke="#1a1a1a" stroke-width="2.6" />
<path d="M3311.5 724.4 L3337.2 724.4 L3369.2 706.8" fill="none" stroke="#1a1a1a" stroke-width="2.6" />
<path d="M3369.2 724.4 L3390.7 724.4" fill="none" stroke="#1a1a1a" stroke-width="2.6" />
<path d="M3230.7 760.3 L3390.7 760.3" fill="none" stroke="#1a1a1a" stroke-width="2.6" />
<path d="M3317 795.4 L3390.7 795.4" fill="none" stroke="#1a1a1a" stroke-width="2.6" />
<rect x="3256.9" y="714.6" width="54.6" height="20.7" fill="#fff" stroke="#1a1a1a" stroke-width="2.6"/>
<path d="M3275 719 L3275 731" fill="none" stroke="#1a1a1a" stroke-width="1.4" />
<path d="M3284 719 L3284 731" fill="none" stroke="#1a1a1a" stroke-width="1.4" />
<path d="M3293 719 L3293 731" fill="none" stroke="#1a1a1a" stroke-width="1.4" />
<circle cx="3230.7" cy="760.3" r="5.5" fill="#1a1a1a"/>
<circle cx="3302.1" cy="795.4" r="14.8" fill="#fff" stroke="#00a0e3" stroke-width="2.6"/>
<path d="M3291.6 784.9 L3312.6 805.9 M3291.6 805.9 L3312.6 784.9" stroke="#00a0e3" stroke-width="1.6" fill="none"/>
<rect x="3248.3" y="918.3" width="142.4" height="124.1" fill="#b9d0dc" stroke="#333" stroke-width="1.6"/>
<rect x="3390.7" y="962.4" width="35.1" height="17.6" fill="#fff799" stroke="#333" stroke-width="1.2"/>
<path d="M3404.6 964.4 L3411.9 971.2 L3404.6 978" fill="none" stroke="#1a1a1a" stroke-width="1.6" />
<rect x="3390.7" y="980" width="35.1" height="18.3" fill="#fff799" stroke="#333" stroke-width="1.2"/>
<path d="M3404.4 982 L3412.1 989.1 L3404.4 996.3" fill="none" stroke="#1a1a1a" stroke-width="1.6" />
<path d="M3390.7 971.4 L3354.4 971.4 L3354.4 936.2 L3301 936.2 L3301 964.3" fill="none" stroke="#1a1a1a" stroke-width="2.6" />
<path d="M3390.7 988.5 L3354.4 988.5 L3354.4 1024.8 L3301 1024.8 L3301 996.3" fill="none" stroke="#1a1a1a" stroke-width="2.6" />
<rect x="3269" y="964.3" width="65.1" height="32" fill="#fff" stroke="#1a1a1a" stroke-width="2.6"/>
<path d="M3390.7 1130.2 L3368.4 1130.2 L3378.4 1139 L3368.4 1147.8 L3390.7 1147.8 Z" fill="#fff799" stroke="#333" stroke-width="1.1"/>
<path d="M3390.7 1147.8 L3368.4 1147.8 L3378.4 1156.6 L3368.4 1165.4 L3390.7 1165.4 Z" fill="#fff799" stroke="#333" stroke-width="1.1"/>
<path d="M3390.7 1165.4 L3368.4 1165.4 L3378.4 1174.2 L3368.4 1183 L3390.7 1183 Z" fill="#fff799" stroke="#333" stroke-width="1.1"/>
<path d="M3390.7 1183 L3368.4 1183 L3378.4 1191.8 L3368.4 1200.6 L3390.7 1200.6 Z" fill="#fff799" stroke="#333" stroke-width="1.1"/>
<path d="M3390.7 1200.6 L3368.4 1200.6 L3378.4 1209.4 L3368.4 1218.2 L3390.7 1218.2 Z" fill="#fff799" stroke="#333" stroke-width="1.1"/>
<path d="M3390.7 1218.2 L3368.4 1218.2 L3378.4 1227 L3368.4 1235.8 L3390.7 1235.8 Z" fill="#fff799" stroke="#333" stroke-width="1.1"/>
<path d="M3390.7 1235.8 L3368.4 1235.8 L3378.4 1244.6 L3368.4 1253.4 L3390.7 1253.4 Z" fill="#fff799" stroke="#333" stroke-width="1.1"/>
<path d="M3390.7 1253.4 L3368.4 1253.4 L3378.4 1262.2 L3368.4 1271 L3390.7 1271 Z" fill="#fff799" stroke="#333" stroke-width="1.1"/>
<path d="M3390.7 1288.3 L3368.4 1288.3 L3378.4 1297.2 L3368.4 1306.2 L3390.7 1306.2 Z" fill="#fff799" stroke="#333" stroke-width="1.1"/>
<path d="M3390.7 1306.2 L3368.4 1306.2 L3378.4 1315.2 L3368.4 1324.1 L3390.7 1324.1 Z" fill="#fff799" stroke="#333" stroke-width="1.1"/>
<path d="M3390.7 1324.1 L3368.4 1324.1 L3378.4 1333 L3368.4 1342 L3390.7 1342 Z" fill="#fff799" stroke="#333" stroke-width="1.1"/>
<path d="M3390.7 1342 L3368.4 1342 L3378.4 1350.9 L3368.4 1359.9 L3390.7 1359.9 Z" fill="#fff799" stroke="#333" stroke-width="1.1"/>
<rect x="3254.5" y="1462.4" width="50" height="40" rx="19" fill="#a5d8f3" stroke="#1a8fd0" stroke-width="1.5"/>
<circle cx="3273.8" cy="1482.4" r="15" fill="#fff" stroke="#00a0e3" stroke-width="2.4"/>
<path d="M3263.2 1471.8 L3284.4 1493 M3263.2 1493 L3284.4 1471.8" stroke="#00a0e3" stroke-width="1.6" fill="none"/>
<g stroke="#333" stroke-width="1"><rect x="3298" y="1460.4" width="15" height="44" fill="url(#gCyl)"/><path d="M3311 1456.4 L3325 1456.4 L3337 1465.4 L3364 1465.4 L3364 1499.4 L3337 1499.4 L3325 1508.4 L3311 1508.4 Z" fill="url(#gCyl)"/></g>
<rect x="3363.5" y="1467.1" width="26.5" height="13.5" fill="#fff799" stroke="#333" stroke-width="1.2"/>
<path d="M3374.2 1469.1 L3379.3 1473.9 L3374.2 1478.6" fill="none" stroke="#1a1a1a" stroke-width="1.6" />
<rect x="3363.5" y="1484.2" width="26.5" height="13.8" fill="#fff799" stroke="#333" stroke-width="1.2"/>
<path d="M3374.1 1486.2 L3379.4 1491.1 L3374.1 1496" fill="none" stroke="#1a1a1a" stroke-width="1.6" />
<rect x="3254.5" y="1620.5" width="50" height="40" rx="19" fill="#a5d8f3" stroke="#1a8fd0" stroke-width="1.5"/>
<circle cx="3273.8" cy="1640.5" r="15" fill="#fff" stroke="#00a0e3" stroke-width="2.4"/>
<path d="M3263.2 1629.9 L3284.4 1651.1 M3263.2 1651.1 L3284.4 1629.9" stroke="#00a0e3" stroke-width="1.6" fill="none"/>
<g stroke="#333" stroke-width="1"><rect x="3298" y="1618.5" width="15" height="44" fill="url(#gCyl)"/><path d="M3311 1614.5 L3325 1614.5 L3337 1623.5 L3364 1623.5 L3364 1657.5 L3337 1657.5 L3325 1666.5 L3311 1666.5 Z" fill="url(#gCyl)"/></g>
<rect x="3363.5" y="1625.2" width="26.5" height="13.5" fill="#fff799" stroke="#333" stroke-width="1.2"/>
<path d="M3374.2 1627.2 L3379.3 1632 L3374.2 1636.7" fill="none" stroke="#1a1a1a" stroke-width="1.6" />
<rect x="3363.5" y="1642.3" width="26.5" height="13.8" fill="#fff799" stroke="#333" stroke-width="1.2"/>
<path d="M3374.1 1644.3 L3379.4 1649.2 L3374.1 1654.1" fill="none" stroke="#1a1a1a" stroke-width="1.6" />
<rect x="3248.6" y="1774.3" width="141.6" height="325.7" fill="#b97a33" stroke="#3a2a1a" stroke-width="1.6"/>
<rect x="3390.2" y="1792" width="35" height="26.4" fill="#fff799" stroke="#222" stroke-width="1.5"/>
<text font-size="22" text-anchor="middle" fill="#1a1a1a" transform="translate(3407.7 1812.9) scale(0.88 1)">B</text>
<rect x="3390.2" y="1818.4" width="35" height="26.4" fill="#fff799" stroke="#222" stroke-width="1.5"/>
<text font-size="22" text-anchor="middle" fill="#1a1a1a" transform="translate(3407.7 1839.3) scale(0.88 1)">A</text>
<rect x="3390.2" y="1871.7" width="35" height="26.4" fill="#fff799" stroke="#222" stroke-width="1.5"/>
<text font-size="22" text-anchor="middle" fill="#1a1a1a" transform="translate(3407.7 1892.6) scale(0.88 1)">8</text>
<rect x="3390.2" y="1898.1" width="35" height="26.4" fill="#fff799" stroke="#222" stroke-width="1.5"/>
<text font-size="22" text-anchor="middle" fill="#1a1a1a" transform="translate(3407.7 1919) scale(0.88 1)">7</text>
<rect x="3390.2" y="1924.5" width="35" height="26.4" fill="#fff799" stroke="#222" stroke-width="1.5"/>
<text font-size="22" text-anchor="middle" fill="#1a1a1a" transform="translate(3407.7 1945.4) scale(0.88 1)">6</text>
<rect x="3390.2" y="1950.8" width="35" height="26.4" fill="#fff799" stroke="#222" stroke-width="1.5"/>
<text font-size="22" text-anchor="middle" fill="#1a1a1a" transform="translate(3407.7 1971.7) scale(0.88 1)">5</text>
<rect x="3390.2" y="1977.2" width="35" height="26.4" fill="#fff799" stroke="#222" stroke-width="1.5"/>
<text font-size="22" text-anchor="middle" fill="#1a1a1a" transform="translate(3407.7 1998.1) scale(0.88 1)">4</text>
<rect x="3390.2" y="2003.6" width="35" height="26.4" fill="#fff799" stroke="#222" stroke-width="1.5"/>
<text font-size="22" text-anchor="middle" fill="#1a1a1a" transform="translate(3407.7 2024.5) scale(0.88 1)">3</text>
<rect x="3390.2" y="2030" width="35" height="26.4" fill="#fff799" stroke="#222" stroke-width="1.5"/>
<text font-size="22" text-anchor="middle" fill="#1a1a1a" transform="translate(3407.7 2050.9) scale(0.88 1)">2</text>
<rect x="3390.2" y="2056.4" width="35" height="26.4" fill="#fff799" stroke="#222" stroke-width="1.5"/>
<text font-size="22" text-anchor="middle" fill="#1a1a1a" transform="translate(3407.7 2077.2) scale(0.88 1)">1</text>
<g transform="translate(3410 2099) rotate(0) scale(1.0)" fill="none" stroke="#1a1a1a" stroke-width="1.5"><path d="M-11 0 L11 0 M-9.7 -7 L-2.7 0 L-9.7 7 M-3.5 -7 L3.5 0 L-3.5 7"/></g>
<rect x="3213.1" y="2188.6" width="177.6" height="194.2" fill="#b9d0dc" stroke="#333" stroke-width="1.6"/>
<rect x="3390.7" y="2245.9" width="34.8" height="26.5" fill="#fff799" stroke="#222" stroke-width="1.5"/>
<text font-size="22" text-anchor="middle" fill="#1a1a1a" transform="translate(3408.1 2266.8) scale(0.88 1)">1</text>
<rect x="3390.7" y="2272.4" width="34.8" height="26.5" fill="#fff799" stroke="#222" stroke-width="1.5"/>
<text font-size="22" text-anchor="middle" fill="#1a1a1a" transform="translate(3408.1 2293.3) scale(0.88 1)">3</text>
<rect x="3390.7" y="2298.8" width="34.8" height="26.5" fill="#fff799" stroke="#222" stroke-width="1.5"/>
<text font-size="22" text-anchor="middle" fill="#1a1a1a" transform="translate(3408.1 2319.8) scale(0.88 1)">2</text>
<g transform="translate(3410 2341) rotate(0) scale(1.0)" fill="none" stroke="#1a1a1a" stroke-width="1.5"><path d="M-11 0 L11 0 M-9.7 -7 L-2.7 0 L-9.7 7 M-3.5 -7 L3.5 0 L-3.5 7"/></g>
<path d="M3390.7 2259 L3372.4 2259 L3372.4 2206.8 L3230.9 2206.8 L3230.9 2311.6 L3258.3 2311.6 L3258.3 2319.4" fill="none" stroke="#1a1a1a" stroke-width="3.2" />
<path d="M3230.9 2242 L3257.5 2242 L3278.9 2230.4" fill="none" stroke="#1a1a1a" stroke-width="3.2" />
<path d="M3278.4 2242 L3354.7 2242 L3354.7 2329.4 L3334 2329.4" fill="none" stroke="#1a1a1a" stroke-width="3.2" />
<path d="M3230.9 2285.8 L3257.5 2285.8 L3278.9 2274.2" fill="none" stroke="#1a1a1a" stroke-width="3.2" />
<path d="M3278.4 2285.8 L3390.7 2285.8" fill="none" stroke="#1a1a1a" stroke-width="3.2" />
<path d="M3251.3 2329.4 L3283.8 2329.4" fill="none" stroke="#1a1a1a" stroke-width="5" />
<path d="M3283.8 2329.4 L3305 2329.4" fill="none" stroke="#1a1a1a" stroke-width="3.2" />
<path d="M3258.3 2339.5 L3258.3 2347.2 L3230.9 2347.2 L3230.9 2365 L3372.4 2365 L3372.4 2311.6 L3390.7 2311.6" fill="none" stroke="#1a1a1a" stroke-width="3.2" />
<circle cx="3230.9" cy="2242" r="6.2" fill="#1a1a1a"/>
<circle cx="3230.9" cy="2285.8" r="6.2" fill="#1a1a1a"/>
<circle cx="3354.7" cy="2285.8" r="6.2" fill="#1a1a1a"/>
<circle cx="3283.8" cy="2329.4" r="6.2" fill="#1a1a1a"/>
<circle cx="3319.4" cy="2242" r="14" fill="#e8f4fb" stroke="#00a0e3" stroke-width="3.4"/>
<path d="M3309.5 2232.1 L3329.3 2251.9 M3309.5 2251.9 L3329.3 2232.1" stroke="#00a0e3" stroke-width="1.6" fill="none"/>
<circle cx="3319.4" cy="2285.8" r="14" fill="#e8f4fb" stroke="#00a0e3" stroke-width="3.4"/>
<path d="M3309.5 2275.9 L3329.3 2295.7 M3309.5 2295.7 L3329.3 2275.9" stroke="#00a0e3" stroke-width="1.6" fill="none"/>
<circle cx="3319.4" cy="2329.4" r="14" fill="#e8f4fb" stroke="#00a0e3" stroke-width="3.4"/>
<path d="M3309.5 2319.5 L3329.3 2339.3 M3309.5 2339.3 L3329.3 2319.5" stroke="#00a0e3" stroke-width="1.6" fill="none"/>
<path d="M3777 390.2 L3777 70 Q3777 55.6 3791 55.6 L3815 55.6 C3870 60 3912 120 3916 180 C3919 230 3920 280 3920 372 Q3920 390.2 3902 390.2 Z" fill="#ed1c24" stroke="#1a8fd0" stroke-width="2.6"/>
<clipPath id="clipT0"><path d="M3777 390.2 L3777 70 Q3777 55.6 3791 55.6 L3815 55.6 C3870 60 3912 120 3916 180 C3919 230 3920 280 3920 372 Q3920 390.2 3902 390.2 Z"/></clipPath>
<rect x="3813.4" y="178.6" width="120" height="140.5" rx="8" fill="url(#gTail)" stroke="#1a8fd0" stroke-width="1.6" clip-path="url(#clipT0)"/>
<path d="M3777 390.2 L3777 70 Q3777 55.6 3791 55.6 L3815 55.6 C3870 60 3912 120 3916 180 C3919 230 3920 280 3920 372 Q3920 390.2 3902 390.2 Z" fill="none" stroke="#1a8fd0" stroke-width="2.6"/>
<rect x="3724.8" y="125.1" width="52.3" height="35.3" fill="#fff799" stroke="#222" stroke-width="1.5"/>
<rect x="3724.8" y="160.4" width="52.3" height="35.3" fill="#fff799" stroke="#222" stroke-width="1.5"/>
<rect x="3724.8" y="195.6" width="52.3" height="35.3" fill="#fff799" stroke="#222" stroke-width="1.5"/>
<rect x="3724.8" y="230.9" width="52.3" height="35.3" fill="#fff799" stroke="#222" stroke-width="1.5"/>
<rect x="3724.8" y="266.2" width="52.3" height="35.3" fill="#fff799" stroke="#222" stroke-width="1.5"/>
<rect x="3724.8" y="301.5" width="52.3" height="35.3" fill="#fff799" stroke="#222" stroke-width="1.5"/>
<path d="M3777.1 142.7 L3793.9 142.7 L3793.9 107.1 L3826.7 107.1" fill="none" stroke="#1a1a1a" stroke-width="2.4" />
<path d="M3777.1 177.8 L3806.4 177.8 L3806.4 142.7 L3826.7 142.7" fill="none" stroke="#1a1a1a" stroke-width="2.4" />
<path d="M3870.8 125.1 L3883.7 125.1 L3883.7 354.2 L3868 354.2" fill="none" stroke="#1a1a1a" stroke-width="2.4" />
<path d="M3777.1 212.9 L3883.7 212.9" fill="none" stroke="#1a1a1a" stroke-width="2.4" />
<path d="M3777.1 248.8 L3883.7 248.8" fill="none" stroke="#1a1a1a" stroke-width="2.4" />
<path d="M3777.1 284 L3883.7 284" fill="none" stroke="#1a1a1a" stroke-width="2.4" />
<path d="M3777.1 319.1 L3805.6 319.1 L3805.6 354.2 L3830 354.2" fill="none" stroke="#1a1a1a" stroke-width="2.4" />
<circle cx="3883.7" cy="212.9" r="5.5" fill="#1a1a1a"/>
<circle cx="3883.7" cy="248.8" r="5.5" fill="#1a1a1a"/>
<circle cx="3883.7" cy="284" r="5.5" fill="#1a1a1a"/>
<rect x="3828" y="86.1" width="41.2" height="78" rx="20.6" fill="#fff" stroke="#00a0e3" stroke-width="2.8"/>
<path d="M3832 98.1 L3865 131.1 M3865 98.1 L3832 131.1 M3832 119.1 L3865 152.1 M3865 119.1 L3832 152.1" stroke="#00a0e3" stroke-width="1.5" fill="none"/>
<circle cx="3848.6" cy="212.9" r="18.3" fill="#fff" stroke="#00a0e3" stroke-width="2.6"/>
<path d="M3835.7 200 L3861.5 225.8 M3835.7 225.8 L3861.5 200" stroke="#00a0e3" stroke-width="1.6" fill="none"/>
<circle cx="3848.6" cy="284" r="18.3" fill="#f7a94a" stroke="#00a0e3" stroke-width="2.6"/>
<path d="M3835.7 271.1 L3861.5 296.9 M3835.7 296.9 L3861.5 271.1" stroke="#00a0e3" stroke-width="1.6" fill="none"/>
<circle cx="3848.6" cy="354.2" r="18.3" fill="#fff" stroke="#00a0e3" stroke-width="2.6"/>
<path d="M3835.7 341.3 L3861.5 367.1 M3835.7 367.1 L3861.5 341.3" stroke="#00a0e3" stroke-width="1.6" fill="none"/>
<g transform="translate(3751 353.5) rotate(180) scale(1.0)" fill="none" stroke="#1a1a1a" stroke-width="1.5"><path d="M-11 0 L11 0 M-9.7 -7 L-2.7 0 L-9.7 7 M-3.5 -7 L3.5 0 L-3.5 7"/></g>
<path d="M3777 2048.4 L3777 2368.6 Q3777 2383 3791 2383 L3815 2383 C3870 2378.6 3912 2318.6 3916 2258.6 C3919 2208.6 3920 2158.6 3920 2066.6 Q3920 2048.4 3902 2048.4 Z" fill="#ed1c24" stroke="#1a8fd0" stroke-width="2.6"/>
<clipPath id="clipT1"><path d="M3777 2048.4 L3777 2368.6 Q3777 2383 3791 2383 L3815 2383 C3870 2378.6 3912 2318.6 3916 2258.6 C3919 2208.6 3920 2158.6 3920 2066.6 Q3920 2048.4 3902 2048.4 Z"/></clipPath>
<rect x="3813.4" y="2119.5" width="120" height="140.5" rx="8" fill="url(#gTail)" stroke="#1a8fd0" stroke-width="1.6" clip-path="url(#clipT1)"/>
<path d="M3777 2048.4 L3777 2368.6 Q3777 2383 3791 2383 L3815 2383 C3870 2378.6 3912 2318.6 3916 2258.6 C3919 2208.6 3920 2158.6 3920 2066.6 Q3920 2048.4 3902 2048.4 Z" fill="none" stroke="#1a8fd0" stroke-width="2.6"/>
<rect x="3724.8" y="2101.9" width="52.3" height="35.3" fill="#fff799" stroke="#222" stroke-width="1.5"/>
<rect x="3724.8" y="2137.2" width="52.3" height="35.3" fill="#fff799" stroke="#222" stroke-width="1.5"/>
<rect x="3724.8" y="2172.4" width="52.3" height="35.3" fill="#fff799" stroke="#222" stroke-width="1.5"/>
<rect x="3724.8" y="2207.7" width="52.3" height="35.3" fill="#fff799" stroke="#222" stroke-width="1.5"/>
<rect x="3724.8" y="2243" width="52.3" height="35.3" fill="#fff799" stroke="#222" stroke-width="1.5"/>
<rect x="3724.8" y="2278.2" width="52.3" height="35.3" fill="#fff799" stroke="#222" stroke-width="1.5"/>
<path d="M3777.1 2295.9 L3793.9 2295.9 L3793.9 2331.5 L3826.7 2331.5" fill="none" stroke="#1a1a1a" stroke-width="2.4" />
<path d="M3777.1 2260.8 L3806.4 2260.8 L3806.4 2295.9 L3826.7 2295.9" fill="none" stroke="#1a1a1a" stroke-width="2.4" />
<path d="M3870.8 2313.5 L3883.7 2313.5 L3883.7 2084.4 L3868 2084.4" fill="none" stroke="#1a1a1a" stroke-width="2.4" />
<path d="M3777.1 2225.7 L3883.7 2225.7" fill="none" stroke="#1a1a1a" stroke-width="2.4" />
<path d="M3777.1 2189.8 L3883.7 2189.8" fill="none" stroke="#1a1a1a" stroke-width="2.4" />
<path d="M3777.1 2154.6 L3883.7 2154.6" fill="none" stroke="#1a1a1a" stroke-width="2.4" />
<path d="M3777.1 2119.5 L3805.6 2119.5 L3805.6 2084.4 L3830 2084.4" fill="none" stroke="#1a1a1a" stroke-width="2.4" />
<circle cx="3883.7" cy="2225.7" r="5.5" fill="#1a1a1a"/>
<circle cx="3883.7" cy="2189.8" r="5.5" fill="#1a1a1a"/>
<circle cx="3883.7" cy="2154.6" r="5.5" fill="#1a1a1a"/>
<rect x="3828" y="2274.5" width="41.2" height="78" rx="20.6" fill="#fff" stroke="#00a0e3" stroke-width="2.8"/>
<path d="M3832 2286.5 L3865 2319.5 M3865 2286.5 L3832 2319.5 M3832 2307.5 L3865 2340.5 M3865 2307.5 L3832 2340.5" stroke="#00a0e3" stroke-width="1.5" fill="none"/>
<circle cx="3848.6" cy="2225.7" r="18.3" fill="#fff" stroke="#00a0e3" stroke-width="2.6"/>
<path d="M3835.7 2212.8 L3861.5 2238.6 M3835.7 2238.6 L3861.5 2212.8" stroke="#00a0e3" stroke-width="1.6" fill="none"/>
<circle cx="3848.6" cy="2154.6" r="18.3" fill="#f7a94a" stroke="#00a0e3" stroke-width="2.6"/>
<path d="M3835.7 2141.7 L3861.5 2167.5 M3835.7 2167.5 L3861.5 2141.7" stroke="#00a0e3" stroke-width="1.6" fill="none"/>
<circle cx="3848.6" cy="2084.4" r="18.3" fill="#fff" stroke="#00a0e3" stroke-width="2.6"/>
<path d="M3835.7 2071.5 L3861.5 2097.3 M3835.7 2097.3 L3861.5 2071.5" stroke="#00a0e3" stroke-width="1.6" fill="none"/>
<g transform="translate(3751 2329) rotate(180) scale(1.0)" fill="none" stroke="#1a1a1a" stroke-width="1.5"><path d="M-11 0 L11 0 M-9.7 -7 L-2.7 0 L-9.7 7 M-3.5 -7 L3.5 0 L-3.5 7"/></g>
<rect x="3777.9" y="442.1" width="140.9" height="141.3" fill="#b9d0dc" stroke="#333" stroke-width="1.6"/>
<rect x="3724.8" y="477.2" width="53.1" height="35.6" fill="#fff799" stroke="#222" stroke-width="1.5"/>
<text font-size="22" text-anchor="middle" fill="#1a1a1a" transform="translate(3751.4 502.7) scale(0.88 1)">1</text>
<rect x="3724.8" y="512.8" width="53.1" height="35.5" fill="#fff799" stroke="#222" stroke-width="1.5"/>
<text font-size="22" text-anchor="middle" fill="#1a1a1a" transform="translate(3751.4 538.2) scale(0.88 1)">2</text>
<g transform="translate(3751 567) rotate(180) scale(1.0)" fill="none" stroke="#1a1a1a" stroke-width="1.5"><path d="M-11 0 L11 0 M-9.7 -7 L-2.7 0 L-9.7 7 M-3.5 -7 L3.5 0 L-3.5 7"/></g>
<path d="M3777.9 494.8 L3804.5 494.8 L3804.5 458.9 L3849.4 458.9 L3849.4 475" fill="none" stroke="#1a1a1a" stroke-width="2.6" />
<path d="M3777.9 529.9 L3804.5 529.9 L3804.5 564.3 L3849.4 564.3 L3849.4 550" fill="none" stroke="#1a1a1a" stroke-width="2.6" />
<rect x="3840.4" y="474.8" width="18" height="12" fill="#fff" stroke="#1a1a1a" stroke-width="2"/>
<rect x="3840.4" y="537.8" width="18" height="12" fill="#fff" stroke="#1a1a1a" stroke-width="2"/>
<circle cx="3849.4" cy="512.3" r="28.5" fill="#fff" stroke="#1a1a1a" stroke-width="2.6"/>
<path d="M3885.3 487 L3901.3 487 L3901.3 539 L3885.3 539 L3885.3 534 L3895.3 534 L3895.3 492 L3885.3 492 Z" fill="#fff" stroke="#1a1a1a" stroke-width="1.8"/>
<rect x="3777.6" y="636.2" width="89.2" height="106" fill="#b9d0dc" stroke="#333" stroke-width="1.6"/>
<rect x="3742.6" y="671.5" width="35" height="17.5" fill="#fff799" stroke="#333" stroke-width="1.2"/>
<path d="M3763.7 673.5 L3756.5 680.2 L3763.7 687" fill="none" stroke="#1a1a1a" stroke-width="1.6" />
<rect x="3742.6" y="689" width="35" height="17.8" fill="#fff799" stroke="#333" stroke-width="1.2"/>
<path d="M3763.8 691 L3756.4 697.9 L3763.8 704.8" fill="none" stroke="#1a1a1a" stroke-width="1.6" />
<path d="M3777.6 680.6 L3795.4 680.6 L3795.4 653.7 L3830.8 653.7 L3830.8 673.9" fill="none" stroke="#1a1a1a" stroke-width="2.6" />
<path d="M3830.8 709.2 L3849.3 673.9" fill="none" stroke="#1a1a1a" stroke-width="2.6" />
<path d="M3777.6 698.1 L3795.4 698.1 L3795.4 725 L3830.8 725 L3830.8 709.2" fill="none" stroke="#1a1a1a" stroke-width="2.6" />
<rect x="3777.6" y="795" width="89.2" height="123.9" rx="9" fill="#a3bccb" stroke="#4a5a64" stroke-width="1.4"/>
<rect x="3783.4" y="800.8" width="77.6" height="112.3" rx="5" fill="url(#gLampBox)" stroke="#1a8fd0" stroke-width="1.8"/>
<rect x="3742.6" y="821.4" width="35" height="18" fill="#fff799" stroke="#333" stroke-width="1.2"/>
<path d="M3763.9 823.4 L3756.3 830.4 L3763.9 837.4" fill="none" stroke="#1a1a1a" stroke-width="1.6" />
<rect x="3742.6" y="874.2" width="35" height="18" fill="#fff799" stroke="#333" stroke-width="1.2"/>
<path d="M3763.9 876.2 L3756.3 883.2 L3763.9 890.2" fill="none" stroke="#1a1a1a" stroke-width="1.6" />
<path d="M3777.6 830.4 L3822.3 830.4 L3822.3 842.6" fill="none" stroke="#1a1a1a" stroke-width="2.4" />
<path d="M3777.6 883.2 L3822.3 883.2 L3822.3 870.6" fill="none" stroke="#1a1a1a" stroke-width="2.4" />
<circle cx="3822.3" cy="856.6" r="14" fill="#fff" stroke="#00a0e3" stroke-width="2.4"/>
<path d="M3812.4 846.7 L3832.2 866.5 M3812.4 866.5 L3832.2 846.7" stroke="#00a0e3" stroke-width="1.6" fill="none"/>
<rect x="3777.6" y="971.7" width="89.2" height="123.6" rx="9" fill="#a3bccb" stroke="#4a5a64" stroke-width="1.4"/>
<rect x="3783.4" y="977.5" width="77.6" height="112" rx="5" fill="url(#gLampBox)" stroke="#1a8fd0" stroke-width="1.8"/>
<rect x="3742.6" y="998.1" width="35" height="18" fill="#fff799" stroke="#333" stroke-width="1.2"/>
<path d="M3763.9 1000.1 L3756.3 1007.1 L3763.9 1014.1" fill="none" stroke="#1a1a1a" stroke-width="1.6" />
<rect x="3742.6" y="1051.2" width="35" height="18" fill="#fff799" stroke="#333" stroke-width="1.2"/>
<path d="M3763.9 1053.2 L3756.3 1060.2 L3763.9 1067.2" fill="none" stroke="#1a1a1a" stroke-width="1.6" />
<path d="M3777.6 1007.1 L3822.3 1007.1 L3822.3 1019.3" fill="none" stroke="#1a1a1a" stroke-width="2.4" />
<path d="M3777.6 1060.2 L3822.3 1060.2 L3822.3 1047.3" fill="none" stroke="#1a1a1a" stroke-width="2.4" />
<circle cx="3822.3" cy="1033.3" r="14" fill="#fff" stroke="#00a0e3" stroke-width="2.4"/>
<path d="M3812.4 1023.4 L3832.2 1043.2 M3812.4 1043.2 L3832.2 1023.4" stroke="#00a0e3" stroke-width="1.6" fill="none"/>
<circle cx="3689.4" cy="830.4" r="8.5" fill="#1a1a1a"/>
<circle cx="3707.2" cy="882.7" r="8.5" fill="#1a1a1a"/>
<path d="M3919.8 1147.4 L3902 1147.4 Q3883.9 1147.4 3883.9 1166 L3883.9 1323 Q3883.9 1341.7 3902 1341.7 L3919.8 1341.7 Z" fill="#ed1c24" stroke="#3a1a1a" stroke-width="1.4"/>
<rect x="3848" y="1227.1" width="35.9" height="17.4" fill="#fff799" stroke="#333" stroke-width="1.2"/>
<path d="M3869.6 1229.1 L3862.3 1235.8 L3869.6 1242.5" fill="none" stroke="#1a1a1a" stroke-width="1.6" />
<rect x="3848" y="1244.5" width="35.9" height="18.5" fill="#fff799" stroke="#333" stroke-width="1.2"/>
<path d="M3869.9 1246.5 L3862 1253.8 L3869.9 1261" fill="none" stroke="#1a1a1a" stroke-width="1.6" />
<path d="M3759.3 1441 Q3759.3 1423 3777 1419.3 L3900 1393.6 Q3919.8 1389.5 3919.8 1409 L3919.8 1802.5 Q3919.8 1822 3900 1817.6 L3777 1790.5 Q3759.3 1786.6 3759.3 1769 Z" fill="url(#gWin)" stroke="#0f6f9f" stroke-width="2.6"/>
<path d="M3795.2 1450.5 L3795.2 1762.5" fill="none" stroke="#b8834a" stroke-width="2.2" />
<path d="M3818.1 1445.5 L3818.1 1767.5" fill="none" stroke="#b8834a" stroke-width="2.2" />
<path d="M3840 1440.8 L3840 1772.2" fill="none" stroke="#b8834a" stroke-width="2.2" />
<path d="M3862.5 1435.8 L3862.5 1777.2" fill="none" stroke="#b8834a" stroke-width="2.2" />
<path d="M3883.9 1431.2 L3883.9 1781.8" fill="none" stroke="#b8834a" stroke-width="2.2" />
<path d="M3780.3 1453.8 L3898.8 1427.9" fill="none" stroke="#b8834a" stroke-width="5.5" />
<path d="M3780.3 1759.2 L3898.8 1785.1" fill="none" stroke="#b8834a" stroke-width="5.5" />
<path d="M3760 1452.8 L3781 1452.8" fill="none" stroke="#b8834a" stroke-width="1.6" />
<path d="M3760 1759.2 L3781 1759.2" fill="none" stroke="#b8834a" stroke-width="1.6" />
<rect x="3724.5" y="1443.8" width="35.8" height="18.4" fill="#fff799" stroke="#333" stroke-width="1.2"/>
<path d="M3746.3 1445.8 L3738.5 1453 L3746.3 1460.2" fill="none" stroke="#1a1a1a" stroke-width="1.6" />
<rect x="3724.5" y="1750.2" width="35.8" height="18.4" fill="#fff799" stroke="#333" stroke-width="1.2"/>
<path d="M3746.3 1752.2 L3738.5 1759.4 L3746.3 1766.6" fill="none" stroke="#1a1a1a" stroke-width="1.6" />
<circle cx="3672.2" cy="1452.8" r="8.5" fill="#1a1a1a"/>
<rect x="3777.6" y="1871.7" width="89.2" height="122.7" rx="9" fill="#a3bccb" stroke="#4a5a64" stroke-width="1.4"/>
<rect x="3783.4" y="1877.5" width="77.6" height="111.1" rx="5" fill="url(#gLampBox)" stroke="#1a8fd0" stroke-width="1.8"/>
<rect x="3742.6" y="1896.9" width="35" height="18" fill="#fff799" stroke="#333" stroke-width="1.2"/>
<path d="M3763.9 1898.9 L3756.3 1905.9 L3763.9 1912.9" fill="none" stroke="#1a1a1a" stroke-width="1.6" />
<rect x="3742.6" y="1949.7" width="35" height="18" fill="#fff799" stroke="#333" stroke-width="1.2"/>
<path d="M3763.9 1951.7 L3756.3 1958.7 L3763.9 1965.7" fill="none" stroke="#1a1a1a" stroke-width="1.6" />
<path d="M3777.6 1905.9 L3822.3 1905.9 L3822.3 1918.5" fill="none" stroke="#1a1a1a" stroke-width="2.4" />
<path d="M3777.6 1958.7 L3822.3 1958.7 L3822.3 1946.5" fill="none" stroke="#1a1a1a" stroke-width="2.4" />
<circle cx="3822.3" cy="1932.5" r="14" fill="#fff" stroke="#00a0e3" stroke-width="2.4"/>
<path d="M3812.4 1922.6 L3832.2 1942.4 M3812.4 1942.4 L3832.2 1922.6" stroke="#00a0e3" stroke-width="1.6" fill="none"/>
<text font-size="29" font-weight="bold" text-anchor="middle" fill="#1a1a1a" transform="translate(3162.5 80.4) scale(0.9 1)">45</text>
<text font-size="29" font-weight="bold" text-anchor="middle" fill="#1a1a1a" transform="translate(3268.5 355.6) scale(0.9 1)">46</text>
<text font-size="29" font-weight="bold" text-anchor="middle" fill="#1a1a1a" transform="translate(3230.9 466.8) scale(0.9 1)">47</text>
<text font-size="29" font-weight="bold" text-anchor="middle" fill="#1a1a1a" transform="translate(3161.5 719.8) scale(0.9 1)">48</text>
<text font-size="29" font-weight="bold" text-anchor="middle" fill="#1a1a1a" transform="translate(3213.7 947.4) scale(0.9 1)">49</text>
<text font-size="29" font-weight="bold" text-anchor="middle" fill="#1a1a1a" transform="translate(3335.8 1254.4) scale(0.9 1)">50</text>
<text font-size="29" font-weight="bold" text-anchor="middle" fill="#1a1a1a" transform="translate(3219.2 1491.4) scale(0.9 1)">51</text>
<text font-size="29" font-weight="bold" text-anchor="middle" fill="#1a1a1a" transform="translate(3217.4 1650.1) scale(0.9 1)">51</text>
<text font-size="29" font-weight="bold" text-anchor="middle" fill="#1a1a1a" transform="translate(3219.2 1798) scale(0.9 1)">52</text>
<text font-size="29" font-weight="bold" text-anchor="middle" fill="#1a1a1a" transform="translate(3181.4 2215.8) scale(0.9 1)">53</text>
<text font-size="29" font-weight="bold" text-anchor="middle" fill="#1a1a1a" transform="translate(3744 80.8) scale(0.9 1)">54</text>
<text font-size="29" font-weight="bold" text-anchor="middle" fill="#1a1a1a" transform="translate(3744 452.4) scale(0.9 1)">55</text>
<text font-size="29" font-weight="bold" text-anchor="middle" fill="#1a1a1a" transform="translate(3901.4 696) scale(0.9 1)">56</text>
<text font-size="29" font-weight="bold" text-anchor="middle" fill="#1a1a1a" transform="translate(3900.4 867) scale(0.9 1)">57</text>
<text font-size="29" font-weight="bold" text-anchor="middle" fill="#1a1a1a" transform="translate(3900.4 1043.7) scale(0.9 1)">57</text>
<text font-size="29" font-weight="bold" text-anchor="middle" fill="#1a1a1a" transform="translate(3851.5 1180.2) scale(0.9 1)">58</text>
<text font-size="29" font-weight="bold" text-anchor="middle" fill="#1a1a1a" transform="translate(3726 1630.1) scale(0.9 1)">59</text>
<text font-size="29" font-weight="bold" text-anchor="middle" fill="#1a1a1a" transform="translate(3901.5 1941.4) scale(0.9 1)">60</text>
<text font-size="29" font-weight="bold" text-anchor="middle" fill="#1a1a1a" transform="translate(3742.2 2070.4) scale(0.9 1)">61</text>
<rect x="1203" y="1862" width="35" height="17.5" fill="#fff799" stroke="#333" stroke-width="1.1"/>
<path d="M1216.5 1862 L1225.5 1870.8 L1216.5 1879.5" fill="none" stroke="#1a1a1a" stroke-width="1.6" />
<rect x="1203" y="1879.5" width="35" height="17.5" fill="#fff799" stroke="#333" stroke-width="1.1"/>
<path d="M1216.5 1879.5 L1225.5 1888.3 L1216.5 1897.1" fill="none" stroke="#1a1a1a" stroke-width="1.6" />
<rect x="1203" y="1897.1" width="35" height="17.5" fill="#fff799" stroke="#333" stroke-width="1.1"/>
<path d="M1216.5 1897.1 L1225.5 1905.8 L1216.5 1914.6" fill="none" stroke="#1a1a1a" stroke-width="1.6" />
<rect x="1203" y="1914.6" width="35" height="17.5" fill="#fff799" stroke="#333" stroke-width="1.1"/>
<path d="M1216.5 1914.6 L1225.5 1923.4 L1216.5 1932.1" fill="none" stroke="#1a1a1a" stroke-width="1.6" />
<rect x="1203" y="1932.1" width="35" height="17.5" fill="#fff799" stroke="#333" stroke-width="1.1"/>
<path d="M1216.5 1932.1 L1225.5 1940.9 L1216.5 1949.6" fill="none" stroke="#1a1a1a" stroke-width="1.6" />
<rect x="1203" y="1949.7" width="35" height="17.5" fill="#fff799" stroke="#333" stroke-width="1.1"/>
<path d="M1216.5 1949.7 L1225.5 1958.4 L1216.5 1967.2" fill="none" stroke="#1a1a1a" stroke-width="1.6" />
<rect x="1203" y="1967.2" width="35" height="17.5" fill="#fff799" stroke="#333" stroke-width="1.1"/>
<path d="M1216.5 1967.2 L1225.5 1975.9 L1216.5 1984.7" fill="none" stroke="#1a1a1a" stroke-width="1.6" />
<rect x="1203" y="2038.6" width="35" height="17.7" fill="#fff799" stroke="#333" stroke-width="1.1"/>
<path d="M1216.5 2038.6 L1225.5 2047.4 L1216.5 2056.3" fill="none" stroke="#1a1a1a" stroke-width="1.6" />
<rect x="1203" y="2056.3" width="35" height="17.7" fill="#fff799" stroke="#333" stroke-width="1.1"/>
<path d="M1216.5 2056.3 L1225.5 2065.1 L1216.5 2074" fill="none" stroke="#1a1a1a" stroke-width="1.6" />
<rect x="1203" y="2074" width="35" height="17.7" fill="#fff799" stroke="#333" stroke-width="1.1"/>
<path d="M1216.5 2074 L1225.5 2082.8 L1216.5 2091.7" fill="none" stroke="#1a1a1a" stroke-width="1.6" />
<rect x="1203" y="2091.7" width="35" height="17.7" fill="#fff799" stroke="#333" stroke-width="1.1"/>
<path d="M1216.5 2091.7 L1225.5 2100.5 L1216.5 2109.4" fill="none" stroke="#1a1a1a" stroke-width="1.6" />
<rect x="1203" y="2109.4" width="35" height="17.7" fill="#fff799" stroke="#333" stroke-width="1.1"/>
<path d="M1216.5 2109.4 L1225.5 2118.2 L1216.5 2127.1" fill="none" stroke="#1a1a1a" stroke-width="1.6" />
<rect x="1203" y="2127" width="35" height="17.7" fill="#fff799" stroke="#333" stroke-width="1.1"/>
<path d="M1216.5 2127 L1225.5 2135.9 L1216.5 2144.7" fill="none" stroke="#1a1a1a" stroke-width="1.6" />
<rect x="1203" y="2144.7" width="35" height="17.7" fill="#fff799" stroke="#333" stroke-width="1.1"/>
<path d="M1216.5 2144.7 L1225.5 2153.6 L1216.5 2162.4" fill="none" stroke="#1a1a1a" stroke-width="1.6" />
<circle cx="1308.4" cy="2011.7" r="12" fill="#1a1a1a"/>
<circle cx="1378.4" cy="1923.4" r="8.5" fill="#1a1a1a"/>
<circle cx="638.5" cy="2117" r="8.5" fill="#1a1a1a"/>
<circle cx="673.9" cy="2153.6" r="8.5" fill="#1a1a1a"/>
<circle cx="1149.6" cy="2065.1" r="8.5" fill="#1a1a1a"/>
<rect x="426.3" y="2276" width="300.3" height="107" fill="#b9d0dc" stroke="#333" stroke-width="1.6"/>
<rect x="444" y="2223.2" width="35.4" height="52.8" fill="#fff799" stroke="#222" stroke-width="1.5"/>
<text font-size="22" text-anchor="middle" fill="#1a1a1a" transform="translate(461.7 2257.3) scale(0.88 1)">3</text>
<rect x="479.4" y="2223.2" width="35.4" height="52.8" fill="#fff799" stroke="#222" stroke-width="1.5"/>
<text font-size="22" text-anchor="middle" fill="#1a1a1a" transform="translate(497.1 2257.3) scale(0.88 1)">7</text>
<rect x="514.7" y="2223.2" width="35.4" height="52.8" fill="#fff799" stroke="#222" stroke-width="1.5"/>
<text font-size="22" text-anchor="middle" fill="#1a1a1a" transform="translate(532.4 2257.3) scale(0.88 1)">2</text>
<rect x="550.1" y="2223.2" width="35.4" height="52.8" fill="#fff799" stroke="#222" stroke-width="1.5"/>
<text font-size="22" text-anchor="middle" fill="#1a1a1a" transform="translate(567.8 2257.3) scale(0.88 1)">1</text>
<rect x="585.5" y="2223.2" width="35.4" height="52.8" fill="#fff799" stroke="#222" stroke-width="1.5"/>
<text font-size="22" text-anchor="middle" fill="#1a1a1a" transform="translate(603.2 2257.3) scale(0.88 1)">6</text>
<rect x="620.9" y="2223.2" width="35.4" height="52.8" fill="#fff799" stroke="#222" stroke-width="1.5"/>
<text font-size="22" text-anchor="middle" fill="#1a1a1a" transform="translate(638.5 2257.3) scale(0.88 1)">4</text>
<rect x="656.2" y="2223.2" width="35.4" height="52.8" fill="#fff799" stroke="#222" stroke-width="1.5"/>
<text font-size="22" text-anchor="middle" fill="#1a1a1a" transform="translate(673.9 2257.3) scale(0.88 1)">5</text>
<g transform="translate(708.5 2249) rotate(270) scale(1.0)" fill="none" stroke="#1a1a1a" stroke-width="1.5"><path d="M-11 0 L11 0 M-9.7 -7 L-2.7 0 L-9.7 7 M-3.5 -7 L3.5 0 L-3.5 7"/></g>
<path d="M461.8 2276 L461.8 2337.3 L481.7 2337.3" fill="none" stroke="#1a1a1a" stroke-width="2.6" />
<path d="M479 2343 L497.5 2306" fill="none" stroke="#1a1a1a" stroke-width="2.6" />
<path d="M496.8 2276 L496.8 2306" fill="none" stroke="#1a1a1a" stroke-width="2.6" />
<path d="M496.8 2342.7 L496.8 2364.2 L566.7 2364.2 L566.7 2342.7" fill="none" stroke="#1a1a1a" stroke-width="2.6" />
<path d="M531.8 2276 L531.8 2364.2" fill="none" stroke="#1a1a1a" stroke-width="2.6" />
<circle cx="531.8" cy="2364.2" r="5.5" fill="#1a1a1a"/>
<path d="M566.7 2276 L566.7 2307.7 L585 2342.7" fill="none" stroke="#1a1a1a" stroke-width="2.6" />
<path d="M602.8 2276 L602.8 2337.3 L587 2337.3" fill="none" stroke="#1a1a1a" stroke-width="2.6" />
<path d="M637.8 2276 L637.8 2364.2 L674.4 2364.2 L674.4 2356" fill="none" stroke="#1a1a1a" stroke-width="2.6" />
<path d="M672.8 2276 L672.8 2305" fill="none" stroke="#1a1a1a" stroke-width="2.6" />
<circle cx="674.4" cy="2330.3" r="26" fill="#fff" stroke="#1a1a1a" stroke-width="2.6"/>
<path d="M662.4 2340.3 L686.4 2340.3 L674.4 2319.3 Z M661.4 2318.3 L687.4 2318.3 M674.4 2304.3 L674.4 2356.3" fill="none" stroke="#1a1a1a" stroke-width="2.4"/>
<path d="M695 2312 L707 2297 M703 2319 L715 2304" stroke="#1a1a1a" stroke-width="1.6"/><path d="M709.5 2294 L708 2301 L703 2297 Z M717.5 2301 L716 2308 L711 2304 Z" fill="#1a1a1a"/>
<rect x="761" y="2276" width="300.4" height="107" fill="#b9d0dc" stroke="#333" stroke-width="1.6"/>
<rect x="796.6" y="2223.2" width="35.4" height="52.8" fill="#fff799" stroke="#222" stroke-width="1.5"/>
<text font-size="22" text-anchor="middle" fill="#1a1a1a" transform="translate(814.3 2257.3) scale(0.88 1)">4</text>
<rect x="832" y="2223.2" width="35.4" height="52.8" fill="#fff799" stroke="#222" stroke-width="1.5"/>
<text font-size="22" text-anchor="middle" fill="#1a1a1a" transform="translate(849.7 2257.3) scale(0.88 1)">5</text>
<rect x="867.4" y="2223.2" width="35.4" height="52.8" fill="#fff799" stroke="#222" stroke-width="1.5"/>
<text font-size="22" text-anchor="middle" fill="#1a1a1a" transform="translate(885.1 2257.3) scale(0.88 1)">6</text>
<rect x="902.8" y="2223.2" width="35.4" height="52.8" fill="#fff799" stroke="#222" stroke-width="1.5"/>
<text font-size="22" text-anchor="middle" fill="#1a1a1a" transform="translate(920.5 2257.3) scale(0.88 1)">1</text>
<rect x="938.2" y="2223.2" width="35.4" height="52.8" fill="#fff799" stroke="#222" stroke-width="1.5"/>
<text font-size="22" text-anchor="middle" fill="#1a1a1a" transform="translate(955.9 2257.3) scale(0.88 1)">2</text>
<rect x="973.6" y="2223.2" width="35.4" height="52.8" fill="#fff799" stroke="#222" stroke-width="1.5"/>
<text font-size="22" text-anchor="middle" fill="#1a1a1a" transform="translate(991.3 2257.3) scale(0.88 1)">7</text>
<rect x="1009" y="2223.2" width="35.4" height="52.8" fill="#fff799" stroke="#222" stroke-width="1.5"/>
<text font-size="22" text-anchor="middle" fill="#1a1a1a" transform="translate(1026.7 2257.3) scale(0.88 1)">3</text>
<g transform="translate(1062 2249) rotate(270) scale(1.0)" fill="none" stroke="#1a1a1a" stroke-width="1.5"><path d="M-11 0 L11 0 M-9.7 -7 L-2.7 0 L-9.7 7 M-3.5 -7 L3.5 0 L-3.5 7"/></g>
<path d="M815.4 2276 L815.4 2305" fill="none" stroke="#1a1a1a" stroke-width="2.6" />
<path d="M850.4 2276 L850.4 2364.2 L812.7 2364.2 L812.7 2356" fill="none" stroke="#1a1a1a" stroke-width="2.6" />
<circle cx="812.7" cy="2330.3" r="26" fill="#fff" stroke="#1a1a1a" stroke-width="2.6"/>
<path d="M800.7 2340.3 L824.7 2340.3 L812.7 2319.3 Z M799.7 2318.3 L825.7 2318.3 M812.7 2304.3 L812.7 2356.3" fill="none" stroke="#1a1a1a" stroke-width="2.4"/>
<path d="M792 2312 L780 2297 M784 2319 L772 2304" stroke="#1a1a1a" stroke-width="1.6"/><path d="M777.5 2294 L779 2301 L784 2297 Z M769.5 2301 L771 2308 L776 2304 Z" fill="#1a1a1a"/>
<path d="M884.3 2276 L884.3 2337.3 L904.2 2337.3" fill="none" stroke="#1a1a1a" stroke-width="2.6" />
<path d="M901.5 2343 L920 2306" fill="none" stroke="#1a1a1a" stroke-width="2.6" />
<path d="M919.3 2276 L919.3 2306" fill="none" stroke="#1a1a1a" stroke-width="2.6" />
<path d="M919.3 2342.7 L919.3 2364.2 L990.3 2364.2 L990.3 2342.7" fill="none" stroke="#1a1a1a" stroke-width="2.6" />
<path d="M955.3 2276 L955.3 2364.2" fill="none" stroke="#1a1a1a" stroke-width="2.6" />
<circle cx="955.3" cy="2364.2" r="5.5" fill="#1a1a1a"/>
<path d="M990.3 2276 L990.3 2307.7 L1008 2342.7" fill="none" stroke="#1a1a1a" stroke-width="2.6" />
<path d="M1026.6 2276 L1026.6 2337.3 L1010 2337.3" fill="none" stroke="#1a1a1a" stroke-width="2.6" />
<rect x="1096.9" y="2276" width="106" height="107" fill="#b9d0dc" stroke="#333" stroke-width="1.6"/>
<rect x="1122.7" y="2241" width="17.9" height="35" fill="#fff799" stroke="#333" stroke-width="1.2"/>
<path d="M1124.7 2262.3 L1131.7 2254.7 L1138.6 2262.3" fill="none" stroke="#1a1a1a" stroke-width="1.6" />
<rect x="1140.6" y="2241" width="17.9" height="35" fill="#fff799" stroke="#333" stroke-width="1.2"/>
<path d="M1142.6 2262.3 L1149.6 2254.7 L1156.6 2262.3" fill="none" stroke="#1a1a1a" stroke-width="1.6" />
<rect x="1158.6" y="2241" width="17.9" height="35" fill="#fff799" stroke="#333" stroke-width="1.2"/>
<path d="M1160.6 2262.3 L1167.5 2254.7 L1174.5 2262.3" fill="none" stroke="#1a1a1a" stroke-width="1.6" />
<path d="M1131.7 2276 L1131.7 2318 L1114 2352" fill="none" stroke="#1a1a1a" stroke-width="2.6" />
<path d="M1167.5 2276 L1167.5 2318 L1185 2352" fill="none" stroke="#1a1a1a" stroke-width="2.6" />
<path d="M1149.6 2276 L1149.6 2364.2" fill="none" stroke="#1a1a1a" stroke-width="2.6" />
<path d="M1131.7 2345 L1131.7 2364.2 L1167.5 2364.2 L1167.5 2345" fill="none" stroke="#1a1a1a" stroke-width="2.6" />
<circle cx="1149.6" cy="2364.2" r="5.5" fill="#1a1a1a"/>
<rect x="1237.9" y="2223.2" width="141" height="159.8" fill="#b9d0dc" stroke="#333" stroke-width="1.6"/>
<rect x="1396.7" y="2210.8" width="26.3" height="36.1" fill="#fff799" stroke="#222" stroke-width="1.5"/>
<text font-size="22" text-anchor="middle" fill="#1a1a1a" transform="translate(1409.9 2236.6) scale(0.88 1)">1</text>
<rect x="1423" y="2210.8" width="26.4" height="36.1" fill="#fff799" stroke="#222" stroke-width="1.5"/>
<text font-size="22" text-anchor="middle" fill="#1a1a1a" transform="translate(1436.2 2236.6) scale(0.88 1)">2</text>
<g transform="translate(1466 2230) rotate(270) scale(1.0)" fill="none" stroke="#1a1a1a" stroke-width="1.5"><path d="M-11 0 L11 0 M-9.7 -7 L-2.7 0 L-9.7 7 M-3.5 -7 L3.5 0 L-3.5 7"/></g>
<path d="M1378.9 2270 L1322.9 2270 L1322.9 2243 L1292 2261" fill="none" stroke="#1a1a1a" stroke-width="2.6" />
<path d="M1290.6 2251.2 L1290.6 2272.7 L1255.6 2272.7 L1255.6 2311.4 L1274 2311.4" fill="none" stroke="#1a1a1a" stroke-width="2.6" />
<path d="M1345 2311.4 L1378.9 2311.4" fill="none" stroke="#1a1a1a" stroke-width="2.6" />
<rect x="1272.5" y="2309.4" width="12" height="18" fill="#fff" stroke="#1a1a1a" stroke-width="2"/>
<rect x="1334.5" y="2309.4" width="12" height="18" fill="#fff" stroke="#1a1a1a" stroke-width="2"/>
<circle cx="1309.5" cy="2318.4" r="28" fill="#fff" stroke="#1a1a1a" stroke-width="2.6"/>
<path d="M1284 2347 L1284 2363 L1336 2363 L1336 2347 L1331 2347 L1331 2357 L1289 2357 L1289 2347 Z" fill="#fff" stroke="#1a1a1a" stroke-width="1.8"/>
<text font-size="29" font-weight="bold" text-anchor="middle" fill="#1a1a1a" transform="translate(417 2245.4) scale(0.9 1)">19</text>
<text font-size="29" font-weight="bold" text-anchor="middle" fill="#1a1a1a" transform="translate(764.3 2245.4) scale(0.9 1)">20</text>
<text font-size="29" font-weight="bold" text-anchor="middle" fill="#1a1a1a" transform="translate(1094 2245.4) scale(0.9 1)">21</text>
<text font-size="29" font-weight="bold" text-anchor="middle" fill="#1a1a1a" transform="translate(1208.8 2245.4) scale(0.9 1)">22</text></svg></body></html>
